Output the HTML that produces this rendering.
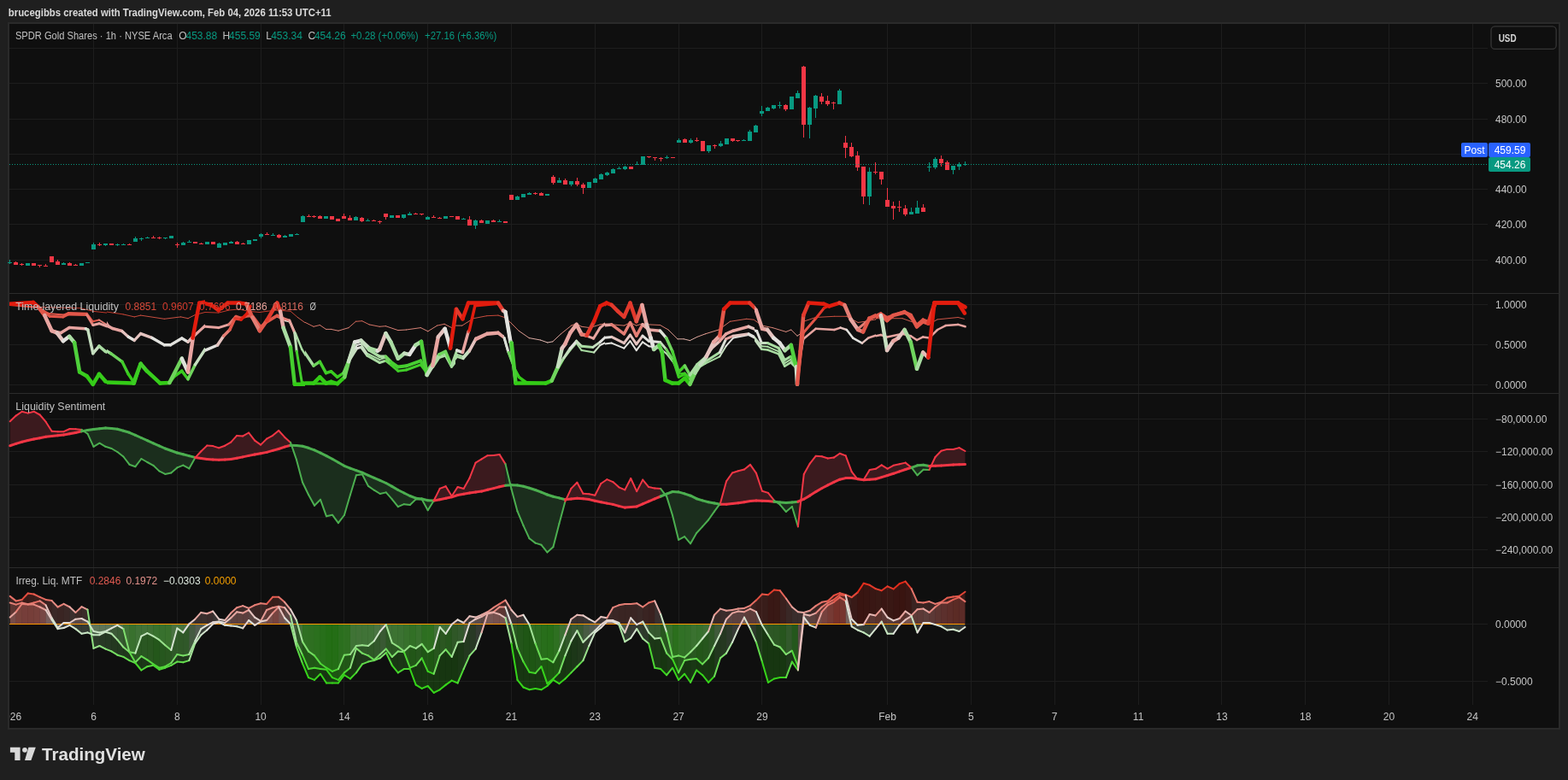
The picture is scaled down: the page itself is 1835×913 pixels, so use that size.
<!DOCTYPE html>
<html><head><meta charset="utf-8"><title>SPDR Gold Shares chart</title>
<style>html,body{margin:0;padding:0;background:#1f1f1f;width:1835px;height:913px;overflow:hidden}</style>
</head><body>
<svg width="1835" height="913" viewBox="0 0 1835 913" style="display:block">
<rect x="0" y="0" width="1835" height="913" fill="#1f1f1f"/>
<rect x="9" y="26" width="1817" height="828" fill="#2a2a2a"/>
<rect x="11" y="28" width="1813" height="824" fill="#0f0f0f"/>
<line x1="109.5" y1="28" x2="109.5" y2="825" stroke="#1d1d1d" stroke-width="1"/>
<line x1="207.5" y1="28" x2="207.5" y2="825" stroke="#1d1d1d" stroke-width="1"/>
<line x1="305.5" y1="28" x2="305.5" y2="825" stroke="#1d1d1d" stroke-width="1"/>
<line x1="402.5" y1="28" x2="402.5" y2="825" stroke="#1d1d1d" stroke-width="1"/>
<line x1="500.5" y1="28" x2="500.5" y2="825" stroke="#1d1d1d" stroke-width="1"/>
<line x1="598.5" y1="28" x2="598.5" y2="825" stroke="#1d1d1d" stroke-width="1"/>
<line x1="696.5" y1="28" x2="696.5" y2="825" stroke="#1d1d1d" stroke-width="1"/>
<line x1="794.5" y1="28" x2="794.5" y2="825" stroke="#1d1d1d" stroke-width="1"/>
<line x1="891.5" y1="28" x2="891.5" y2="825" stroke="#1d1d1d" stroke-width="1"/>
<line x1="1038.5" y1="28" x2="1038.5" y2="825" stroke="#1d1d1d" stroke-width="1"/>
<line x1="1136.5" y1="28" x2="1136.5" y2="825" stroke="#1d1d1d" stroke-width="1"/>
<line x1="1234.5" y1="28" x2="1234.5" y2="825" stroke="#1d1d1d" stroke-width="1"/>
<line x1="1332.5" y1="28" x2="1332.5" y2="825" stroke="#1d1d1d" stroke-width="1"/>
<line x1="1429.5" y1="28" x2="1429.5" y2="825" stroke="#1d1d1d" stroke-width="1"/>
<line x1="1527.5" y1="28" x2="1527.5" y2="825" stroke="#1d1d1d" stroke-width="1"/>
<line x1="1625.5" y1="28" x2="1625.5" y2="825" stroke="#1d1d1d" stroke-width="1"/>
<line x1="1723.5" y1="28" x2="1723.5" y2="825" stroke="#1d1d1d" stroke-width="1"/>
<line x1="11" y1="56.5" x2="1741" y2="56.5" stroke="#1d1d1d" stroke-width="1"/>
<line x1="11" y1="97.5" x2="1741" y2="97.5" stroke="#1d1d1d" stroke-width="1"/>
<line x1="11" y1="139.5" x2="1741" y2="139.5" stroke="#1d1d1d" stroke-width="1"/>
<line x1="11" y1="180.5" x2="1741" y2="180.5" stroke="#1d1d1d" stroke-width="1"/>
<line x1="11" y1="221.5" x2="1741" y2="221.5" stroke="#1d1d1d" stroke-width="1"/>
<line x1="11" y1="262.5" x2="1741" y2="262.5" stroke="#1d1d1d" stroke-width="1"/>
<line x1="11" y1="304.5" x2="1741" y2="304.5" stroke="#1d1d1d" stroke-width="1"/>
<line x1="11" y1="356.5" x2="1741" y2="356.5" stroke="#1d1d1d" stroke-width="1"/>
<line x1="11" y1="403.5" x2="1741" y2="403.5" stroke="#1d1d1d" stroke-width="1"/>
<line x1="11" y1="450.5" x2="1741" y2="450.5" stroke="#1d1d1d" stroke-width="1"/>
<line x1="11" y1="490.5" x2="1741" y2="490.5" stroke="#1d1d1d" stroke-width="1"/>
<line x1="11" y1="528.5" x2="1741" y2="528.5" stroke="#1d1d1d" stroke-width="1"/>
<line x1="11" y1="567.5" x2="1741" y2="567.5" stroke="#1d1d1d" stroke-width="1"/>
<line x1="11" y1="605.5" x2="1741" y2="605.5" stroke="#1d1d1d" stroke-width="1"/>
<line x1="11" y1="643.5" x2="1741" y2="643.5" stroke="#1d1d1d" stroke-width="1"/>
<line x1="11" y1="797.5" x2="1741" y2="797.5" stroke="#1d1d1d" stroke-width="1"/>
<line x1="11" y1="343.5" x2="1824" y2="343.5" stroke="#2b2b2b" stroke-width="1"/>
<line x1="11" y1="460.5" x2="1824" y2="460.5" stroke="#2b2b2b" stroke-width="1"/>
<line x1="11" y1="664.5" x2="1824" y2="664.5" stroke="#2b2b2b" stroke-width="1"/>
<g shape-rendering="crispEdges">
<rect x="11" y="304.0" width="1" height="5.0" fill="#089981"/>
<rect x="9" y="307.0" width="5" height="1.0" fill="#089981"/>
<rect x="18" y="306.0" width="1" height="4.0" fill="#f23645"/>
<rect x="16" y="307.0" width="5" height="3.0" fill="#f23645"/>
<rect x="25" y="308.0" width="1" height="3.0" fill="#f23645"/>
<rect x="23" y="309.0" width="5" height="1.0" fill="#f23645"/>
<rect x="32" y="308.0" width="1" height="3.0" fill="#089981"/>
<rect x="30" y="308.0" width="5" height="3.0" fill="#089981"/>
<rect x="39" y="308.0" width="1" height="3.0" fill="#f23645"/>
<rect x="37" y="308.0" width="5" height="3.0" fill="#f23645"/>
<rect x="46" y="310.0" width="1" height="3.0" fill="#f23645"/>
<rect x="44" y="310.0" width="5" height="1.0" fill="#f23645"/>
<rect x="53" y="309.0" width="1" height="3.0" fill="#f23645"/>
<rect x="51" y="311.0" width="5" height="1.0" fill="#f23645"/>
<rect x="60" y="300.0" width="1" height="7.0" fill="#f23645"/>
<rect x="58" y="300.0" width="5" height="7.0" fill="#f23645"/>
<rect x="67" y="304.0" width="1" height="6.0" fill="#f23645"/>
<rect x="65" y="306.0" width="5" height="4.0" fill="#f23645"/>
<rect x="74" y="307.0" width="1" height="3.0" fill="#089981"/>
<rect x="72" y="308.0" width="5" height="2.0" fill="#089981"/>
<rect x="81" y="307.0" width="1" height="4.0" fill="#f23645"/>
<rect x="79" y="308.0" width="5" height="3.0" fill="#f23645"/>
<rect x="88" y="309.0" width="1" height="2.0" fill="#f23645"/>
<rect x="86" y="310.0" width="5" height="1.0" fill="#f23645"/>
<rect x="95" y="308.0" width="1" height="3.0" fill="#089981"/>
<rect x="93" y="308.0" width="5" height="3.0" fill="#089981"/>
<rect x="102" y="307.0" width="1" height="1.0" fill="#089981"/>
<rect x="100" y="307.0" width="5" height="1.0" fill="#089981"/>
<rect x="109" y="284.0" width="1" height="8.0" fill="#089981"/>
<rect x="107" y="286.0" width="5" height="6.0" fill="#089981"/>
<rect x="116" y="284.0" width="1" height="4.0" fill="#f23645"/>
<rect x="114" y="285.5" width="5" height="1.0" fill="#f23645"/>
<rect x="123" y="284.5" width="1" height="3.5" fill="#089981"/>
<rect x="121" y="285.0" width="5" height="2.0" fill="#089981"/>
<rect x="130" y="285.0" width="1" height="2.0" fill="#f23645"/>
<rect x="128" y="285.0" width="5" height="2.0" fill="#f23645"/>
<rect x="137" y="284.5" width="1" height="3.5" fill="#089981"/>
<rect x="135" y="286.0" width="5" height="1.0" fill="#089981"/>
<rect x="144" y="285.0" width="1" height="2.0" fill="#089981"/>
<rect x="142" y="286.0" width="5" height="1.0" fill="#089981"/>
<rect x="151" y="285.0" width="1" height="2.0" fill="#f23645"/>
<rect x="149" y="286.0" width="5" height="1.0" fill="#f23645"/>
<rect x="158" y="277.0" width="1" height="6.0" fill="#089981"/>
<rect x="156" y="279.0" width="5" height="4.0" fill="#089981"/>
<rect x="165" y="278.0" width="1" height="4.0" fill="#089981"/>
<rect x="163" y="279.0" width="5" height="1.0" fill="#089981"/>
<rect x="172" y="277.0" width="1" height="2.0" fill="#089981"/>
<rect x="170" y="278.0" width="5" height="1.0" fill="#089981"/>
<rect x="179" y="276.0" width="1" height="3.0" fill="#f23645"/>
<rect x="177" y="277.5" width="5" height="1.5" fill="#f23645"/>
<rect x="186" y="277.0" width="1" height="3.0" fill="#f23645"/>
<rect x="184" y="278.0" width="5" height="1.0" fill="#f23645"/>
<rect x="193" y="278.3" width="1" height="1.4" fill="#089981"/>
<rect x="191" y="278.3" width="5" height="1.0" fill="#089981"/>
<rect x="200" y="276.1" width="1" height="2.9" fill="#089981"/>
<rect x="198" y="276.1" width="5" height="2.9" fill="#089981"/>
<rect x="207" y="284.1" width="1" height="5.4" fill="#f23645"/>
<rect x="205" y="285.6" width="5" height="1.0" fill="#f23645"/>
<rect x="214" y="283.0" width="1" height="3.9" fill="#089981"/>
<rect x="212" y="284.0" width="5" height="2.9" fill="#089981"/>
<rect x="221" y="281.2" width="1" height="2.8" fill="#089981"/>
<rect x="219" y="283.0" width="5" height="1.0" fill="#089981"/>
<rect x="228" y="283.2" width="1" height="1.7" fill="#f23645"/>
<rect x="226" y="283.2" width="5" height="1.7" fill="#f23645"/>
<rect x="235" y="284.1" width="1" height="2.0" fill="#f23645"/>
<rect x="233" y="284.6" width="5" height="1.0" fill="#f23645"/>
<rect x="242" y="283.2" width="1" height="2.7" fill="#089981"/>
<rect x="240" y="283.2" width="5" height="2.7" fill="#089981"/>
<rect x="249" y="283.2" width="1" height="2.7" fill="#f23645"/>
<rect x="247" y="283.2" width="5" height="2.7" fill="#f23645"/>
<rect x="256" y="284.1" width="1" height="5.9" fill="#089981"/>
<rect x="254" y="284.9" width="5" height="5.1" fill="#089981"/>
<rect x="263" y="284.1" width="1" height="2.8" fill="#089981"/>
<rect x="261" y="284.1" width="5" height="2.8" fill="#089981"/>
<rect x="270" y="282.0" width="1" height="2.9" fill="#089981"/>
<rect x="268" y="283.2" width="5" height="1.7" fill="#089981"/>
<rect x="277" y="282.0" width="1" height="3.9" fill="#f23645"/>
<rect x="275" y="283.2" width="5" height="2.7" fill="#f23645"/>
<rect x="284" y="284.0" width="1" height="2.0" fill="#f23645"/>
<rect x="282" y="285.0" width="5" height="1.0" fill="#f23645"/>
<rect x="291" y="281.2" width="1" height="4.7" fill="#089981"/>
<rect x="289" y="281.2" width="5" height="4.7" fill="#089981"/>
<rect x="298" y="280.0" width="1" height="2.0" fill="#089981"/>
<rect x="296" y="280.0" width="5" height="2.0" fill="#089981"/>
<rect x="305" y="272.9" width="1" height="5.8" fill="#089981"/>
<rect x="303" y="273.8" width="5" height="3.0" fill="#089981"/>
<rect x="312" y="271.9" width="1" height="2.9" fill="#f23645"/>
<rect x="310" y="273.8" width="5" height="1.0" fill="#f23645"/>
<rect x="319" y="272.9" width="1" height="2.9" fill="#089981"/>
<rect x="317" y="274.8" width="5" height="1.0" fill="#089981"/>
<rect x="326" y="273.8" width="1" height="5.2" fill="#f23645"/>
<rect x="324" y="275.1" width="5" height="3.0" fill="#f23645"/>
<rect x="333" y="274.8" width="1" height="3.0" fill="#089981"/>
<rect x="331" y="276.1" width="5" height="1.7" fill="#089981"/>
<rect x="340" y="274.1" width="1" height="2.7" fill="#089981"/>
<rect x="338" y="274.1" width="5" height="2.7" fill="#089981"/>
<rect x="347" y="272.9" width="1" height="1.9" fill="#089981"/>
<rect x="345" y="273.8" width="5" height="1.0" fill="#089981"/>
<rect x="354" y="251.9" width="1" height="8.1" fill="#089981"/>
<rect x="352" y="253.1" width="5" height="6.9" fill="#089981"/>
<rect x="361" y="250.7" width="1" height="3.1" fill="#f23645"/>
<rect x="359" y="252.9" width="5" height="1.0" fill="#f23645"/>
<rect x="367" y="252.2" width="1" height="2.9" fill="#f23645"/>
<rect x="365" y="252.9" width="5" height="1.0" fill="#f23645"/>
<rect x="374" y="252.2" width="1" height="3.6" fill="#f23645"/>
<rect x="372" y="253.1" width="5" height="2.7" fill="#f23645"/>
<rect x="381" y="253.1" width="1" height="2.7" fill="#089981"/>
<rect x="379" y="253.1" width="5" height="2.7" fill="#089981"/>
<rect x="388" y="253.1" width="1" height="4.0" fill="#f23645"/>
<rect x="386" y="253.1" width="5" height="4.0" fill="#f23645"/>
<rect x="395" y="256.1" width="1" height="2.9" fill="#f23645"/>
<rect x="393" y="256.1" width="5" height="2.9" fill="#f23645"/>
<rect x="402" y="249.9" width="1" height="5.9" fill="#f23645"/>
<rect x="400" y="253.1" width="5" height="2.7" fill="#f23645"/>
<rect x="409" y="251.9" width="1" height="6.2" fill="#f23645"/>
<rect x="407" y="255.1" width="5" height="3.0" fill="#f23645"/>
<rect x="416" y="253.1" width="1" height="5.0" fill="#089981"/>
<rect x="414" y="254.1" width="5" height="4.0" fill="#089981"/>
<rect x="423" y="253.8" width="1" height="6.5" fill="#f23645"/>
<rect x="421" y="254.6" width="5" height="4.4" fill="#f23645"/>
<rect x="430" y="256.1" width="1" height="2.6" fill="#089981"/>
<rect x="428" y="257.8" width="5" height="1.0" fill="#089981"/>
<rect x="437" y="257.1" width="1" height="1.6" fill="#f23645"/>
<rect x="435" y="257.8" width="5" height="1.0" fill="#f23645"/>
<rect x="444" y="258.1" width="1" height="3.9" fill="#f23645"/>
<rect x="442" y="259.0" width="5" height="1.0" fill="#f23645"/>
<rect x="451" y="249.9" width="1" height="7.2" fill="#f23645"/>
<rect x="449" y="249.9" width="5" height="3.9" fill="#f23645"/>
<rect x="458" y="252.2" width="1" height="2.6" fill="#089981"/>
<rect x="456" y="252.2" width="5" height="2.6" fill="#089981"/>
<rect x="465" y="252.2" width="1" height="2.6" fill="#f23645"/>
<rect x="463" y="252.2" width="5" height="2.6" fill="#f23645"/>
<rect x="472" y="251.2" width="1" height="4.9" fill="#089981"/>
<rect x="470" y="251.2" width="5" height="3.9" fill="#089981"/>
<rect x="479" y="248.0" width="1" height="3.9" fill="#089981"/>
<rect x="477" y="249.7" width="5" height="2.2" fill="#089981"/>
<rect x="486" y="249.0" width="1" height="1.9" fill="#f23645"/>
<rect x="484" y="249.9" width="5" height="1.0" fill="#f23645"/>
<rect x="493" y="249.9" width="1" height="2.3" fill="#f23645"/>
<rect x="491" y="249.9" width="5" height="1.0" fill="#f23645"/>
<rect x="500" y="253.1" width="1" height="4.0" fill="#089981"/>
<rect x="498" y="254.1" width="5" height="3.0" fill="#089981"/>
<rect x="507" y="252.2" width="1" height="2.6" fill="#f23645"/>
<rect x="505" y="253.8" width="5" height="1.0" fill="#f23645"/>
<rect x="514" y="254.1" width="1" height="1.7" fill="#f23645"/>
<rect x="512" y="255.1" width="5" height="1.0" fill="#f23645"/>
<rect x="521" y="253.1" width="1" height="2.7" fill="#089981"/>
<rect x="519" y="253.1" width="5" height="2.7" fill="#089981"/>
<rect x="528" y="253.0" width="1" height="1.0" fill="#f23645"/>
<rect x="526" y="253.0" width="5" height="1.0" fill="#f23645"/>
<rect x="535" y="253.0" width="1" height="3.9" fill="#f23645"/>
<rect x="533" y="253.0" width="5" height="3.9" fill="#f23645"/>
<rect x="542" y="254.9" width="1" height="2.0" fill="#089981"/>
<rect x="540" y="255.9" width="5" height="1.0" fill="#089981"/>
<rect x="549" y="253.0" width="1" height="11.0" fill="#f23645"/>
<rect x="547" y="257.1" width="5" height="6.9" fill="#f23645"/>
<rect x="556" y="256.9" width="1" height="11.0" fill="#089981"/>
<rect x="554" y="257.9" width="5" height="6.1" fill="#089981"/>
<rect x="563" y="256.9" width="1" height="4.1" fill="#f23645"/>
<rect x="561" y="258.1" width="5" height="2.9" fill="#f23645"/>
<rect x="570" y="258.1" width="1" height="3.9" fill="#089981"/>
<rect x="568" y="258.1" width="5" height="3.9" fill="#089981"/>
<rect x="577" y="256.9" width="1" height="3.1" fill="#f23645"/>
<rect x="575" y="258.1" width="5" height="1.9" fill="#f23645"/>
<rect x="584" y="256.9" width="1" height="3.1" fill="#089981"/>
<rect x="582" y="258.6" width="5" height="1.4" fill="#089981"/>
<rect x="591" y="258.9" width="1" height="2.1" fill="#f23645"/>
<rect x="589" y="258.9" width="5" height="2.1" fill="#f23645"/>
<rect x="598" y="228.0" width="1" height="6.1" fill="#f23645"/>
<rect x="596" y="228.0" width="5" height="6.1" fill="#f23645"/>
<rect x="605" y="229.0" width="1" height="5.1" fill="#089981"/>
<rect x="603" y="230.2" width="5" height="3.9" fill="#089981"/>
<rect x="612" y="227.0" width="1" height="3.9" fill="#089981"/>
<rect x="610" y="227.0" width="5" height="3.9" fill="#089981"/>
<rect x="619" y="225.0" width="1" height="3.0" fill="#089981"/>
<rect x="617" y="226.0" width="5" height="2.0" fill="#089981"/>
<rect x="626" y="225.0" width="1" height="3.0" fill="#f23645"/>
<rect x="624" y="226.0" width="5" height="1.0" fill="#f23645"/>
<rect x="633" y="225.0" width="1" height="3.9" fill="#f23645"/>
<rect x="631" y="226.0" width="5" height="2.9" fill="#f23645"/>
<rect x="640" y="227.0" width="1" height="1.9" fill="#089981"/>
<rect x="638" y="227.0" width="5" height="1.9" fill="#089981"/>
<rect x="647" y="204.9" width="1" height="11.0" fill="#f23645"/>
<rect x="645" y="206.9" width="5" height="6.8" fill="#f23645"/>
<rect x="654" y="208.0" width="1" height="5.9" fill="#089981"/>
<rect x="652" y="211.0" width="5" height="2.9" fill="#089981"/>
<rect x="661" y="209.0" width="1" height="6.9" fill="#f23645"/>
<rect x="659" y="211.0" width="5" height="4.9" fill="#f23645"/>
<rect x="668" y="212.0" width="1" height="5.9" fill="#089981"/>
<rect x="666" y="212.0" width="5" height="3.9" fill="#089981"/>
<rect x="675" y="208.0" width="1" height="9.9" fill="#f23645"/>
<rect x="673" y="212.0" width="5" height="3.9" fill="#f23645"/>
<rect x="682" y="214.2" width="1" height="12.8" fill="#f23645"/>
<rect x="680" y="216.2" width="5" height="3.6" fill="#f23645"/>
<rect x="689" y="213.2" width="1" height="6.6" fill="#089981"/>
<rect x="687" y="213.2" width="5" height="6.6" fill="#089981"/>
<rect x="696" y="208.3" width="1" height="5.9" fill="#089981"/>
<rect x="694" y="209.3" width="5" height="4.9" fill="#089981"/>
<rect x="703" y="202.9" width="1" height="6.8" fill="#089981"/>
<rect x="701" y="203.9" width="5" height="5.8" fill="#089981"/>
<rect x="710" y="200.9" width="1" height="4.9" fill="#089981"/>
<rect x="708" y="201.9" width="5" height="3.1" fill="#089981"/>
<rect x="717" y="197.0" width="1" height="5.9" fill="#089981"/>
<rect x="715" y="198.0" width="5" height="4.9" fill="#089981"/>
<rect x="724" y="195.0" width="1" height="3.0" fill="#089981"/>
<rect x="722" y="197.0" width="5" height="1.0" fill="#089981"/>
<rect x="731" y="194.0" width="1" height="5.0" fill="#089981"/>
<rect x="729" y="195.0" width="5" height="3.0" fill="#089981"/>
<rect x="738" y="195.2" width="1" height="2.8" fill="#f23645"/>
<rect x="736" y="195.2" width="5" height="2.8" fill="#f23645"/>
<rect x="745" y="189.1" width="1" height="3.8" fill="#089981"/>
<rect x="743" y="191.9" width="5" height="1.0" fill="#089981"/>
<rect x="752" y="183.1" width="1" height="9.8" fill="#089981"/>
<rect x="750" y="183.1" width="5" height="9.8" fill="#089981"/>
<rect x="759" y="183.1" width="1" height="1.9" fill="#f23645"/>
<rect x="757" y="183.1" width="5" height="1.0" fill="#f23645"/>
<rect x="766" y="183.5" width="1" height="4.5" fill="#f23645"/>
<rect x="764" y="184.3" width="5" height="1.0" fill="#f23645"/>
<rect x="773" y="184.3" width="1" height="4.7" fill="#f23645"/>
<rect x="771" y="184.8" width="5" height="1.0" fill="#f23645"/>
<rect x="780" y="182.1" width="1" height="3.9" fill="#089981"/>
<rect x="778" y="184.0" width="5" height="1.0" fill="#089981"/>
<rect x="787" y="184.0" width="1" height="1.0" fill="#f23645"/>
<rect x="785" y="184.0" width="5" height="1.0" fill="#f23645"/>
<rect x="794" y="161.9" width="1" height="4.9" fill="#089981"/>
<rect x="792" y="164.1" width="5" height="2.7" fill="#089981"/>
<rect x="801" y="162.0" width="1" height="4.8" fill="#f23645"/>
<rect x="799" y="163.1" width="5" height="3.7" fill="#f23645"/>
<rect x="808" y="162.2" width="1" height="5.6" fill="#089981"/>
<rect x="806" y="163.8" width="5" height="3.3" fill="#089981"/>
<rect x="815" y="160.9" width="1" height="4.9" fill="#f23645"/>
<rect x="813" y="163.8" width="5" height="1.0" fill="#f23645"/>
<rect x="822" y="165.1" width="1" height="11.8" fill="#f23645"/>
<rect x="820" y="165.1" width="5" height="11.8" fill="#f23645"/>
<rect x="829" y="170.0" width="1" height="8.8" fill="#089981"/>
<rect x="827" y="170.0" width="5" height="6.9" fill="#089981"/>
<rect x="836" y="168.5" width="1" height="5.4" fill="#f23645"/>
<rect x="834" y="170.0" width="5" height="1.0" fill="#f23645"/>
<rect x="843" y="165.1" width="1" height="6.9" fill="#089981"/>
<rect x="841" y="168.1" width="5" height="2.9" fill="#089981"/>
<rect x="850" y="161.9" width="1" height="6.8" fill="#089981"/>
<rect x="848" y="161.9" width="5" height="6.8" fill="#089981"/>
<rect x="857" y="162.2" width="1" height="3.6" fill="#f23645"/>
<rect x="855" y="162.2" width="5" height="2.9" fill="#f23645"/>
<rect x="863" y="164.1" width="1" height="1.9" fill="#f23645"/>
<rect x="861" y="164.1" width="5" height="1.1" fill="#f23645"/>
<rect x="870" y="163.0" width="1" height="1.9" fill="#089981"/>
<rect x="868" y="163.8" width="5" height="1.1" fill="#089981"/>
<rect x="877" y="151.9" width="1" height="13.0" fill="#089981"/>
<rect x="875" y="154.0" width="5" height="10.9" fill="#089981"/>
<rect x="884" y="146.0" width="1" height="9.1" fill="#089981"/>
<rect x="882" y="146.8" width="5" height="8.3" fill="#089981"/>
<rect x="891" y="123.8" width="1" height="12.3" fill="#089981"/>
<rect x="889" y="130.0" width="5" height="3.0" fill="#089981"/>
<rect x="898" y="125.0" width="1" height="4.8" fill="#089981"/>
<rect x="896" y="126.1" width="5" height="3.7" fill="#089981"/>
<rect x="905" y="123.1" width="1" height="4.7" fill="#089981"/>
<rect x="903" y="123.1" width="5" height="3.8" fill="#089981"/>
<rect x="912" y="119.2" width="1" height="7.7" fill="#089981"/>
<rect x="910" y="122.7" width="5" height="1.1" fill="#089981"/>
<rect x="919" y="122.0" width="1" height="8.0" fill="#f23645"/>
<rect x="917" y="123.1" width="5" height="5.0" fill="#f23645"/>
<rect x="926" y="113.1" width="1" height="15.0" fill="#089981"/>
<rect x="924" y="113.1" width="5" height="15.0" fill="#089981"/>
<rect x="933" y="105.9" width="1" height="9.0" fill="#089981"/>
<rect x="931" y="109.1" width="5" height="5.8" fill="#089981"/>
<rect x="940" y="77.1" width="1" height="84.0" fill="#f23645"/>
<rect x="938" y="77.8" width="5" height="68.1" fill="#f23645"/>
<rect x="947" y="125.0" width="1" height="37.0" fill="#089981"/>
<rect x="945" y="125.8" width="5" height="20.1" fill="#089981"/>
<rect x="954" y="111.0" width="1" height="26.9" fill="#089981"/>
<rect x="952" y="112.0" width="5" height="14.9" fill="#089981"/>
<rect x="961" y="109.1" width="1" height="12.9" fill="#f23645"/>
<rect x="959" y="113.1" width="5" height="5.8" fill="#f23645"/>
<rect x="968" y="112.0" width="1" height="12.1" fill="#f23645"/>
<rect x="966" y="118.1" width="5" height="3.9" fill="#f23645"/>
<rect x="975" y="119.2" width="1" height="8.9" fill="#f23645"/>
<rect x="973" y="119.7" width="5" height="1.1" fill="#f23645"/>
<rect x="982" y="103.9" width="1" height="18.1" fill="#089981"/>
<rect x="980" y="105.9" width="5" height="16.1" fill="#089981"/>
<rect x="989" y="158.8" width="1" height="26.2" fill="#f23645"/>
<rect x="987" y="166.9" width="5" height="6.0" fill="#f23645"/>
<rect x="996" y="167.1" width="1" height="16.8" fill="#f23645"/>
<rect x="994" y="172.0" width="5" height="11.2" fill="#f23645"/>
<rect x="1003" y="177.0" width="1" height="23.0" fill="#f23645"/>
<rect x="1001" y="181.9" width="5" height="14.0" fill="#f23645"/>
<rect x="1010" y="195.0" width="1" height="43.9" fill="#f23645"/>
<rect x="1008" y="195.0" width="5" height="34.9" fill="#f23645"/>
<rect x="1017" y="195.9" width="1" height="44.1" fill="#089981"/>
<rect x="1015" y="201.1" width="5" height="28.8" fill="#089981"/>
<rect x="1024" y="189.8" width="1" height="14.2" fill="#f23645"/>
<rect x="1022" y="201.1" width="5" height="1.1" fill="#f23645"/>
<rect x="1031" y="201.1" width="1" height="15.0" fill="#f23645"/>
<rect x="1029" y="201.1" width="5" height="8.7" fill="#f23645"/>
<rect x="1038" y="220.0" width="1" height="22.1" fill="#f23645"/>
<rect x="1036" y="233.9" width="5" height="8.2" fill="#f23645"/>
<rect x="1045" y="235.8" width="1" height="21.1" fill="#f23645"/>
<rect x="1043" y="241.0" width="5" height="2.8" fill="#f23645"/>
<rect x="1052" y="235.0" width="1" height="12.8" fill="#f23645"/>
<rect x="1050" y="241.5" width="5" height="1.3" fill="#f23645"/>
<rect x="1059" y="240.0" width="1" height="12.9" fill="#f23645"/>
<rect x="1057" y="244.1" width="5" height="7.0" fill="#f23645"/>
<rect x="1066" y="243.0" width="1" height="7.9" fill="#089981"/>
<rect x="1064" y="247.8" width="5" height="3.1" fill="#089981"/>
<rect x="1073" y="235.0" width="1" height="15.0" fill="#089981"/>
<rect x="1071" y="243.0" width="5" height="7.0" fill="#089981"/>
<rect x="1080" y="238.9" width="1" height="8.9" fill="#f23645"/>
<rect x="1078" y="243.0" width="5" height="4.8" fill="#f23645"/>
<rect x="1087" y="189.8" width="1" height="11.3" fill="#089981"/>
<rect x="1085" y="194.8" width="5" height="1.6" fill="#089981"/>
<rect x="1094" y="183.9" width="1" height="13.9" fill="#089981"/>
<rect x="1092" y="186.1" width="5" height="9.8" fill="#089981"/>
<rect x="1101" y="181.9" width="1" height="13.1" fill="#f23645"/>
<rect x="1099" y="186.1" width="5" height="4.8" fill="#f23645"/>
<rect x="1108" y="187.9" width="1" height="11.0" fill="#f23645"/>
<rect x="1106" y="189.8" width="5" height="9.1" fill="#f23645"/>
<rect x="1115" y="194.0" width="1" height="9.8" fill="#089981"/>
<rect x="1113" y="194.0" width="5" height="4.9" fill="#089981"/>
<rect x="1122" y="189.8" width="1" height="9.1" fill="#089981"/>
<rect x="1120" y="192.0" width="5" height="2.8" fill="#089981"/>
<rect x="1129" y="189.0" width="1" height="4.7" fill="#089981"/>
<rect x="1127" y="192.0" width="5" height="1.0" fill="#089981"/>
</g>
<line x1="11" y1="192.5" x2="1741" y2="192.5" stroke="#089981" stroke-width="1" stroke-dasharray="1 2"/>
<defs>
<clipPath id="c2_0"><rect x="10" y="344" width="115" height="116"/></clipPath>
<clipPath id="c2_1"><rect x="125" y="344" width="115" height="116"/></clipPath>
<clipPath id="c2_2"><rect x="240" y="344" width="117" height="116"/></clipPath>
<clipPath id="c2_3"><rect x="357" y="344" width="176" height="116"/></clipPath>
<clipPath id="c2_4"><rect x="533" y="344" width="175" height="116"/></clipPath>
<clipPath id="c2_5"><rect x="708" y="344" width="175" height="116"/></clipPath>
<clipPath id="c2_6"><rect x="883" y="344" width="142" height="116"/></clipPath>
<clipPath id="c2_7"><rect x="1025" y="344" width="110" height="116"/></clipPath>
<clipPath id="cp2"><rect x="11" y="344" width="1730" height="116"/></clipPath>
</defs>
<g clip-path="url(#cp2)" stroke-linecap="round" stroke-linejoin="round" fill="none">
<g clip-path="url(#c2_0)">
<line x1="10.0" y1="357.0" x2="46.1" y2="359.5" stroke="#c0392b" stroke-width="1"/>
<line x1="46.1" y1="359.5" x2="94.3" y2="360.7" stroke="#c0392b" stroke-width="1"/>
<line x1="94.3" y1="360.7" x2="108.8" y2="364.3" stroke="#c0392b" stroke-width="1"/>
<line x1="108.8" y1="364.3" x2="130.0" y2="366.7" stroke="#c0392b" stroke-width="1"/>
<line x1="10.0" y1="357.0" x2="46.1" y2="360.1" stroke="#e2392c" stroke-width="2"/>
<line x1="46.1" y1="360.1" x2="52.2" y2="364.3" stroke="#e2574a" stroke-width="2"/>
<line x1="52.2" y1="364.3" x2="58.2" y2="367.3" stroke="#e2574a" stroke-width="2"/>
<line x1="58.2" y1="367.3" x2="75.1" y2="368.5" stroke="#e2574a" stroke-width="2"/>
<line x1="75.1" y1="368.5" x2="79.9" y2="366.1" stroke="#e2574a" stroke-width="2"/>
<line x1="79.9" y1="366.1" x2="101.6" y2="366.7" stroke="#e2574a" stroke-width="2"/>
<line x1="101.6" y1="366.7" x2="108.8" y2="376.3" stroke="#e2574a" stroke-width="2"/>
<line x1="108.8" y1="376.3" x2="116.0" y2="374.5" stroke="#e2574a" stroke-width="2"/>
<line x1="116.0" y1="374.5" x2="124.5" y2="379.9" stroke="#e47e75" stroke-width="2"/>
<line x1="124.5" y1="379.9" x2="130.0" y2="382.3" stroke="#e7a4a0" stroke-width="2"/>
<line x1="10.0" y1="356.4" x2="38.9" y2="354.6" stroke="#e21c0e" stroke-width="3"/>
<line x1="38.9" y1="354.6" x2="46.1" y2="360.7" stroke="#e2392c" stroke-width="3"/>
<line x1="46.1" y1="360.7" x2="58.2" y2="370.3" stroke="#e2574a" stroke-width="3"/>
<line x1="58.2" y1="370.3" x2="73.9" y2="370.9" stroke="#e2574a" stroke-width="3"/>
<line x1="73.9" y1="370.9" x2="79.9" y2="367.9" stroke="#e2574a" stroke-width="3"/>
<line x1="79.9" y1="367.9" x2="101.6" y2="368.5" stroke="#e2574a" stroke-width="3"/>
<line x1="101.6" y1="368.5" x2="108.8" y2="380.5" stroke="#e47e75" stroke-width="3"/>
<line x1="108.8" y1="380.5" x2="116.0" y2="378.7" stroke="#e7a4a0" stroke-width="3"/>
<line x1="116.0" y1="378.7" x2="130.0" y2="383.6" stroke="#e7a4a0" stroke-width="3"/>
<line x1="10.0" y1="356.4" x2="38.9" y2="354.6" stroke="#e21c0e" stroke-width="3.5"/>
<line x1="38.9" y1="354.6" x2="44.9" y2="359.5" stroke="#e21c0e" stroke-width="3.5"/>
<line x1="44.9" y1="359.5" x2="52.2" y2="369.1" stroke="#e2574a" stroke-width="3.5"/>
<line x1="52.2" y1="369.1" x2="60.6" y2="387.2" stroke="#e7a4a0" stroke-width="3.5"/>
<line x1="60.6" y1="387.2" x2="71.4" y2="389.6" stroke="#e7a4a0" stroke-width="3.5"/>
<line x1="71.4" y1="389.6" x2="81.1" y2="383.6" stroke="#e7a4a0" stroke-width="3.5"/>
<line x1="81.1" y1="383.6" x2="100.4" y2="384.8" stroke="#e7a4a0" stroke-width="3.5"/>
<line x1="100.4" y1="384.8" x2="102.8" y2="386.0" stroke="#dce1d8" stroke-width="3.5"/>
<line x1="102.8" y1="386.0" x2="108.8" y2="413.7" stroke="#c6dfc0" stroke-width="3.5"/>
<line x1="108.8" y1="413.7" x2="116.0" y2="405.2" stroke="#c6dfc0" stroke-width="3.5"/>
<line x1="116.0" y1="405.2" x2="123.3" y2="411.3" stroke="#a9dca2" stroke-width="3.5"/>
<line x1="123.3" y1="411.3" x2="130.0" y2="414.9" stroke="#a9dca2" stroke-width="3.5"/>
<line x1="10.0" y1="355.8" x2="38.9" y2="354.0" stroke="#e21c0e" stroke-width="4.5"/>
<line x1="38.9" y1="354.0" x2="44.9" y2="359.5" stroke="#e21c0e" stroke-width="4.5"/>
<line x1="44.9" y1="359.5" x2="52.2" y2="369.1" stroke="#e2574a" stroke-width="4.5"/>
<line x1="52.2" y1="369.1" x2="60.6" y2="387.2" stroke="#e7a4a0" stroke-width="4.5"/>
<line x1="60.6" y1="387.2" x2="66.6" y2="389.6" stroke="#e7a4a0" stroke-width="4.5"/>
<line x1="66.6" y1="389.6" x2="73.9" y2="399.2" stroke="#e4c3bf" stroke-width="4.5"/>
<line x1="73.9" y1="399.2" x2="81.1" y2="393.8" stroke="#e2e2de" stroke-width="4.5"/>
<line x1="81.1" y1="393.8" x2="87.1" y2="401.0" stroke="#a9dca2" stroke-width="4.5"/>
<line x1="87.1" y1="401.0" x2="93.1" y2="435.4" stroke="#4fd03c" stroke-width="4.5"/>
<line x1="93.1" y1="435.4" x2="101.6" y2="440.2" stroke="#3bcd21" stroke-width="4.5"/>
<line x1="101.6" y1="440.2" x2="108.8" y2="449.8" stroke="#34cc17" stroke-width="4.5"/>
<line x1="108.8" y1="449.8" x2="116.0" y2="437.8" stroke="#35cc19" stroke-width="4.5"/>
<line x1="116.0" y1="437.8" x2="123.3" y2="446.2" stroke="#37cc1b" stroke-width="4.5"/>
<line x1="123.3" y1="446.2" x2="130.0" y2="448.6" stroke="#33cc16" stroke-width="4.5"/>
</g>
<g clip-path="url(#c2_1)">
<line x1="120.0" y1="364.3" x2="144.1" y2="367.9" stroke="#c13a2c" stroke-width="1"/>
<line x1="144.1" y1="367.9" x2="157.3" y2="370.9" stroke="#c54739" stroke-width="1"/>
<line x1="157.3" y1="370.9" x2="164.6" y2="369.1" stroke="#c64a3b" stroke-width="1"/>
<line x1="164.6" y1="369.1" x2="192.3" y2="373.3" stroke="#c84e40" stroke-width="1"/>
<line x1="192.3" y1="373.3" x2="211.6" y2="370.9" stroke="#c95243" stroke-width="1"/>
<line x1="211.6" y1="370.9" x2="220.0" y2="372.7" stroke="#c95142" stroke-width="1"/>
<line x1="220.0" y1="372.7" x2="228.4" y2="368.5" stroke="#c74c3e" stroke-width="1"/>
<line x1="228.4" y1="368.5" x2="240.0" y2="365.5" stroke="#c23e30" stroke-width="1"/>
<line x1="120.0" y1="375.7" x2="124.8" y2="377.5" stroke="#e7a4a0" stroke-width="2"/>
<line x1="124.8" y1="377.5" x2="127.2" y2="381.1" stroke="#e7a4a0" stroke-width="2"/>
<line x1="127.2" y1="381.1" x2="132.0" y2="383.8" stroke="#e7a4a0" stroke-width="2"/>
<line x1="132.0" y1="383.8" x2="142.9" y2="386.8" stroke="#e7a4a0" stroke-width="2"/>
<line x1="142.9" y1="386.8" x2="150.1" y2="393.4" stroke="#e4c3bf" stroke-width="2"/>
<line x1="150.1" y1="393.4" x2="157.3" y2="397.7" stroke="#e2e2de" stroke-width="2"/>
<line x1="157.3" y1="397.7" x2="164.6" y2="389.8" stroke="#e4c3bf" stroke-width="2"/>
<line x1="164.6" y1="389.8" x2="177.8" y2="394.6" stroke="#e4c3bf" stroke-width="2"/>
<line x1="177.8" y1="394.6" x2="192.3" y2="403.1" stroke="#e2e2de" stroke-width="2"/>
<line x1="192.3" y1="403.1" x2="199.5" y2="403.1" stroke="#e2e2de" stroke-width="2"/>
<line x1="199.5" y1="403.1" x2="212.8" y2="395.2" stroke="#e2e2de" stroke-width="2"/>
<line x1="212.8" y1="395.2" x2="220.0" y2="399.5" stroke="#e2e2de" stroke-width="2"/>
<line x1="220.0" y1="399.5" x2="226.0" y2="392.6" stroke="#e4c3bf" stroke-width="2"/>
<line x1="226.0" y1="392.6" x2="240.0" y2="382.3" stroke="#e7a4a0" stroke-width="2"/>
<line x1="120.0" y1="379.9" x2="127.2" y2="382.3" stroke="#e7a4a0" stroke-width="3"/>
<line x1="127.2" y1="382.3" x2="132.0" y2="384.8" stroke="#e7a4a0" stroke-width="3"/>
<line x1="132.0" y1="384.8" x2="142.9" y2="387.8" stroke="#e7a4a0" stroke-width="3"/>
<line x1="142.9" y1="387.8" x2="150.1" y2="394.4" stroke="#e4c3bf" stroke-width="3"/>
<line x1="150.1" y1="394.4" x2="157.3" y2="398.6" stroke="#e2e2de" stroke-width="3"/>
<line x1="157.3" y1="398.6" x2="164.6" y2="390.8" stroke="#e4c3bf" stroke-width="3"/>
<line x1="164.6" y1="390.8" x2="177.8" y2="395.6" stroke="#e4c3bf" stroke-width="3"/>
<line x1="177.8" y1="395.6" x2="192.3" y2="404.0" stroke="#e2e2de" stroke-width="3"/>
<line x1="192.3" y1="404.0" x2="199.5" y2="404.0" stroke="#e2e2de" stroke-width="3"/>
<line x1="199.5" y1="404.0" x2="212.8" y2="396.2" stroke="#e2e2de" stroke-width="3"/>
<line x1="212.8" y1="396.2" x2="220.0" y2="400.4" stroke="#e2e2de" stroke-width="3"/>
<line x1="220.0" y1="400.4" x2="224.8" y2="395.6" stroke="#e4c3bf" stroke-width="3"/>
<line x1="224.8" y1="395.6" x2="240.0" y2="381.1" stroke="#e7a4a0" stroke-width="3"/>
<line x1="120.0" y1="407.7" x2="129.6" y2="413.7" stroke="#a9dca2" stroke-width="3.5"/>
<line x1="129.6" y1="413.7" x2="142.9" y2="423.3" stroke="#6fd45d" stroke-width="3.5"/>
<line x1="142.9" y1="423.3" x2="150.1" y2="437.8" stroke="#42ce2b" stroke-width="3.5"/>
<line x1="150.1" y1="437.8" x2="157.3" y2="448.6" stroke="#35cc19" stroke-width="3.5"/>
<line x1="157.3" y1="448.6" x2="164.6" y2="425.7" stroke="#3bcd22" stroke-width="3.5"/>
<line x1="164.6" y1="425.7" x2="171.8" y2="434.2" stroke="#42ce2b" stroke-width="3.5"/>
<line x1="171.8" y1="434.2" x2="187.5" y2="448.6" stroke="#37cd1c" stroke-width="3.5"/>
<line x1="187.5" y1="448.6" x2="198.3" y2="448.0" stroke="#33cc16" stroke-width="3.5"/>
<line x1="198.3" y1="448.0" x2="204.3" y2="440.2" stroke="#35cc18" stroke-width="3.5"/>
<line x1="204.3" y1="440.2" x2="212.8" y2="434.2" stroke="#3bcd22" stroke-width="3.5"/>
<line x1="212.8" y1="434.2" x2="220.0" y2="443.8" stroke="#3acd1f" stroke-width="3.5"/>
<line x1="220.0" y1="443.8" x2="228.4" y2="426.9" stroke="#6fd45d" stroke-width="3.5"/>
<line x1="228.4" y1="426.9" x2="240.0" y2="408.9" stroke="#c6dfc0" stroke-width="3.5"/>
<line x1="120.0" y1="441.4" x2="123.6" y2="447.4" stroke="#34cc18" stroke-width="4.5"/>
<line x1="123.6" y1="447.4" x2="156.1" y2="448.6" stroke="#33cc16" stroke-width="4.5"/>
<line x1="156.1" y1="448.6" x2="164.6" y2="425.7" stroke="#3bcd22" stroke-width="4.5"/>
<line x1="164.6" y1="425.7" x2="171.8" y2="434.2" stroke="#42ce2b" stroke-width="4.5"/>
<line x1="171.8" y1="434.2" x2="187.5" y2="448.6" stroke="#37cd1c" stroke-width="4.5"/>
<line x1="187.5" y1="448.6" x2="198.3" y2="448.0" stroke="#33cc16" stroke-width="4.5"/>
<line x1="198.3" y1="448.0" x2="212.8" y2="419.7" stroke="#6fd45d" stroke-width="4.5"/>
<line x1="212.8" y1="419.7" x2="220.0" y2="435.4" stroke="#dce1d8" stroke-width="4.5"/>
<line x1="220.0" y1="435.4" x2="226.0" y2="394.4" stroke="#e7a4a0" stroke-width="4.5"/>
<line x1="225.5" y1="395.6" x2="233.3" y2="354.6" stroke="#e21c0e" stroke-width="4.5"/>
<line x1="233.3" y1="354.6" x2="240.0" y2="353.4" stroke="#e21c0e" stroke-width="4.5"/>
</g>
<g clip-path="url(#c2_2)">
<line x1="240.0" y1="365.5" x2="255.7" y2="366.1" stroke="#c0392b" stroke-width="1"/>
<line x1="255.7" y1="366.1" x2="267.7" y2="363.1" stroke="#c0392b" stroke-width="1"/>
<line x1="267.7" y1="363.1" x2="279.8" y2="361.9" stroke="#c0392b" stroke-width="1"/>
<line x1="279.8" y1="361.9" x2="290.6" y2="364.3" stroke="#c0392b" stroke-width="1"/>
<line x1="290.6" y1="364.3" x2="303.9" y2="365.5" stroke="#c0392b" stroke-width="1"/>
<line x1="303.9" y1="365.5" x2="312.3" y2="364.3" stroke="#c0392b" stroke-width="1"/>
<line x1="312.3" y1="364.3" x2="324.3" y2="363.1" stroke="#c0392b" stroke-width="1"/>
<line x1="324.3" y1="363.1" x2="340.0" y2="364.3" stroke="#c0392b" stroke-width="1"/>
<line x1="340.0" y1="364.3" x2="348.4" y2="371.5" stroke="#c34233" stroke-width="1"/>
<line x1="348.4" y1="371.5" x2="360.0" y2="379.9" stroke="#ce6051" stroke-width="1"/>
<line x1="312.3" y1="377.5" x2="324.3" y2="370.3" stroke="#e2574a" stroke-width="2.5"/>
<line x1="324.3" y1="370.3" x2="334.0" y2="375.1" stroke="#e47e75" stroke-width="2.5"/>
<line x1="334.0" y1="375.1" x2="338.8" y2="376.3" stroke="#dce1d8" stroke-width="2.5"/>
<line x1="338.8" y1="376.3" x2="346.0" y2="390.8" stroke="#a9dca2" stroke-width="2.5"/>
<line x1="346.0" y1="390.8" x2="353.3" y2="408.9" stroke="#a9dca2" stroke-width="2.5"/>
<line x1="353.3" y1="408.9" x2="360.0" y2="419.7" stroke="#a9dca2" stroke-width="2.5"/>
<line x1="240.0" y1="382.3" x2="255.7" y2="383.6" stroke="#e7a4a0" stroke-width="3"/>
<line x1="255.7" y1="383.6" x2="267.7" y2="379.9" stroke="#e7a4a0" stroke-width="3"/>
<line x1="267.7" y1="379.9" x2="276.1" y2="370.3" stroke="#e47e75" stroke-width="3"/>
<line x1="276.1" y1="370.3" x2="282.2" y2="372.1" stroke="#e2574a" stroke-width="3"/>
<line x1="282.2" y1="372.1" x2="290.6" y2="369.7" stroke="#e2574a" stroke-width="3"/>
<line x1="290.6" y1="369.7" x2="296.6" y2="370.9" stroke="#e2574a" stroke-width="3"/>
<line x1="296.6" y1="370.9" x2="305.1" y2="382.3" stroke="#e2574a" stroke-width="3"/>
<line x1="305.1" y1="382.3" x2="312.3" y2="376.3" stroke="#e2574a" stroke-width="3"/>
<line x1="312.3" y1="376.3" x2="324.3" y2="369.1" stroke="#e2574a" stroke-width="3"/>
<line x1="324.3" y1="369.1" x2="331.6" y2="372.7" stroke="#e2574a" stroke-width="3"/>
<line x1="331.6" y1="372.7" x2="338.8" y2="375.1" stroke="#e47e75" stroke-width="3"/>
<line x1="338.8" y1="375.1" x2="344.8" y2="389.6" stroke="#e7a4a0" stroke-width="3"/>
<line x1="344.8" y1="389.6" x2="347.2" y2="411.3" stroke="#c0deba" stroke-width="3"/>
<line x1="347.2" y1="411.3" x2="353.3" y2="447.4" stroke="#43ce2c" stroke-width="3"/>
<line x1="353.3" y1="447.4" x2="360.0" y2="448.6" stroke="#33cc16" stroke-width="3"/>
<line x1="240.0" y1="410.1" x2="254.5" y2="404.0" stroke="#e2e2de" stroke-width="3.5"/>
<line x1="254.5" y1="404.0" x2="261.7" y2="393.2" stroke="#e4c3bf" stroke-width="3.5"/>
<line x1="261.7" y1="393.2" x2="268.9" y2="386.0" stroke="#e47e75" stroke-width="3.5"/>
<line x1="268.9" y1="386.0" x2="274.9" y2="372.7" stroke="#e2574a" stroke-width="3.5"/>
<line x1="274.9" y1="372.7" x2="282.2" y2="373.9" stroke="#e2392c" stroke-width="3.5"/>
<line x1="282.2" y1="373.9" x2="289.4" y2="366.7" stroke="#e21c0e" stroke-width="3.5"/>
<line x1="289.4" y1="366.7" x2="293.0" y2="358.3" stroke="#e21c0e" stroke-width="3.5"/>
<line x1="240.0" y1="355.2" x2="247.2" y2="357.0" stroke="#e21c0e" stroke-width="4.5"/>
<line x1="247.2" y1="357.0" x2="255.7" y2="363.1" stroke="#e21c0e" stroke-width="4.5"/>
<line x1="255.7" y1="363.1" x2="266.5" y2="354.6" stroke="#e21c0e" stroke-width="4.5"/>
<line x1="266.5" y1="354.6" x2="279.8" y2="354.6" stroke="#e21c0e" stroke-width="4.5"/>
<line x1="279.8" y1="354.6" x2="288.2" y2="355.8" stroke="#e21c0e" stroke-width="4.5"/>
<line x1="288.2" y1="355.8" x2="295.4" y2="371.5" stroke="#e2574a" stroke-width="4.5"/>
<line x1="295.4" y1="371.5" x2="303.9" y2="387.2" stroke="#e47e75" stroke-width="4.5"/>
<line x1="303.9" y1="387.2" x2="312.3" y2="375.1" stroke="#e2574a" stroke-width="4.5"/>
<line x1="312.3" y1="375.1" x2="324.3" y2="354.6" stroke="#e2392c" stroke-width="4.5"/>
<line x1="324.3" y1="354.6" x2="328.0" y2="364.3" stroke="#e2392c" stroke-width="4.5"/>
<line x1="328.0" y1="364.3" x2="331.6" y2="383.6" stroke="#e6aca8" stroke-width="4.5"/>
<line x1="331.6" y1="383.6" x2="340.0" y2="406.4" stroke="#a9dca2" stroke-width="4.5"/>
<line x1="340.0" y1="406.4" x2="344.8" y2="449.8" stroke="#44ce2e" stroke-width="4.5"/>
<line x1="344.8" y1="449.8" x2="360.0" y2="449.8" stroke="#33cc16" stroke-width="4.5"/>
</g>
<g clip-path="url(#c2_3)">
<line x1="355.0" y1="376.3" x2="367.0" y2="382.3" stroke="#d26e5f" stroke-width="1"/>
<line x1="367.0" y1="382.3" x2="374.3" y2="380.5" stroke="#d47568" stroke-width="1"/>
<line x1="374.3" y1="380.5" x2="381.5" y2="385.4" stroke="#d57b6e" stroke-width="1"/>
<line x1="381.5" y1="385.4" x2="387.5" y2="385.4" stroke="#d78477" stroke-width="1"/>
<line x1="387.5" y1="385.4" x2="396.0" y2="387.2" stroke="#d7877b" stroke-width="1"/>
<line x1="396.0" y1="387.2" x2="408.0" y2="383.6" stroke="#d78477" stroke-width="1"/>
<line x1="408.0" y1="383.6" x2="416.4" y2="376.3" stroke="#d27062" stroke-width="1"/>
<line x1="416.4" y1="376.3" x2="423.7" y2="375.7" stroke="#cf6152" stroke-width="1"/>
<line x1="423.7" y1="375.7" x2="432.1" y2="379.9" stroke="#d16859" stroke-width="1"/>
<line x1="432.1" y1="379.9" x2="444.2" y2="382.3" stroke="#d37467" stroke-width="1"/>
<line x1="444.2" y1="382.3" x2="451.4" y2="381.7" stroke="#d4776a" stroke-width="1"/>
<line x1="451.4" y1="381.7" x2="465.8" y2="386.6" stroke="#d67f73" stroke-width="1"/>
<line x1="465.8" y1="386.6" x2="475.5" y2="386.0" stroke="#d7877b" stroke-width="1"/>
<line x1="475.5" y1="386.0" x2="492.3" y2="383.6" stroke="#d68175" stroke-width="1"/>
<line x1="492.3" y1="383.6" x2="500.8" y2="387.8" stroke="#d78579" stroke-width="1"/>
<line x1="500.8" y1="387.8" x2="511.6" y2="381.1" stroke="#d68074" stroke-width="1"/>
<line x1="511.6" y1="381.1" x2="520.1" y2="379.3" stroke="#d37163" stroke-width="1"/>
<line x1="520.1" y1="379.3" x2="528.5" y2="383.6" stroke="#d47568" stroke-width="1"/>
<line x1="528.5" y1="383.6" x2="535.0" y2="381.1" stroke="#d4796b" stroke-width="1"/>
<line x1="402.0" y1="436.6" x2="408.0" y2="422.1" stroke="#6fd45d" stroke-width="2"/>
<line x1="408.0" y1="422.1" x2="412.8" y2="412.5" stroke="#c6dfc0" stroke-width="2"/>
<line x1="412.8" y1="412.5" x2="417.7" y2="404.0" stroke="#e2e2de" stroke-width="2"/>
<line x1="417.7" y1="404.0" x2="422.5" y2="402.8" stroke="#e2e2de" stroke-width="2"/>
<line x1="422.5" y1="402.8" x2="429.7" y2="413.7" stroke="#c6dfc0" stroke-width="2"/>
<line x1="429.7" y1="413.7" x2="444.2" y2="420.9" stroke="#a9dca2" stroke-width="2"/>
<line x1="444.2" y1="420.9" x2="451.4" y2="418.5" stroke="#a9dca2" stroke-width="2"/>
<line x1="451.4" y1="418.5" x2="457.4" y2="424.5" stroke="#a9dca2" stroke-width="2"/>
<line x1="457.4" y1="424.5" x2="465.8" y2="430.5" stroke="#6fd45d" stroke-width="2"/>
<line x1="465.8" y1="430.5" x2="475.5" y2="429.3" stroke="#42ce2b" stroke-width="2"/>
<line x1="475.5" y1="429.3" x2="492.3" y2="423.3" stroke="#46ce30" stroke-width="2"/>
<line x1="492.3" y1="423.3" x2="499.6" y2="435.4" stroke="#43ce2c" stroke-width="2"/>
<line x1="499.6" y1="435.4" x2="506.8" y2="426.9" stroke="#6fd45d" stroke-width="2"/>
<line x1="506.8" y1="426.9" x2="514.0" y2="416.1" stroke="#a9dca2" stroke-width="2"/>
<line x1="514.0" y1="416.1" x2="521.3" y2="413.7" stroke="#a9dca2" stroke-width="2"/>
<line x1="521.3" y1="413.7" x2="528.5" y2="428.1" stroke="#a9dca2" stroke-width="2"/>
<line x1="528.5" y1="428.1" x2="535.0" y2="419.7" stroke="#a9dca2" stroke-width="2"/>
<line x1="355.0" y1="448.6" x2="394.8" y2="449.2" stroke="#33cc16" stroke-width="3"/>
<line x1="394.8" y1="449.2" x2="403.2" y2="441.4" stroke="#33cc17" stroke-width="3"/>
<line x1="403.2" y1="441.4" x2="408.0" y2="423.3" stroke="#6fd45d" stroke-width="3"/>
<line x1="408.0" y1="423.3" x2="417.7" y2="407.7" stroke="#c6dfc0" stroke-width="3"/>
<line x1="417.7" y1="407.7" x2="422.5" y2="406.4" stroke="#e2e2de" stroke-width="3"/>
<line x1="422.5" y1="406.4" x2="429.7" y2="416.1" stroke="#c6dfc0" stroke-width="3"/>
<line x1="429.7" y1="416.1" x2="444.2" y2="424.5" stroke="#a9dca2" stroke-width="3"/>
<line x1="444.2" y1="424.5" x2="451.4" y2="422.1" stroke="#a9dca2" stroke-width="3"/>
<line x1="451.4" y1="422.1" x2="457.4" y2="426.9" stroke="#6fd45d" stroke-width="3"/>
<line x1="457.4" y1="426.9" x2="465.8" y2="434.2" stroke="#42ce2b" stroke-width="3"/>
<line x1="465.8" y1="434.2" x2="475.5" y2="433.0" stroke="#3fce27" stroke-width="3"/>
<line x1="475.5" y1="433.0" x2="492.3" y2="426.9" stroke="#42ce2b" stroke-width="3"/>
<line x1="492.3" y1="426.9" x2="499.6" y2="436.6" stroke="#41ce29" stroke-width="3"/>
<line x1="499.6" y1="436.6" x2="506.8" y2="429.3" stroke="#6fd45d" stroke-width="3"/>
<line x1="506.8" y1="429.3" x2="514.0" y2="418.5" stroke="#a9dca2" stroke-width="3"/>
<line x1="514.0" y1="418.5" x2="521.3" y2="416.1" stroke="#a9dca2" stroke-width="3"/>
<line x1="521.3" y1="416.1" x2="528.5" y2="429.3" stroke="#a9dca2" stroke-width="3"/>
<line x1="528.5" y1="429.3" x2="535.0" y2="420.9" stroke="#a9dca2" stroke-width="3"/>
<line x1="355.0" y1="410.1" x2="367.0" y2="428.1" stroke="#a9dca2" stroke-width="3.5"/>
<line x1="367.0" y1="428.1" x2="374.3" y2="423.3" stroke="#6fd45d" stroke-width="3.5"/>
<line x1="374.3" y1="423.3" x2="381.5" y2="436.6" stroke="#42ce2b" stroke-width="3.5"/>
<line x1="381.5" y1="436.6" x2="387.5" y2="434.8" stroke="#3dcd24" stroke-width="3.5"/>
<line x1="387.5" y1="434.8" x2="394.8" y2="441.4" stroke="#3acd20" stroke-width="3.5"/>
<line x1="394.8" y1="441.4" x2="402.0" y2="436.6" stroke="#3acd1f" stroke-width="3.5"/>
<line x1="402.0" y1="436.6" x2="408.0" y2="422.1" stroke="#6fd45d" stroke-width="3.5"/>
<line x1="408.0" y1="422.1" x2="415.2" y2="401.6" stroke="#c6dfc0" stroke-width="3.5"/>
<line x1="415.2" y1="401.6" x2="422.5" y2="399.2" stroke="#c6dfc0" stroke-width="3.5"/>
<line x1="422.5" y1="399.2" x2="432.1" y2="410.1" stroke="#a9dca2" stroke-width="3.5"/>
<line x1="432.1" y1="410.1" x2="444.2" y2="417.3" stroke="#a9dca2" stroke-width="3.5"/>
<line x1="444.2" y1="417.3" x2="451.4" y2="417.3" stroke="#a9dca2" stroke-width="3.5"/>
<line x1="451.4" y1="417.3" x2="457.4" y2="423.3" stroke="#6fd45d" stroke-width="3.5"/>
<line x1="457.4" y1="423.3" x2="465.8" y2="429.3" stroke="#46ce30" stroke-width="3.5"/>
<line x1="465.8" y1="429.3" x2="475.5" y2="428.1" stroke="#44ce2d" stroke-width="3.5"/>
<line x1="475.5" y1="428.1" x2="492.3" y2="422.1" stroke="#47cf32" stroke-width="3.5"/>
<line x1="492.3" y1="422.1" x2="499.6" y2="434.2" stroke="#44ce2e" stroke-width="3.5"/>
<line x1="499.6" y1="434.2" x2="506.8" y2="424.5" stroke="#6fd45d" stroke-width="3.5"/>
<line x1="506.8" y1="424.5" x2="514.0" y2="414.9" stroke="#a9dca2" stroke-width="3.5"/>
<line x1="514.0" y1="414.9" x2="521.3" y2="411.3" stroke="#6fd45d" stroke-width="3.5"/>
<line x1="521.3" y1="411.3" x2="528.5" y2="428.1" stroke="#6fd45d" stroke-width="3.5"/>
<line x1="528.5" y1="428.1" x2="535.0" y2="410.1" stroke="#a9dca2" stroke-width="3.5"/>
<line x1="355.0" y1="448.6" x2="367.0" y2="448.6" stroke="#33cc16" stroke-width="4.5"/>
<line x1="367.0" y1="448.6" x2="374.3" y2="441.4" stroke="#34cc17" stroke-width="4.5"/>
<line x1="374.3" y1="441.4" x2="381.5" y2="448.6" stroke="#34cc17" stroke-width="4.5"/>
<line x1="381.5" y1="448.6" x2="387.5" y2="446.8" stroke="#33cc16" stroke-width="4.5"/>
<line x1="387.5" y1="446.8" x2="394.8" y2="449.2" stroke="#33cc16" stroke-width="4.5"/>
<line x1="394.8" y1="449.2" x2="403.2" y2="441.4" stroke="#33cc17" stroke-width="4.5"/>
<line x1="403.2" y1="441.4" x2="408.0" y2="423.3" stroke="#6fd45d" stroke-width="4.5"/>
<line x1="408.0" y1="423.3" x2="415.2" y2="400.4" stroke="#c6dfc0" stroke-width="4.5"/>
<line x1="415.2" y1="400.4" x2="422.5" y2="398.6" stroke="#e2e2de" stroke-width="4.5"/>
<line x1="422.5" y1="398.6" x2="432.1" y2="407.7" stroke="#c6dfc0" stroke-width="4.5"/>
<line x1="432.1" y1="407.7" x2="441.7" y2="410.7" stroke="#a9dca2" stroke-width="4.5"/>
<line x1="441.7" y1="410.7" x2="444.2" y2="408.9" stroke="#dce1d8" stroke-width="4.5"/>
<line x1="444.2" y1="408.9" x2="451.4" y2="390.2" stroke="#e4c3bf" stroke-width="4.5"/>
<line x1="451.4" y1="390.2" x2="457.4" y2="400.4" stroke="#c6dfc0" stroke-width="4.5"/>
<line x1="457.4" y1="400.4" x2="465.8" y2="419.7" stroke="#a9dca2" stroke-width="4.5"/>
<line x1="465.8" y1="419.7" x2="473.1" y2="413.7" stroke="#a9dca2" stroke-width="4.5"/>
<line x1="473.1" y1="413.7" x2="479.1" y2="414.9" stroke="#c6dfc0" stroke-width="4.5"/>
<line x1="479.1" y1="414.9" x2="486.3" y2="404.0" stroke="#e2e2de" stroke-width="4.5"/>
<line x1="486.3" y1="404.0" x2="493.0" y2="399.8" stroke="#a9dca2" stroke-width="4.5"/>
<line x1="493.0" y1="399.8" x2="499.6" y2="439.0" stroke="#4ecf3a" stroke-width="4.5"/>
<line x1="499.6" y1="439.0" x2="506.2" y2="428.1" stroke="#c0deba" stroke-width="4.5"/>
<line x1="506.2" y1="428.1" x2="512.8" y2="394.4" stroke="#e7a4a0" stroke-width="4.5"/>
<line x1="512.8" y1="394.4" x2="520.7" y2="384.8" stroke="#e4c3bf" stroke-width="4.5"/>
<line x1="520.7" y1="384.8" x2="527.0" y2="407.0" stroke="#e2e2de" stroke-width="4.5"/>
<line x1="527.0" y1="407.7" x2="533.9" y2="361.9" stroke="#e21c0e" stroke-width="4.5"/>
<line x1="533.9" y1="361.9" x2="535.0" y2="361.6" stroke="#e21c0e" stroke-width="4.5"/>
</g>
<g clip-path="url(#c2_4)">
<line x1="530.0" y1="381.1" x2="540.8" y2="381.1" stroke="#d37467" stroke-width="1"/>
<line x1="540.8" y1="381.1" x2="554.1" y2="372.7" stroke="#d06556" stroke-width="1"/>
<line x1="554.1" y1="372.7" x2="569.8" y2="369.7" stroke="#c84e40" stroke-width="1"/>
<line x1="569.8" y1="369.7" x2="583.0" y2="369.1" stroke="#c54739" stroke-width="1"/>
<line x1="583.0" y1="369.1" x2="590.2" y2="371.5" stroke="#c74b3c" stroke-width="1"/>
<line x1="590.2" y1="371.5" x2="597.5" y2="377.5" stroke="#cc5b4d" stroke-width="1"/>
<line x1="597.5" y1="377.5" x2="607.1" y2="387.2" stroke="#d4796b" stroke-width="1"/>
<line x1="607.1" y1="387.2" x2="619.2" y2="395.6" stroke="#db9a8f" stroke-width="1"/>
<line x1="619.2" y1="395.6" x2="632.4" y2="398.0" stroke="#ddada4" stroke-width="1"/>
<line x1="632.4" y1="398.0" x2="640.8" y2="401.0" stroke="#deb6af" stroke-width="1"/>
<line x1="640.8" y1="401.0" x2="646.9" y2="399.8" stroke="#deb9b2" stroke-width="1"/>
<line x1="646.9" y1="399.8" x2="656.5" y2="390.8" stroke="#dda79f" stroke-width="1"/>
<line x1="656.5" y1="390.8" x2="668.6" y2="381.1" stroke="#d7867a" stroke-width="1"/>
<line x1="668.6" y1="381.1" x2="674.6" y2="378.7" stroke="#d27062" stroke-width="1"/>
<line x1="674.6" y1="378.7" x2="680.6" y2="382.3" stroke="#d37264" stroke-width="1"/>
<line x1="680.6" y1="382.3" x2="690.2" y2="383.6" stroke="#d57b6e" stroke-width="1"/>
<line x1="690.2" y1="383.6" x2="702.3" y2="379.9" stroke="#d47669" stroke-width="1"/>
<line x1="702.3" y1="379.9" x2="710.0" y2="378.1" stroke="#d26c5e" stroke-width="1"/>
<line x1="530.0" y1="419.7" x2="534.8" y2="414.9" stroke="#a9dca2" stroke-width="2"/>
<line x1="534.8" y1="414.9" x2="542.0" y2="417.3" stroke="#a9dca2" stroke-width="2"/>
<line x1="542.0" y1="417.3" x2="549.3" y2="408.9" stroke="#c6dfc0" stroke-width="2"/>
<line x1="549.3" y1="408.9" x2="556.5" y2="395.6" stroke="#e4c3bf" stroke-width="2"/>
<line x1="556.5" y1="395.6" x2="569.8" y2="389.6" stroke="#e7a4a0" stroke-width="2"/>
<line x1="569.8" y1="389.6" x2="583.0" y2="388.4" stroke="#e7a4a0" stroke-width="2"/>
<line x1="583.0" y1="388.4" x2="589.0" y2="393.2" stroke="#e7a4a0" stroke-width="2"/>
<line x1="589.0" y1="393.2" x2="593.9" y2="410.1" stroke="#dce1d8" stroke-width="2"/>
<line x1="593.9" y1="410.1" x2="601.1" y2="429.3" stroke="#6fd45d" stroke-width="2"/>
<line x1="601.1" y1="429.3" x2="608.3" y2="441.4" stroke="#3dcd24" stroke-width="2"/>
<line x1="608.3" y1="441.4" x2="616.7" y2="447.4" stroke="#34cc18" stroke-width="2"/>
<line x1="616.7" y1="447.4" x2="638.4" y2="448.6" stroke="#33cc16" stroke-width="2"/>
<line x1="638.4" y1="448.6" x2="645.7" y2="445.6" stroke="#33cc16" stroke-width="2"/>
<line x1="645.7" y1="445.6" x2="660.1" y2="419.7" stroke="#6fd45d" stroke-width="2"/>
<line x1="660.1" y1="419.7" x2="667.3" y2="410.1" stroke="#a9dca2" stroke-width="2"/>
<line x1="667.3" y1="410.1" x2="674.6" y2="401.6" stroke="#a9dca2" stroke-width="2"/>
<line x1="674.6" y1="401.6" x2="680.6" y2="410.1" stroke="#a9dca2" stroke-width="2"/>
<line x1="680.6" y1="410.1" x2="695.1" y2="412.5" stroke="#a9dca2" stroke-width="2"/>
<line x1="695.1" y1="412.5" x2="702.3" y2="404.0" stroke="#c6dfc0" stroke-width="2"/>
<line x1="702.3" y1="404.0" x2="710.0" y2="400.4" stroke="#e2e2de" stroke-width="2"/>
<line x1="530.0" y1="423.3" x2="534.8" y2="417.3" stroke="#a9dca2" stroke-width="3"/>
<line x1="534.8" y1="417.3" x2="542.0" y2="419.7" stroke="#a9dca2" stroke-width="3"/>
<line x1="542.0" y1="419.7" x2="549.3" y2="411.3" stroke="#c6dfc0" stroke-width="3"/>
<line x1="549.3" y1="411.3" x2="556.5" y2="398.0" stroke="#e4c3bf" stroke-width="3"/>
<line x1="556.5" y1="398.0" x2="569.8" y2="391.4" stroke="#e7a4a0" stroke-width="3"/>
<line x1="569.8" y1="391.4" x2="583.0" y2="390.2" stroke="#e7a4a0" stroke-width="3"/>
<line x1="583.0" y1="390.2" x2="590.2" y2="395.6" stroke="#e7a4a0" stroke-width="3"/>
<line x1="590.2" y1="395.6" x2="595.1" y2="412.5" stroke="#dce1d8" stroke-width="3"/>
<line x1="595.1" y1="412.5" x2="602.3" y2="431.7" stroke="#6fd45d" stroke-width="3"/>
<line x1="602.3" y1="431.7" x2="607.1" y2="441.4" stroke="#3ccd22" stroke-width="3"/>
<line x1="607.1" y1="441.4" x2="614.3" y2="447.4" stroke="#34cc18" stroke-width="3"/>
<line x1="614.3" y1="447.4" x2="638.4" y2="448.6" stroke="#33cc16" stroke-width="3"/>
<line x1="638.4" y1="448.6" x2="645.7" y2="445.0" stroke="#33cc16" stroke-width="3"/>
<line x1="645.7" y1="445.0" x2="652.9" y2="429.3" stroke="#6fd45d" stroke-width="3"/>
<line x1="652.9" y1="429.3" x2="660.1" y2="418.5" stroke="#a9dca2" stroke-width="3"/>
<line x1="660.1" y1="418.5" x2="667.3" y2="407.7" stroke="#c6dfc0" stroke-width="3"/>
<line x1="667.3" y1="407.7" x2="674.6" y2="399.2" stroke="#e2e2de" stroke-width="3"/>
<line x1="674.6" y1="399.2" x2="680.6" y2="405.2" stroke="#c6dfc0" stroke-width="3"/>
<line x1="680.6" y1="405.2" x2="693.9" y2="406.4" stroke="#a9dca2" stroke-width="3"/>
<line x1="693.9" y1="406.4" x2="702.3" y2="400.4" stroke="#c6dfc0" stroke-width="3"/>
<line x1="702.3" y1="400.4" x2="710.0" y2="393.2" stroke="#e2e2de" stroke-width="3"/>
<line x1="680.6" y1="391.4" x2="686.6" y2="393.2" stroke="#e7a4a0" stroke-width="3"/>
<line x1="686.6" y1="393.2" x2="694.5" y2="396.2" stroke="#e7a4a0" stroke-width="3"/>
<line x1="694.5" y1="396.2" x2="702.3" y2="383.6" stroke="#e7a4a0" stroke-width="3"/>
<line x1="702.3" y1="383.6" x2="710.0" y2="377.5" stroke="#e7a4a0" stroke-width="3"/>
<line x1="530.0" y1="419.7" x2="534.8" y2="410.1" stroke="#a9dca2" stroke-width="3.5"/>
<line x1="534.8" y1="410.1" x2="541.4" y2="412.5" stroke="#dce1d8" stroke-width="3.5"/>
<line x1="541.4" y1="412.5" x2="548.1" y2="388.4" stroke="#e7a4a0" stroke-width="3.5"/>
<line x1="548.1" y1="388.4" x2="549.3" y2="386.6" stroke="#e2574a" stroke-width="3.5"/>
<line x1="549.3" y1="386.6" x2="555.9" y2="357.7" stroke="#e21c0e" stroke-width="3.5"/>
<line x1="555.9" y1="357.7" x2="583.0" y2="355.2" stroke="#e21c0e" stroke-width="3.5"/>
<line x1="583.0" y1="355.2" x2="589.0" y2="363.1" stroke="#e2392c" stroke-width="3.5"/>
<line x1="589.0" y1="363.1" x2="591.4" y2="364.9" stroke="#e6aca8" stroke-width="3.5"/>
<line x1="591.4" y1="364.9" x2="597.5" y2="400.4" stroke="#e2e2de" stroke-width="3.5"/>
<line x1="597.5" y1="400.4" x2="603.5" y2="448.6" stroke="#a9dca2" stroke-width="3.5"/>
<line x1="530.0" y1="387.0" x2="534.0" y2="361.9" stroke="#e2392c" stroke-width="4.5"/>
<line x1="534.0" y1="361.9" x2="541.4" y2="373.3" stroke="#e2392c" stroke-width="4.5"/>
<line x1="541.4" y1="373.3" x2="548.1" y2="354.6" stroke="#e21c0e" stroke-width="4.5"/>
<line x1="548.1" y1="354.6" x2="583.0" y2="354.6" stroke="#e21c0e" stroke-width="4.5"/>
<line x1="583.0" y1="354.6" x2="589.0" y2="363.7" stroke="#e2392c" stroke-width="4.5"/>
<line x1="589.0" y1="363.7" x2="591.4" y2="364.9" stroke="#e6aca8" stroke-width="4.5"/>
<line x1="591.4" y1="364.9" x2="597.5" y2="400.4" stroke="#e2e2de" stroke-width="4.5"/>
<line x1="597.5" y1="400.4" x2="598.7" y2="401.6" stroke="#a9dca2" stroke-width="4.5"/>
<line x1="598.7" y1="401.6" x2="603.5" y2="448.6" stroke="#47cf32" stroke-width="4.5"/>
<line x1="603.5" y1="448.6" x2="638.4" y2="448.6" stroke="#33cc16" stroke-width="4.5"/>
<line x1="638.4" y1="448.6" x2="645.7" y2="445.6" stroke="#33cc16" stroke-width="4.5"/>
<line x1="645.7" y1="445.6" x2="652.9" y2="429.3" stroke="#6fd45d" stroke-width="4.5"/>
<line x1="652.9" y1="429.3" x2="657.7" y2="407.7" stroke="#c6dfc0" stroke-width="4.5"/>
<line x1="657.7" y1="407.7" x2="661.3" y2="402.8" stroke="#e4c3bf" stroke-width="4.5"/>
<line x1="661.3" y1="402.8" x2="667.3" y2="389.6" stroke="#e7a4a0" stroke-width="4.5"/>
<line x1="667.3" y1="389.6" x2="674.6" y2="379.9" stroke="#e7a4a0" stroke-width="4.5"/>
<line x1="674.6" y1="379.9" x2="680.6" y2="391.4" stroke="#e7a4a0" stroke-width="4.5"/>
<line x1="680.6" y1="391.4" x2="686.6" y2="392.6" stroke="#e47e75" stroke-width="4.5"/>
<line x1="686.6" y1="392.6" x2="695.1" y2="376.3" stroke="#e2392c" stroke-width="4.5"/>
<line x1="695.1" y1="376.3" x2="702.3" y2="358.3" stroke="#e21c0e" stroke-width="4.5"/>
<line x1="702.3" y1="358.3" x2="710.0" y2="354.6" stroke="#e21c0e" stroke-width="4.5"/>
</g>
<g clip-path="url(#c2_5)">
<line x1="705.0" y1="378.7" x2="717.0" y2="379.9" stroke="#d26e5f" stroke-width="1"/>
<line x1="717.0" y1="379.9" x2="730.3" y2="381.1" stroke="#d37264" stroke-width="1"/>
<line x1="730.3" y1="381.1" x2="737.5" y2="377.5" stroke="#d26e5f" stroke-width="1"/>
<line x1="737.5" y1="377.5" x2="744.8" y2="381.1" stroke="#d26e5f" stroke-width="1"/>
<line x1="744.8" y1="381.1" x2="752.0" y2="378.7" stroke="#d27062" stroke-width="1"/>
<line x1="752.0" y1="378.7" x2="759.2" y2="379.9" stroke="#d26e5f" stroke-width="1"/>
<line x1="759.2" y1="379.9" x2="772.5" y2="380.5" stroke="#d37163" stroke-width="1"/>
<line x1="772.5" y1="380.5" x2="782.1" y2="386.0" stroke="#d57c6f" stroke-width="1"/>
<line x1="782.1" y1="386.0" x2="793.0" y2="396.8" stroke="#db9a8f" stroke-width="1"/>
<line x1="793.0" y1="396.8" x2="800.2" y2="396.8" stroke="#ddada4" stroke-width="1"/>
<line x1="800.2" y1="396.8" x2="807.4" y2="398.6" stroke="#ddb0a8" stroke-width="1"/>
<line x1="807.4" y1="398.6" x2="815.8" y2="394.4" stroke="#ddaca3" stroke-width="1"/>
<line x1="815.8" y1="394.4" x2="825.5" y2="390.8" stroke="#dc9e94" stroke-width="1"/>
<line x1="825.5" y1="390.8" x2="841.1" y2="386.0" stroke="#d98f83" stroke-width="1"/>
<line x1="841.1" y1="386.0" x2="854.4" y2="376.3" stroke="#d37467" stroke-width="1"/>
<line x1="854.4" y1="376.3" x2="873.7" y2="373.3" stroke="#cd5c4e" stroke-width="1"/>
<line x1="873.7" y1="373.3" x2="885.0" y2="374.5" stroke="#cc594a" stroke-width="1"/>
<line x1="705.0" y1="402.8" x2="715.8" y2="401.6" stroke="#e2e2de" stroke-width="2"/>
<line x1="715.8" y1="401.6" x2="730.3" y2="407.7" stroke="#e2e2de" stroke-width="2"/>
<line x1="730.3" y1="407.7" x2="737.5" y2="399.2" stroke="#e2e2de" stroke-width="2"/>
<line x1="737.5" y1="399.2" x2="744.8" y2="410.1" stroke="#e2e2de" stroke-width="2"/>
<line x1="744.8" y1="410.1" x2="752.0" y2="400.4" stroke="#e2e2de" stroke-width="2"/>
<line x1="752.0" y1="400.4" x2="759.2" y2="405.2" stroke="#e2e2de" stroke-width="2"/>
<line x1="759.2" y1="405.2" x2="772.5" y2="407.7" stroke="#e2e2de" stroke-width="2"/>
<line x1="772.5" y1="407.7" x2="779.7" y2="413.7" stroke="#c6dfc0" stroke-width="2"/>
<line x1="779.7" y1="413.7" x2="788.1" y2="424.5" stroke="#a9dca2" stroke-width="2"/>
<line x1="788.1" y1="424.5" x2="794.2" y2="437.8" stroke="#6fd45d" stroke-width="2"/>
<line x1="794.2" y1="437.8" x2="801.4" y2="436.6" stroke="#3bcd22" stroke-width="2"/>
<line x1="801.4" y1="436.6" x2="807.4" y2="442.6" stroke="#6fd45d" stroke-width="2"/>
<line x1="807.4" y1="442.6" x2="815.8" y2="431.7" stroke="#a9dca2" stroke-width="2"/>
<line x1="815.8" y1="431.7" x2="825.5" y2="425.7" stroke="#a9dca2" stroke-width="2"/>
<line x1="825.5" y1="425.7" x2="842.3" y2="417.3" stroke="#a9dca2" stroke-width="2"/>
<line x1="842.3" y1="417.3" x2="849.6" y2="405.2" stroke="#c6dfc0" stroke-width="2"/>
<line x1="849.6" y1="405.2" x2="858.0" y2="395.6" stroke="#e2e2de" stroke-width="2"/>
<line x1="858.0" y1="395.6" x2="876.1" y2="392.0" stroke="#e2e2de" stroke-width="2"/>
<line x1="876.1" y1="392.0" x2="885.0" y2="396.8" stroke="#e2e2de" stroke-width="2"/>
<line x1="705.0" y1="395.6" x2="715.8" y2="394.4" stroke="#e2e2de" stroke-width="3"/>
<line x1="715.8" y1="394.4" x2="730.3" y2="401.6" stroke="#e4c3bf" stroke-width="3"/>
<line x1="730.3" y1="401.6" x2="737.5" y2="392.0" stroke="#e4c3bf" stroke-width="3"/>
<line x1="737.5" y1="392.0" x2="744.8" y2="402.8" stroke="#e4c3bf" stroke-width="3"/>
<line x1="744.8" y1="402.8" x2="752.0" y2="393.2" stroke="#e4c3bf" stroke-width="3"/>
<line x1="752.0" y1="393.2" x2="759.2" y2="399.2" stroke="#e2e2de" stroke-width="3"/>
<line x1="759.2" y1="399.2" x2="772.5" y2="400.4" stroke="#e2e2de" stroke-width="3"/>
<line x1="772.5" y1="400.4" x2="779.7" y2="408.9" stroke="#c6dfc0" stroke-width="3"/>
<line x1="779.7" y1="408.9" x2="788.1" y2="422.1" stroke="#6fd45d" stroke-width="3"/>
<line x1="788.1" y1="422.1" x2="794.2" y2="441.4" stroke="#41ce29" stroke-width="3"/>
<line x1="794.2" y1="441.4" x2="801.4" y2="437.8" stroke="#39cd1e" stroke-width="3"/>
<line x1="801.4" y1="437.8" x2="807.4" y2="443.8" stroke="#38cd1d" stroke-width="3"/>
<line x1="807.4" y1="443.8" x2="815.8" y2="429.3" stroke="#6fd45d" stroke-width="3"/>
<line x1="815.8" y1="429.3" x2="825.5" y2="423.3" stroke="#a9dca2" stroke-width="3"/>
<line x1="825.5" y1="423.3" x2="842.3" y2="412.5" stroke="#a9dca2" stroke-width="3"/>
<line x1="842.3" y1="412.5" x2="849.6" y2="396.8" stroke="#dce1d8" stroke-width="3"/>
<line x1="849.6" y1="396.8" x2="858.0" y2="393.2" stroke="#e7a4a0" stroke-width="3"/>
<line x1="858.0" y1="393.2" x2="876.1" y2="390.8" stroke="#e4c3bf" stroke-width="3"/>
<line x1="876.1" y1="390.8" x2="885.0" y2="395.6" stroke="#e2e2de" stroke-width="3"/>
<line x1="705.0" y1="381.1" x2="715.8" y2="379.9" stroke="#e7a4a0" stroke-width="3.5"/>
<line x1="715.8" y1="379.9" x2="730.3" y2="390.8" stroke="#e47e75" stroke-width="3.5"/>
<line x1="730.3" y1="390.8" x2="737.5" y2="377.5" stroke="#e47e75" stroke-width="3.5"/>
<line x1="737.5" y1="377.5" x2="744.8" y2="393.2" stroke="#e47e75" stroke-width="3.5"/>
<line x1="744.8" y1="393.2" x2="752.0" y2="379.9" stroke="#e47e75" stroke-width="3.5"/>
<line x1="752.0" y1="379.9" x2="759.2" y2="386.0" stroke="#e7a4a0" stroke-width="3.5"/>
<line x1="759.2" y1="386.0" x2="772.5" y2="387.2" stroke="#e7a4a0" stroke-width="3.5"/>
<line x1="772.5" y1="387.2" x2="779.7" y2="395.6" stroke="#dce1d8" stroke-width="3.5"/>
<line x1="779.7" y1="395.6" x2="786.9" y2="411.3" stroke="#6fd45d" stroke-width="3.5"/>
<line x1="786.9" y1="411.3" x2="794.2" y2="435.4" stroke="#49cf34" stroke-width="3.5"/>
<line x1="794.2" y1="435.4" x2="801.4" y2="428.1" stroke="#41ce29" stroke-width="3.5"/>
<line x1="801.4" y1="428.1" x2="807.4" y2="439.0" stroke="#6fd45d" stroke-width="3.5"/>
<line x1="807.4" y1="439.0" x2="815.8" y2="426.9" stroke="#a9dca2" stroke-width="3.5"/>
<line x1="815.8" y1="426.9" x2="825.5" y2="418.5" stroke="#a9dca2" stroke-width="3.5"/>
<line x1="825.5" y1="418.5" x2="832.7" y2="407.7" stroke="#c6dfc0" stroke-width="3.5"/>
<line x1="832.7" y1="407.7" x2="842.3" y2="399.2" stroke="#e4c3bf" stroke-width="3.5"/>
<line x1="842.3" y1="399.2" x2="849.6" y2="390.8" stroke="#e7a4a0" stroke-width="3.5"/>
<line x1="849.6" y1="390.8" x2="858.0" y2="387.2" stroke="#e7a4a0" stroke-width="3.5"/>
<line x1="858.0" y1="387.2" x2="876.1" y2="382.3" stroke="#e7a4a0" stroke-width="3.5"/>
<line x1="876.1" y1="382.3" x2="885.0" y2="386.0" stroke="#e4c3bf" stroke-width="3.5"/>
<line x1="705.0" y1="358.3" x2="709.8" y2="354.6" stroke="#e21c0e" stroke-width="4.5"/>
<line x1="709.8" y1="354.6" x2="715.8" y2="357.0" stroke="#e21c0e" stroke-width="4.5"/>
<line x1="715.8" y1="357.0" x2="723.1" y2="364.3" stroke="#e2392c" stroke-width="4.5"/>
<line x1="723.1" y1="364.3" x2="730.3" y2="370.9" stroke="#e2392c" stroke-width="4.5"/>
<line x1="730.3" y1="370.9" x2="737.5" y2="354.6" stroke="#e2392c" stroke-width="4.5"/>
<line x1="737.5" y1="354.6" x2="744.8" y2="376.3" stroke="#e2392c" stroke-width="4.5"/>
<line x1="744.8" y1="376.3" x2="751.4" y2="357.0" stroke="#e2574a" stroke-width="4.5"/>
<line x1="751.4" y1="357.0" x2="756.8" y2="379.9" stroke="#e7a4a0" stroke-width="4.5"/>
<line x1="756.8" y1="379.9" x2="761.6" y2="395.6" stroke="#e4c3bf" stroke-width="4.5"/>
<line x1="761.6" y1="395.6" x2="765.2" y2="408.9" stroke="#e2e2de" stroke-width="4.5"/>
<line x1="765.2" y1="408.9" x2="771.3" y2="404.0" stroke="#a9dca2" stroke-width="4.5"/>
<line x1="771.3" y1="404.0" x2="774.9" y2="412.5" stroke="#5cd14b" stroke-width="4.5"/>
<line x1="774.9" y1="412.5" x2="778.5" y2="445.0" stroke="#44ce2d" stroke-width="4.5"/>
<line x1="778.5" y1="445.0" x2="786.9" y2="448.6" stroke="#33cc16" stroke-width="4.5"/>
<line x1="786.9" y1="448.6" x2="794.2" y2="448.6" stroke="#33cc16" stroke-width="4.5"/>
<line x1="794.2" y1="448.6" x2="801.4" y2="442.6" stroke="#33cc16" stroke-width="4.5"/>
<line x1="801.4" y1="442.6" x2="807.4" y2="449.8" stroke="#33cc16" stroke-width="4.5"/>
<line x1="807.4" y1="449.8" x2="813.4" y2="436.6" stroke="#6fd45d" stroke-width="4.5"/>
<line x1="813.4" y1="436.6" x2="819.5" y2="426.9" stroke="#a9dca2" stroke-width="4.5"/>
<line x1="819.5" y1="426.9" x2="826.7" y2="417.3" stroke="#c6dfc0" stroke-width="4.5"/>
<line x1="826.7" y1="417.3" x2="835.1" y2="400.4" stroke="#e4c3bf" stroke-width="4.5"/>
<line x1="835.1" y1="400.4" x2="842.3" y2="393.2" stroke="#e7a4a0" stroke-width="4.5"/>
<line x1="842.3" y1="393.2" x2="847.2" y2="361.9" stroke="#e2574a" stroke-width="4.5"/>
<line x1="847.2" y1="361.9" x2="854.4" y2="354.6" stroke="#e21c0e" stroke-width="4.5"/>
<line x1="854.4" y1="354.6" x2="877.3" y2="354.6" stroke="#e21c0e" stroke-width="4.5"/>
<line x1="877.3" y1="354.6" x2="885.0" y2="361.9" stroke="#e2392c" stroke-width="4.5"/>
</g>
<g clip-path="url(#c2_6)">
<line x1="880.0" y1="372.7" x2="892.0" y2="381.1" stroke="#d06556" stroke-width="1"/>
<line x1="892.0" y1="381.1" x2="904.1" y2="383.6" stroke="#d4796b" stroke-width="1"/>
<line x1="904.1" y1="383.6" x2="919.8" y2="388.4" stroke="#d7867a" stroke-width="1"/>
<line x1="919.8" y1="388.4" x2="925.8" y2="386.0" stroke="#d88a7f" stroke-width="1"/>
<line x1="925.8" y1="386.0" x2="933.0" y2="393.2" stroke="#da9388" stroke-width="1"/>
<line x1="933.0" y1="393.2" x2="936.6" y2="390.8" stroke="#dc9c92" stroke-width="1"/>
<line x1="936.6" y1="390.8" x2="940.2" y2="376.3" stroke="#d57d70" stroke-width="1"/>
<line x1="940.2" y1="376.3" x2="954.7" y2="371.5" stroke="#cc594a" stroke-width="1"/>
<line x1="954.7" y1="371.5" x2="976.4" y2="370.3" stroke="#c74d3f" stroke-width="1"/>
<line x1="976.4" y1="370.3" x2="990.8" y2="370.3" stroke="#c74b3c" stroke-width="1"/>
<line x1="990.8" y1="370.3" x2="1004.1" y2="377.5" stroke="#cc594a" stroke-width="1"/>
<line x1="1004.1" y1="377.5" x2="1012.5" y2="376.3" stroke="#d06556" stroke-width="1"/>
<line x1="1012.5" y1="376.3" x2="1024.6" y2="373.9" stroke="#cd5e4f" stroke-width="1"/>
<line x1="1024.6" y1="373.9" x2="1036.6" y2="375.1" stroke="#cc5b4d" stroke-width="1"/>
<line x1="1036.6" y1="375.1" x2="1060.0" y2="372.1" stroke="#cb5849" stroke-width="1"/>
<line x1="880.0" y1="390.8" x2="891.3" y2="405.2" stroke="#c6dfc0" stroke-width="2"/>
<line x1="891.3" y1="405.2" x2="898.4" y2="405.8" stroke="#a9dca2" stroke-width="2"/>
<line x1="898.4" y1="405.8" x2="911.2" y2="411.3" stroke="#a9dca2" stroke-width="2"/>
<line x1="911.2" y1="411.3" x2="918.3" y2="425.1" stroke="#a9dca2" stroke-width="2"/>
<line x1="918.3" y1="425.1" x2="925.3" y2="420.9" stroke="#a9dca2" stroke-width="2"/>
<line x1="925.3" y1="420.9" x2="932.4" y2="430.8" stroke="#a9dca2" stroke-width="2"/>
<line x1="880.0" y1="393.2" x2="891.3" y2="408.7" stroke="#c6dfc0" stroke-width="2.5"/>
<line x1="891.3" y1="408.7" x2="898.4" y2="409.5" stroke="#a9dca2" stroke-width="2.5"/>
<line x1="898.4" y1="409.5" x2="911.2" y2="414.4" stroke="#a9dca2" stroke-width="2.5"/>
<line x1="911.2" y1="414.4" x2="918.3" y2="428.6" stroke="#a9dca2" stroke-width="2.5"/>
<line x1="918.3" y1="428.6" x2="925.3" y2="424.4" stroke="#a9dca2" stroke-width="2.5"/>
<line x1="925.3" y1="424.4" x2="932.4" y2="431.4" stroke="#a9dca2" stroke-width="2.5"/>
<line x1="933.0" y1="449.8" x2="936.6" y2="417.3" stroke="#e6aca8" stroke-width="2.5"/>
<line x1="936.6" y1="417.3" x2="940.2" y2="396.8" stroke="#e4c3bf" stroke-width="2.5"/>
<line x1="940.2" y1="396.8" x2="954.7" y2="384.8" stroke="#e7a4a0" stroke-width="2.5"/>
<line x1="954.7" y1="384.8" x2="976.4" y2="386.0" stroke="#e7a4a0" stroke-width="2.5"/>
<line x1="976.4" y1="386.0" x2="983.6" y2="383.6" stroke="#e7a4a0" stroke-width="2.5"/>
<line x1="983.6" y1="383.6" x2="990.8" y2="386.0" stroke="#e4c3bf" stroke-width="2.5"/>
<line x1="990.8" y1="386.0" x2="998.1" y2="395.6" stroke="#e2e2de" stroke-width="2.5"/>
<line x1="998.1" y1="395.6" x2="1008.9" y2="401.6" stroke="#e2e2de" stroke-width="2.5"/>
<line x1="1008.9" y1="401.6" x2="1016.1" y2="395.6" stroke="#e4c3bf" stroke-width="2.5"/>
<line x1="1016.1" y1="395.6" x2="1030.6" y2="390.8" stroke="#e7a4a0" stroke-width="2.5"/>
<line x1="1030.6" y1="390.8" x2="1048.7" y2="389.6" stroke="#e7a4a0" stroke-width="2.5"/>
<line x1="1048.7" y1="389.6" x2="1060.0" y2="386.0" stroke="#e4c3bf" stroke-width="2.5"/>
<line x1="933.0" y1="449.8" x2="940.2" y2="389.6" stroke="#e2574a" stroke-width="3"/>
<line x1="940.2" y1="389.6" x2="954.7" y2="372.7" stroke="#e2574a" stroke-width="3"/>
<line x1="954.7" y1="372.7" x2="964.3" y2="360.7" stroke="#e2392c" stroke-width="3"/>
<line x1="964.3" y1="360.7" x2="969.2" y2="358.3" stroke="#e21c0e" stroke-width="3"/>
<line x1="880.0" y1="386.1" x2="885.7" y2="387.5" stroke="#e2e2de" stroke-width="3"/>
<line x1="885.7" y1="387.5" x2="891.3" y2="401.6" stroke="#e2e2de" stroke-width="3"/>
<line x1="891.3" y1="401.6" x2="898.4" y2="401.6" stroke="#c6dfc0" stroke-width="3"/>
<line x1="898.4" y1="401.6" x2="911.2" y2="407.3" stroke="#a9dca2" stroke-width="3"/>
<line x1="911.2" y1="407.3" x2="918.3" y2="421.5" stroke="#a9dca2" stroke-width="3"/>
<line x1="918.3" y1="421.5" x2="925.3" y2="417.3" stroke="#a9dca2" stroke-width="3"/>
<line x1="925.3" y1="417.3" x2="932.4" y2="430.1" stroke="#6fd45d" stroke-width="3"/>
<line x1="932.4" y1="430.1" x2="933.0" y2="449.8" stroke="#d1e0cc" stroke-width="3"/>
<line x1="995.7" y1="375.1" x2="1004.1" y2="384.8" stroke="#e7a4a0" stroke-width="3"/>
<line x1="1004.1" y1="384.8" x2="1017.3" y2="373.9" stroke="#e47e75" stroke-width="3"/>
<line x1="1017.3" y1="373.9" x2="1030.6" y2="367.9" stroke="#e2574a" stroke-width="3"/>
<line x1="1030.6" y1="367.9" x2="1037.8" y2="373.9" stroke="#e2574a" stroke-width="3"/>
<line x1="1037.8" y1="373.9" x2="1048.7" y2="367.9" stroke="#e2574a" stroke-width="3"/>
<line x1="1048.7" y1="367.9" x2="1060.0" y2="365.5" stroke="#e2574a" stroke-width="3"/>
<line x1="1030.6" y1="373.9" x2="1037.8" y2="410.1" stroke="#c6dfc0" stroke-width="3"/>
<line x1="1037.8" y1="410.1" x2="1043.9" y2="401.6" stroke="#e4c3bf" stroke-width="3"/>
<line x1="1043.9" y1="401.6" x2="1052.3" y2="395.6" stroke="#e7a4a0" stroke-width="3"/>
<line x1="1052.3" y1="395.6" x2="1060.0" y2="387.2" stroke="#e4c3bf" stroke-width="3"/>
<line x1="880.0" y1="357.0" x2="884.8" y2="363.1" stroke="#e47e75" stroke-width="4.5"/>
<line x1="884.8" y1="363.1" x2="892.0" y2="384.8" stroke="#e7a4a0" stroke-width="4.5"/>
<line x1="892.0" y1="384.8" x2="898.1" y2="386.0" stroke="#e7a4a0" stroke-width="4.5"/>
<line x1="898.1" y1="386.0" x2="905.3" y2="395.6" stroke="#e4c3bf" stroke-width="4.5"/>
<line x1="905.3" y1="395.6" x2="912.5" y2="401.6" stroke="#e2e2de" stroke-width="4.5"/>
<line x1="912.5" y1="401.6" x2="918.6" y2="410.1" stroke="#e2e2de" stroke-width="4.5"/>
<line x1="918.6" y1="410.1" x2="925.8" y2="404.0" stroke="#a9dca2" stroke-width="4.5"/>
<line x1="925.8" y1="404.0" x2="931.8" y2="429.3" stroke="#51d03e" stroke-width="4.5"/>
<line x1="931.8" y1="429.3" x2="933.0" y2="449.8" stroke="#d1e0cc" stroke-width="4.5"/>
<line x1="933.0" y1="449.8" x2="936.6" y2="411.3" stroke="#e2574a" stroke-width="4.5"/>
<line x1="936.6" y1="411.3" x2="940.2" y2="369.1" stroke="#e2574a" stroke-width="4.5"/>
<line x1="940.2" y1="369.1" x2="946.3" y2="354.6" stroke="#e2392c" stroke-width="4.5"/>
<line x1="946.3" y1="354.6" x2="964.3" y2="355.8" stroke="#e21c0e" stroke-width="4.5"/>
<line x1="964.3" y1="355.8" x2="970.4" y2="358.3" stroke="#e21c0e" stroke-width="4.5"/>
<line x1="970.4" y1="358.3" x2="982.4" y2="354.6" stroke="#e21c0e" stroke-width="4.5"/>
<line x1="982.4" y1="354.6" x2="988.4" y2="357.0" stroke="#e2392c" stroke-width="4.5"/>
<line x1="988.4" y1="357.0" x2="995.7" y2="373.9" stroke="#e47e75" stroke-width="4.5"/>
<line x1="995.7" y1="373.9" x2="1004.1" y2="386.0" stroke="#e7a4a0" stroke-width="4.5"/>
<line x1="1004.1" y1="386.0" x2="1010.1" y2="388.4" stroke="#e47e75" stroke-width="4.5"/>
<line x1="1010.1" y1="388.4" x2="1017.3" y2="372.7" stroke="#e2574a" stroke-width="4.5"/>
<line x1="1017.3" y1="372.7" x2="1030.6" y2="366.7" stroke="#e2574a" stroke-width="4.5"/>
<line x1="1030.6" y1="366.7" x2="1037.8" y2="375.1" stroke="#e2574a" stroke-width="4.5"/>
<line x1="1037.8" y1="375.1" x2="1048.7" y2="366.7" stroke="#e2574a" stroke-width="4.5"/>
<line x1="1048.7" y1="366.7" x2="1060.0" y2="364.3" stroke="#e2574a" stroke-width="4.5"/>
</g>
<g clip-path="url(#c2_7)">
<line x1="1020.0" y1="372.7" x2="1038.1" y2="372.7" stroke="#ca5446" stroke-width="1"/>
<line x1="1038.1" y1="372.7" x2="1056.1" y2="372.7" stroke="#ca5446" stroke-width="1"/>
<line x1="1056.1" y1="372.7" x2="1073.0" y2="378.7" stroke="#ce6051" stroke-width="1"/>
<line x1="1073.0" y1="378.7" x2="1080.2" y2="375.1" stroke="#d06556" stroke-width="1"/>
<line x1="1080.2" y1="375.1" x2="1086.3" y2="379.9" stroke="#d06758" stroke-width="1"/>
<line x1="1086.3" y1="379.9" x2="1097.1" y2="373.9" stroke="#d06556" stroke-width="1"/>
<line x1="1097.1" y1="373.9" x2="1121.2" y2="371.5" stroke="#ca5446" stroke-width="1"/>
<line x1="1121.2" y1="371.5" x2="1128.4" y2="373.3" stroke="#c95345" stroke-width="1"/>
<line x1="1020.0" y1="394.4" x2="1030.8" y2="392.0" stroke="#e7a4a0" stroke-width="2.5"/>
<line x1="1030.8" y1="392.0" x2="1038.1" y2="394.4" stroke="#e7a4a0" stroke-width="2.5"/>
<line x1="1038.1" y1="394.4" x2="1056.1" y2="390.8" stroke="#e7a4a0" stroke-width="2.5"/>
<line x1="1056.1" y1="390.8" x2="1065.8" y2="393.2" stroke="#e7a4a0" stroke-width="2.5"/>
<line x1="1065.8" y1="393.2" x2="1073.0" y2="398.0" stroke="#e7a4a0" stroke-width="2.5"/>
<line x1="1073.0" y1="398.0" x2="1080.2" y2="394.4" stroke="#e7a4a0" stroke-width="2.5"/>
<line x1="1080.2" y1="394.4" x2="1087.5" y2="395.6" stroke="#e7a4a0" stroke-width="2.5"/>
<line x1="1087.5" y1="395.6" x2="1097.1" y2="386.0" stroke="#e7a4a0" stroke-width="2.5"/>
<line x1="1097.1" y1="386.0" x2="1106.7" y2="381.1" stroke="#e7a4a0" stroke-width="2.5"/>
<line x1="1106.7" y1="381.1" x2="1121.2" y2="379.9" stroke="#e7a4a0" stroke-width="2.5"/>
<line x1="1121.2" y1="379.9" x2="1129.6" y2="382.3" stroke="#e7a4a0" stroke-width="2.5"/>
<line x1="1020.0" y1="371.5" x2="1030.8" y2="366.7" stroke="#e2574a" stroke-width="3"/>
<line x1="1030.8" y1="366.7" x2="1038.1" y2="371.5" stroke="#e2574a" stroke-width="3"/>
<line x1="1038.1" y1="371.5" x2="1058.6" y2="364.3" stroke="#e2574a" stroke-width="3"/>
<line x1="1058.6" y1="364.3" x2="1073.0" y2="379.9" stroke="#e2574a" stroke-width="3"/>
<line x1="1073.0" y1="379.9" x2="1080.2" y2="373.9" stroke="#e2574a" stroke-width="3"/>
<line x1="1080.2" y1="373.9" x2="1086.3" y2="376.3" stroke="#e2574a" stroke-width="3"/>
<line x1="1086.3" y1="376.3" x2="1094.7" y2="357.0" stroke="#e2392c" stroke-width="3"/>
<line x1="1020.0" y1="373.9" x2="1030.8" y2="367.9" stroke="#e2574a" stroke-width="4.5"/>
<line x1="1030.8" y1="367.9" x2="1038.1" y2="375.1" stroke="#e2574a" stroke-width="4.5"/>
<line x1="1038.1" y1="375.1" x2="1045.3" y2="369.1" stroke="#e2574a" stroke-width="4.5"/>
<line x1="1045.3" y1="369.1" x2="1058.6" y2="365.5" stroke="#e2574a" stroke-width="4.5"/>
<line x1="1058.6" y1="365.5" x2="1065.8" y2="369.1" stroke="#e2574a" stroke-width="4.5"/>
<line x1="1065.8" y1="369.1" x2="1073.0" y2="382.3" stroke="#e2574a" stroke-width="4.5"/>
<line x1="1073.0" y1="382.3" x2="1080.2" y2="376.3" stroke="#e2574a" stroke-width="4.5"/>
<line x1="1080.2" y1="376.3" x2="1086.3" y2="378.7" stroke="#e2574a" stroke-width="4.5"/>
<line x1="1086.3" y1="378.7" x2="1092.3" y2="359.5" stroke="#e2392c" stroke-width="4.5"/>
<line x1="1092.3" y1="359.5" x2="1093.5" y2="354.6" stroke="#e21c0e" stroke-width="4.5"/>
<line x1="1093.5" y1="354.6" x2="1121.2" y2="354.6" stroke="#e21c0e" stroke-width="4.5"/>
<line x1="1121.2" y1="354.6" x2="1129.6" y2="359.5" stroke="#e21c0e" stroke-width="4.5"/>
<line x1="1030.8" y1="369.1" x2="1032.0" y2="373.9" stroke="#e3d2ce" stroke-width="4.5"/>
<line x1="1032.0" y1="373.9" x2="1038.1" y2="410.1" stroke="#c6dfc0" stroke-width="4.5"/>
<line x1="1038.1" y1="410.1" x2="1045.3" y2="399.2" stroke="#e4c3bf" stroke-width="4.5"/>
<line x1="1045.3" y1="399.2" x2="1051.3" y2="395.6" stroke="#e7a4a0" stroke-width="4.5"/>
<line x1="1051.3" y1="395.6" x2="1058.6" y2="386.0" stroke="#e4c3bf" stroke-width="4.5"/>
<line x1="1058.6" y1="386.0" x2="1065.8" y2="400.4" stroke="#a9dca2" stroke-width="4.5"/>
<line x1="1065.8" y1="400.4" x2="1073.0" y2="431.7" stroke="#6fd45d" stroke-width="4.5"/>
<line x1="1073.0" y1="431.7" x2="1080.2" y2="412.5" stroke="#a9dca2" stroke-width="4.5"/>
<line x1="1080.2" y1="412.5" x2="1086.3" y2="418.5" stroke="#e5bbb7" stroke-width="4.5"/>
<line x1="1086.3" y1="418.5" x2="1093.5" y2="354.6" stroke="#e21c0e" stroke-width="4.5"/>
<line x1="1093.5" y1="354.6" x2="1121.2" y2="354.6" stroke="#e21c0e" stroke-width="4.5"/>
<line x1="1121.2" y1="354.6" x2="1129.0" y2="366.7" stroke="#e21c0e" stroke-width="4.5"/>
</g>
</g>
<g stroke-linecap="round" stroke-linejoin="round">
<polygon points="11.7,493.2 18.7,486.6 25.7,481.8 32.7,483.6 39.6,481.7 46.6,485.5 53.6,493.7 60.6,504.7 67.6,505.3 74.6,505.2 81.6,502.0 88.5,502.3 95.5,502.9 95.5,504.9 88.5,506.5 81.6,507.8 74.6,508.9 67.6,509.8 60.6,510.6 53.6,511.3 46.6,512.7 39.6,514.0 32.7,515.5 25.7,517.2 18.7,519.4 11.7,521.7" fill="#3b1a1e"/>
<polygon points="95.5,502.9 102.5,507.7 109.5,522.8 116.5,518.7 123.5,522.8 130.5,525.0 137.4,529.0 144.4,534.5 151.4,543.7 158.4,546.2 165.4,537.0 172.4,541.0 179.4,544.8 186.3,551.4 193.3,554.9 200.3,553.4 207.3,547.4 214.3,544.6 221.3,548.4 228.3,535.9 228.3,535.4 221.3,533.6 214.3,531.8 207.3,530.0 200.3,527.5 193.3,525.0 186.3,521.9 179.4,518.8 172.4,515.6 165.4,512.5 158.4,509.4 151.4,506.3 144.4,504.2 137.4,502.2 130.5,501.5 123.5,501.1 116.5,501.7 109.5,502.4 102.5,503.4 95.5,504.9" fill="#1b2e1d"/>
<polygon points="228.3,535.9 235.3,528.3 242.2,521.6 249.2,522.1 256.2,524.3 263.2,521.7 270.2,517.6 277.2,509.9 284.2,510.4 291.1,506.5 298.1,515.6 305.1,520.6 312.1,513.6 319.1,509.8 326.1,504.0 333.1,511.7 340.0,517.9 340.0,521.2 333.1,523.1 326.1,525.5 319.1,527.4 312.1,529.4 305.1,530.7 298.1,532.0 291.1,533.4 284.2,534.9 277.2,536.3 270.2,537.4 263.2,537.9 256.2,538.2 249.2,538.0 242.2,537.6 235.3,536.6 228.3,535.4" fill="#3b1a1e"/>
<polygon points="340.0,517.9 347.0,538.2 354.0,564.5 361.0,579.0 368.0,591.8 375.0,584.8 382.0,604.3 388.9,602.7 395.9,612.2 402.9,603.0 409.9,579.3 416.9,556.2 423.9,555.3 430.9,568.9 437.8,573.7 444.8,578.0 451.8,576.4 458.8,584.3 465.8,593.2 472.8,590.2 479.8,591.0 486.7,584.4 493.7,584.4 500.7,597.2 507.7,586.0 507.7,586.1 500.7,585.8 493.7,583.9 486.7,583.2 479.8,580.5 472.8,577.0 465.8,573.5 458.8,569.4 451.8,565.5 444.8,562.4 437.8,559.3 430.9,556.3 423.9,553.2 416.9,550.7 409.9,548.2 402.9,545.3 395.9,541.3 388.9,537.3 382.0,533.6 375.0,530.1 368.0,526.8 361.0,524.3 354.0,522.2 347.0,521.4 340.0,521.2" fill="#1b2e1d"/>
<polygon points="507.7,586.0 514.7,571.9 521.7,569.2 528.7,580.8 535.6,570.0 542.6,572.0 549.6,559.4 556.6,541.7 563.6,537.4 570.6,533.2 577.6,533.1 584.6,532.1 591.5,543.1 591.5,568.2 584.6,569.8 577.6,571.6 570.6,573.3 563.6,575.1 556.6,576.1 549.6,577.0 542.6,578.2 535.6,579.5 528.7,581.8 521.7,583.3 514.7,584.7 507.7,586.1" fill="#3b1a1e"/>
<polygon points="591.5,543.1 598.5,572.4 605.5,598.4 612.5,615.1 619.5,630.3 626.5,635.6 633.5,637.8 640.4,646.4 647.4,640.3 654.4,612.9 661.4,586.9 661.4,584.7 654.4,582.9 647.4,581.2 640.4,579.0 633.5,576.2 626.5,573.5 619.5,571.2 612.5,569.2 605.5,568.0 598.5,567.7 591.5,568.2" fill="#1b2e1d"/>
<polygon points="661.4,586.9 668.4,571.9 675.4,564.7 682.4,577.8 689.3,578.3 696.3,579.8 703.3,566.0 710.3,561.2 717.3,564.1 724.3,570.3 731.3,573.4 738.2,560.0 745.2,575.1 752.2,561.6 759.2,570.1 766.2,571.5 773.2,572.1 773.2,581.0 766.2,583.9 759.2,586.8 752.2,589.8 745.2,592.9 738.2,593.5 731.3,594.1 724.3,592.4 717.3,590.4 710.3,589.1 703.3,587.7 696.3,586.3 689.3,584.6 682.4,583.7 675.4,583.3 668.4,584.0 661.4,584.7" fill="#3b1a1e"/>
<polygon points="773.2,572.1 780.2,581.1 787.1,603.4 794.1,631.8 801.1,628.1 808.1,636.3 815.1,624.0 822.1,616.4 829.1,608.5 836.0,598.6 843.0,589.1 843.0,590.2 836.0,589.0 829.1,587.7 822.1,585.9 815.1,583.7 808.1,580.2 801.1,577.9 794.1,575.9 787.1,575.5 780.2,578.1 773.2,581.0" fill="#1b2e1d"/>
<polygon points="843.0,589.1 850.0,563.4 857.0,553.5 864.0,551.2 871.0,549.5 878.0,543.9 885.0,553.9 891.9,574.8 898.9,576.9 905.9,585.7 905.9,587.2 898.9,586.6 891.9,586.3 885.0,585.9 878.0,586.6 871.0,587.8 864.0,588.8 857.0,589.6 850.0,590.2 843.0,590.2" fill="#3b1a1e"/>
<polygon points="905.9,585.7 912.9,590.8 919.9,599.0 926.9,593.0 933.9,616.4 933.9,587.2 926.9,588.0 919.9,588.6 912.9,588.1 905.9,587.2" fill="#1b2e1d"/>
<polygon points="933.9,616.4 940.8,554.9 947.8,542.6 954.8,533.7 961.8,534.3 968.8,536.5 975.8,535.6 982.8,530.7 989.7,533.4 996.7,552.1 1003.7,561.2 1010.7,561.5 1017.7,550.0 1024.7,548.8 1031.7,544.4 1038.6,548.7 1045.6,544.8 1052.6,543.3 1059.6,541.6 1066.6,547.2 1066.6,547.3 1059.6,549.5 1052.6,551.9 1045.6,554.3 1038.6,556.5 1031.7,558.6 1024.7,560.7 1017.7,561.3 1010.7,561.7 1003.7,560.6 996.7,559.6 989.7,559.6 982.8,561.2 975.8,564.4 968.8,567.8 961.8,571.5 954.8,575.6 947.8,580.1 940.8,584.2 933.9,587.2" fill="#3b1a1e"/>
<polygon points="1066.6,547.2 1073.6,556.3 1080.6,549.8 1087.5,549.9 1087.5,545.4 1080.6,544.3 1073.6,544.8 1066.6,547.3" fill="#1b2e1d"/>
<polygon points="1087.5,549.9 1094.5,535.0 1101.5,527.7 1108.5,525.9 1115.5,526.0 1122.5,524.1 1129.5,528.0 1129.5,543.6 1122.5,543.8 1115.5,544.1 1108.5,544.5 1101.5,544.9 1094.5,545.2 1087.5,545.4" fill="#3b1a1e"/>
<line x1="11.7" y1="521.7" x2="18.7" y2="519.4" stroke="#f23645" stroke-width="3"/>
<line x1="18.7" y1="519.4" x2="25.7" y2="517.2" stroke="#f23645" stroke-width="3"/>
<line x1="25.7" y1="517.2" x2="32.7" y2="515.5" stroke="#f23645" stroke-width="3"/>
<line x1="32.7" y1="515.5" x2="39.6" y2="514.0" stroke="#f23645" stroke-width="3"/>
<line x1="39.6" y1="514.0" x2="46.6" y2="512.7" stroke="#f23645" stroke-width="3"/>
<line x1="46.6" y1="512.7" x2="53.6" y2="511.3" stroke="#f23645" stroke-width="3"/>
<line x1="53.6" y1="511.3" x2="60.6" y2="510.6" stroke="#f23645" stroke-width="3"/>
<line x1="60.6" y1="510.6" x2="67.6" y2="509.8" stroke="#f23645" stroke-width="3"/>
<line x1="67.6" y1="509.8" x2="74.6" y2="508.9" stroke="#f23645" stroke-width="3"/>
<line x1="74.6" y1="508.9" x2="81.6" y2="507.8" stroke="#f23645" stroke-width="3"/>
<line x1="81.6" y1="507.8" x2="88.5" y2="506.5" stroke="#f23645" stroke-width="3"/>
<line x1="88.5" y1="506.5" x2="95.5" y2="504.9" stroke="#f23645" stroke-width="3"/>
<line x1="95.5" y1="504.9" x2="102.5" y2="503.4" stroke="#4caf50" stroke-width="3"/>
<line x1="102.5" y1="503.4" x2="109.5" y2="502.4" stroke="#4caf50" stroke-width="3"/>
<line x1="109.5" y1="502.4" x2="116.5" y2="501.7" stroke="#4caf50" stroke-width="3"/>
<line x1="116.5" y1="501.7" x2="123.5" y2="501.1" stroke="#4caf50" stroke-width="3"/>
<line x1="123.5" y1="501.1" x2="130.5" y2="501.5" stroke="#4caf50" stroke-width="3"/>
<line x1="130.5" y1="501.5" x2="137.4" y2="502.2" stroke="#4caf50" stroke-width="3"/>
<line x1="137.4" y1="502.2" x2="144.4" y2="504.2" stroke="#4caf50" stroke-width="3"/>
<line x1="144.4" y1="504.2" x2="151.4" y2="506.3" stroke="#4caf50" stroke-width="3"/>
<line x1="151.4" y1="506.3" x2="158.4" y2="509.4" stroke="#4caf50" stroke-width="3"/>
<line x1="158.4" y1="509.4" x2="165.4" y2="512.5" stroke="#4caf50" stroke-width="3"/>
<line x1="165.4" y1="512.5" x2="172.4" y2="515.6" stroke="#4caf50" stroke-width="3"/>
<line x1="172.4" y1="515.6" x2="179.4" y2="518.8" stroke="#4caf50" stroke-width="3"/>
<line x1="179.4" y1="518.8" x2="186.3" y2="521.9" stroke="#4caf50" stroke-width="3"/>
<line x1="186.3" y1="521.9" x2="193.3" y2="525.0" stroke="#4caf50" stroke-width="3"/>
<line x1="193.3" y1="525.0" x2="200.3" y2="527.5" stroke="#4caf50" stroke-width="3"/>
<line x1="200.3" y1="527.5" x2="207.3" y2="530.0" stroke="#4caf50" stroke-width="3"/>
<line x1="207.3" y1="530.0" x2="214.3" y2="531.8" stroke="#4caf50" stroke-width="3"/>
<line x1="214.3" y1="531.8" x2="221.3" y2="533.6" stroke="#4caf50" stroke-width="3"/>
<line x1="221.3" y1="533.6" x2="228.3" y2="535.4" stroke="#4caf50" stroke-width="3"/>
<line x1="228.3" y1="535.4" x2="235.3" y2="536.6" stroke="#f23645" stroke-width="3"/>
<line x1="235.3" y1="536.6" x2="242.2" y2="537.6" stroke="#f23645" stroke-width="3"/>
<line x1="242.2" y1="537.6" x2="249.2" y2="538.0" stroke="#f23645" stroke-width="3"/>
<line x1="249.2" y1="538.0" x2="256.2" y2="538.2" stroke="#f23645" stroke-width="3"/>
<line x1="256.2" y1="538.2" x2="263.2" y2="537.9" stroke="#f23645" stroke-width="3"/>
<line x1="263.2" y1="537.9" x2="270.2" y2="537.4" stroke="#f23645" stroke-width="3"/>
<line x1="270.2" y1="537.4" x2="277.2" y2="536.3" stroke="#f23645" stroke-width="3"/>
<line x1="277.2" y1="536.3" x2="284.2" y2="534.9" stroke="#f23645" stroke-width="3"/>
<line x1="284.2" y1="534.9" x2="291.1" y2="533.4" stroke="#f23645" stroke-width="3"/>
<line x1="291.1" y1="533.4" x2="298.1" y2="532.0" stroke="#f23645" stroke-width="3"/>
<line x1="298.1" y1="532.0" x2="305.1" y2="530.7" stroke="#f23645" stroke-width="3"/>
<line x1="305.1" y1="530.7" x2="312.1" y2="529.4" stroke="#f23645" stroke-width="3"/>
<line x1="312.1" y1="529.4" x2="319.1" y2="527.4" stroke="#f23645" stroke-width="3"/>
<line x1="319.1" y1="527.4" x2="326.1" y2="525.5" stroke="#f23645" stroke-width="3"/>
<line x1="326.1" y1="525.5" x2="333.1" y2="523.1" stroke="#f23645" stroke-width="3"/>
<line x1="333.1" y1="523.1" x2="340.0" y2="521.2" stroke="#f23645" stroke-width="3"/>
<line x1="340.0" y1="521.2" x2="347.0" y2="521.4" stroke="#4caf50" stroke-width="3"/>
<line x1="347.0" y1="521.4" x2="354.0" y2="522.2" stroke="#4caf50" stroke-width="3"/>
<line x1="354.0" y1="522.2" x2="361.0" y2="524.3" stroke="#4caf50" stroke-width="3"/>
<line x1="361.0" y1="524.3" x2="368.0" y2="526.8" stroke="#4caf50" stroke-width="3"/>
<line x1="368.0" y1="526.8" x2="375.0" y2="530.1" stroke="#4caf50" stroke-width="3"/>
<line x1="375.0" y1="530.1" x2="382.0" y2="533.6" stroke="#4caf50" stroke-width="3"/>
<line x1="382.0" y1="533.6" x2="388.9" y2="537.3" stroke="#4caf50" stroke-width="3"/>
<line x1="388.9" y1="537.3" x2="395.9" y2="541.3" stroke="#4caf50" stroke-width="3"/>
<line x1="395.9" y1="541.3" x2="402.9" y2="545.3" stroke="#4caf50" stroke-width="3"/>
<line x1="402.9" y1="545.3" x2="409.9" y2="548.2" stroke="#4caf50" stroke-width="3"/>
<line x1="409.9" y1="548.2" x2="416.9" y2="550.7" stroke="#4caf50" stroke-width="3"/>
<line x1="416.9" y1="550.7" x2="423.9" y2="553.2" stroke="#4caf50" stroke-width="3"/>
<line x1="423.9" y1="553.2" x2="430.9" y2="556.3" stroke="#4caf50" stroke-width="3"/>
<line x1="430.9" y1="556.3" x2="437.8" y2="559.3" stroke="#4caf50" stroke-width="3"/>
<line x1="437.8" y1="559.3" x2="444.8" y2="562.4" stroke="#4caf50" stroke-width="3"/>
<line x1="444.8" y1="562.4" x2="451.8" y2="565.5" stroke="#4caf50" stroke-width="3"/>
<line x1="451.8" y1="565.5" x2="458.8" y2="569.4" stroke="#4caf50" stroke-width="3"/>
<line x1="458.8" y1="569.4" x2="465.8" y2="573.5" stroke="#4caf50" stroke-width="3"/>
<line x1="465.8" y1="573.5" x2="472.8" y2="577.0" stroke="#4caf50" stroke-width="3"/>
<line x1="472.8" y1="577.0" x2="479.8" y2="580.5" stroke="#4caf50" stroke-width="3"/>
<line x1="479.8" y1="580.5" x2="486.7" y2="583.2" stroke="#4caf50" stroke-width="3"/>
<line x1="486.7" y1="583.2" x2="493.7" y2="583.9" stroke="#4caf50" stroke-width="3"/>
<line x1="493.7" y1="583.9" x2="500.7" y2="585.8" stroke="#4caf50" stroke-width="3"/>
<line x1="500.7" y1="585.8" x2="507.7" y2="586.1" stroke="#4caf50" stroke-width="3"/>
<line x1="507.7" y1="586.1" x2="514.7" y2="584.7" stroke="#f23645" stroke-width="3"/>
<line x1="514.7" y1="584.7" x2="521.7" y2="583.3" stroke="#f23645" stroke-width="3"/>
<line x1="521.7" y1="583.3" x2="528.7" y2="581.8" stroke="#f23645" stroke-width="3"/>
<line x1="528.7" y1="581.8" x2="535.6" y2="579.5" stroke="#f23645" stroke-width="3"/>
<line x1="535.6" y1="579.5" x2="542.6" y2="578.2" stroke="#f23645" stroke-width="3"/>
<line x1="542.6" y1="578.2" x2="549.6" y2="577.0" stroke="#f23645" stroke-width="3"/>
<line x1="549.6" y1="577.0" x2="556.6" y2="576.1" stroke="#f23645" stroke-width="3"/>
<line x1="556.6" y1="576.1" x2="563.6" y2="575.1" stroke="#f23645" stroke-width="3"/>
<line x1="563.6" y1="575.1" x2="570.6" y2="573.3" stroke="#f23645" stroke-width="3"/>
<line x1="570.6" y1="573.3" x2="577.6" y2="571.6" stroke="#f23645" stroke-width="3"/>
<line x1="577.6" y1="571.6" x2="584.6" y2="569.8" stroke="#f23645" stroke-width="3"/>
<line x1="584.6" y1="569.8" x2="591.5" y2="568.2" stroke="#f23645" stroke-width="3"/>
<line x1="591.5" y1="568.2" x2="598.5" y2="567.7" stroke="#4caf50" stroke-width="3"/>
<line x1="598.5" y1="567.7" x2="605.5" y2="568.0" stroke="#4caf50" stroke-width="3"/>
<line x1="605.5" y1="568.0" x2="612.5" y2="569.2" stroke="#4caf50" stroke-width="3"/>
<line x1="612.5" y1="569.2" x2="619.5" y2="571.2" stroke="#4caf50" stroke-width="3"/>
<line x1="619.5" y1="571.2" x2="626.5" y2="573.5" stroke="#4caf50" stroke-width="3"/>
<line x1="626.5" y1="573.5" x2="633.5" y2="576.2" stroke="#4caf50" stroke-width="3"/>
<line x1="633.5" y1="576.2" x2="640.4" y2="579.0" stroke="#4caf50" stroke-width="3"/>
<line x1="640.4" y1="579.0" x2="647.4" y2="581.2" stroke="#4caf50" stroke-width="3"/>
<line x1="647.4" y1="581.2" x2="654.4" y2="582.9" stroke="#4caf50" stroke-width="3"/>
<line x1="654.4" y1="582.9" x2="661.4" y2="584.7" stroke="#4caf50" stroke-width="3"/>
<line x1="661.4" y1="584.7" x2="668.4" y2="584.0" stroke="#f23645" stroke-width="3"/>
<line x1="668.4" y1="584.0" x2="675.4" y2="583.3" stroke="#f23645" stroke-width="3"/>
<line x1="675.4" y1="583.3" x2="682.4" y2="583.7" stroke="#f23645" stroke-width="3"/>
<line x1="682.4" y1="583.7" x2="689.3" y2="584.6" stroke="#f23645" stroke-width="3"/>
<line x1="689.3" y1="584.6" x2="696.3" y2="586.3" stroke="#f23645" stroke-width="3"/>
<line x1="696.3" y1="586.3" x2="703.3" y2="587.7" stroke="#f23645" stroke-width="3"/>
<line x1="703.3" y1="587.7" x2="710.3" y2="589.1" stroke="#f23645" stroke-width="3"/>
<line x1="710.3" y1="589.1" x2="717.3" y2="590.4" stroke="#f23645" stroke-width="3"/>
<line x1="717.3" y1="590.4" x2="724.3" y2="592.4" stroke="#f23645" stroke-width="3"/>
<line x1="724.3" y1="592.4" x2="731.3" y2="594.1" stroke="#f23645" stroke-width="3"/>
<line x1="731.3" y1="594.1" x2="738.2" y2="593.5" stroke="#f23645" stroke-width="3"/>
<line x1="738.2" y1="593.5" x2="745.2" y2="592.9" stroke="#f23645" stroke-width="3"/>
<line x1="745.2" y1="592.9" x2="752.2" y2="589.8" stroke="#f23645" stroke-width="3"/>
<line x1="752.2" y1="589.8" x2="759.2" y2="586.8" stroke="#f23645" stroke-width="3"/>
<line x1="759.2" y1="586.8" x2="766.2" y2="583.9" stroke="#f23645" stroke-width="3"/>
<line x1="766.2" y1="583.9" x2="773.2" y2="581.0" stroke="#f23645" stroke-width="3"/>
<line x1="773.2" y1="581.0" x2="780.2" y2="578.1" stroke="#4caf50" stroke-width="3"/>
<line x1="780.2" y1="578.1" x2="787.1" y2="575.5" stroke="#4caf50" stroke-width="3"/>
<line x1="787.1" y1="575.5" x2="794.1" y2="575.9" stroke="#4caf50" stroke-width="3"/>
<line x1="794.1" y1="575.9" x2="801.1" y2="577.9" stroke="#4caf50" stroke-width="3"/>
<line x1="801.1" y1="577.9" x2="808.1" y2="580.2" stroke="#4caf50" stroke-width="3"/>
<line x1="808.1" y1="580.2" x2="815.1" y2="583.7" stroke="#4caf50" stroke-width="3"/>
<line x1="815.1" y1="583.7" x2="822.1" y2="585.9" stroke="#4caf50" stroke-width="3"/>
<line x1="822.1" y1="585.9" x2="829.1" y2="587.7" stroke="#4caf50" stroke-width="3"/>
<line x1="829.1" y1="587.7" x2="836.0" y2="589.0" stroke="#4caf50" stroke-width="3"/>
<line x1="836.0" y1="589.0" x2="843.0" y2="590.2" stroke="#4caf50" stroke-width="3"/>
<line x1="843.0" y1="590.2" x2="850.0" y2="590.2" stroke="#f23645" stroke-width="3"/>
<line x1="850.0" y1="590.2" x2="857.0" y2="589.6" stroke="#f23645" stroke-width="3"/>
<line x1="857.0" y1="589.6" x2="864.0" y2="588.8" stroke="#f23645" stroke-width="3"/>
<line x1="864.0" y1="588.8" x2="871.0" y2="587.8" stroke="#f23645" stroke-width="3"/>
<line x1="871.0" y1="587.8" x2="878.0" y2="586.6" stroke="#f23645" stroke-width="3"/>
<line x1="878.0" y1="586.6" x2="885.0" y2="585.9" stroke="#f23645" stroke-width="3"/>
<line x1="885.0" y1="585.9" x2="891.9" y2="586.3" stroke="#f23645" stroke-width="3"/>
<line x1="891.9" y1="586.3" x2="898.9" y2="586.6" stroke="#f23645" stroke-width="3"/>
<line x1="898.9" y1="586.6" x2="905.9" y2="587.2" stroke="#f23645" stroke-width="3"/>
<line x1="905.9" y1="587.2" x2="912.9" y2="588.1" stroke="#4caf50" stroke-width="3"/>
<line x1="912.9" y1="588.1" x2="919.9" y2="588.6" stroke="#4caf50" stroke-width="3"/>
<line x1="919.9" y1="588.6" x2="926.9" y2="588.0" stroke="#4caf50" stroke-width="3"/>
<line x1="926.9" y1="588.0" x2="933.9" y2="587.2" stroke="#4caf50" stroke-width="3"/>
<line x1="933.9" y1="587.2" x2="940.8" y2="584.2" stroke="#f23645" stroke-width="3"/>
<line x1="940.8" y1="584.2" x2="947.8" y2="580.1" stroke="#f23645" stroke-width="3"/>
<line x1="947.8" y1="580.1" x2="954.8" y2="575.6" stroke="#f23645" stroke-width="3"/>
<line x1="954.8" y1="575.6" x2="961.8" y2="571.5" stroke="#f23645" stroke-width="3"/>
<line x1="961.8" y1="571.5" x2="968.8" y2="567.8" stroke="#f23645" stroke-width="3"/>
<line x1="968.8" y1="567.8" x2="975.8" y2="564.4" stroke="#f23645" stroke-width="3"/>
<line x1="975.8" y1="564.4" x2="982.8" y2="561.2" stroke="#f23645" stroke-width="3"/>
<line x1="982.8" y1="561.2" x2="989.7" y2="559.6" stroke="#f23645" stroke-width="3"/>
<line x1="989.7" y1="559.6" x2="996.7" y2="559.6" stroke="#f23645" stroke-width="3"/>
<line x1="996.7" y1="559.6" x2="1003.7" y2="560.6" stroke="#f23645" stroke-width="3"/>
<line x1="1003.7" y1="560.6" x2="1010.7" y2="561.7" stroke="#f23645" stroke-width="3"/>
<line x1="1010.7" y1="561.7" x2="1017.7" y2="561.3" stroke="#f23645" stroke-width="3"/>
<line x1="1017.7" y1="561.3" x2="1024.7" y2="560.7" stroke="#f23645" stroke-width="3"/>
<line x1="1024.7" y1="560.7" x2="1031.7" y2="558.6" stroke="#f23645" stroke-width="3"/>
<line x1="1031.7" y1="558.6" x2="1038.6" y2="556.5" stroke="#f23645" stroke-width="3"/>
<line x1="1038.6" y1="556.5" x2="1045.6" y2="554.3" stroke="#f23645" stroke-width="3"/>
<line x1="1045.6" y1="554.3" x2="1052.6" y2="551.9" stroke="#f23645" stroke-width="3"/>
<line x1="1052.6" y1="551.9" x2="1059.6" y2="549.5" stroke="#f23645" stroke-width="3"/>
<line x1="1059.6" y1="549.5" x2="1066.6" y2="547.3" stroke="#f23645" stroke-width="3"/>
<line x1="1066.6" y1="547.3" x2="1073.6" y2="544.8" stroke="#4caf50" stroke-width="3"/>
<line x1="1073.6" y1="544.8" x2="1080.6" y2="544.3" stroke="#4caf50" stroke-width="3"/>
<line x1="1080.6" y1="544.3" x2="1087.5" y2="545.4" stroke="#4caf50" stroke-width="3"/>
<line x1="1087.5" y1="545.4" x2="1094.5" y2="545.2" stroke="#f23645" stroke-width="3"/>
<line x1="1094.5" y1="545.2" x2="1101.5" y2="544.9" stroke="#f23645" stroke-width="3"/>
<line x1="1101.5" y1="544.9" x2="1108.5" y2="544.5" stroke="#f23645" stroke-width="3"/>
<line x1="1108.5" y1="544.5" x2="1115.5" y2="544.1" stroke="#f23645" stroke-width="3"/>
<line x1="1115.5" y1="544.1" x2="1122.5" y2="543.8" stroke="#f23645" stroke-width="3"/>
<line x1="1122.5" y1="543.8" x2="1129.5" y2="543.6" stroke="#f23645" stroke-width="3"/>
<line x1="11.7" y1="493.2" x2="18.7" y2="486.6" stroke="#f23645" stroke-width="2"/>
<line x1="18.7" y1="486.6" x2="25.7" y2="481.8" stroke="#f23645" stroke-width="2"/>
<line x1="25.7" y1="481.8" x2="32.7" y2="483.6" stroke="#f23645" stroke-width="2"/>
<line x1="32.7" y1="483.6" x2="39.6" y2="481.7" stroke="#f23645" stroke-width="2"/>
<line x1="39.6" y1="481.7" x2="46.6" y2="485.5" stroke="#f23645" stroke-width="2"/>
<line x1="46.6" y1="485.5" x2="53.6" y2="493.7" stroke="#f23645" stroke-width="2"/>
<line x1="53.6" y1="493.7" x2="60.6" y2="504.7" stroke="#f23645" stroke-width="2"/>
<line x1="60.6" y1="504.7" x2="67.6" y2="505.3" stroke="#f23645" stroke-width="2"/>
<line x1="67.6" y1="505.3" x2="74.6" y2="505.2" stroke="#f23645" stroke-width="2"/>
<line x1="74.6" y1="505.2" x2="81.6" y2="502.0" stroke="#f23645" stroke-width="2"/>
<line x1="81.6" y1="502.0" x2="88.5" y2="502.3" stroke="#f23645" stroke-width="2"/>
<line x1="88.5" y1="502.3" x2="95.5" y2="502.9" stroke="#f23645" stroke-width="2"/>
<line x1="95.5" y1="502.9" x2="102.5" y2="507.7" stroke="#4caf50" stroke-width="2"/>
<line x1="102.5" y1="507.7" x2="109.5" y2="522.8" stroke="#4caf50" stroke-width="2"/>
<line x1="109.5" y1="522.8" x2="116.5" y2="518.7" stroke="#4caf50" stroke-width="2"/>
<line x1="116.5" y1="518.7" x2="123.5" y2="522.8" stroke="#4caf50" stroke-width="2"/>
<line x1="123.5" y1="522.8" x2="130.5" y2="525.0" stroke="#4caf50" stroke-width="2"/>
<line x1="130.5" y1="525.0" x2="137.4" y2="529.0" stroke="#4caf50" stroke-width="2"/>
<line x1="137.4" y1="529.0" x2="144.4" y2="534.5" stroke="#4caf50" stroke-width="2"/>
<line x1="144.4" y1="534.5" x2="151.4" y2="543.7" stroke="#4caf50" stroke-width="2"/>
<line x1="151.4" y1="543.7" x2="158.4" y2="546.2" stroke="#4caf50" stroke-width="2"/>
<line x1="158.4" y1="546.2" x2="165.4" y2="537.0" stroke="#4caf50" stroke-width="2"/>
<line x1="165.4" y1="537.0" x2="172.4" y2="541.0" stroke="#4caf50" stroke-width="2"/>
<line x1="172.4" y1="541.0" x2="179.4" y2="544.8" stroke="#4caf50" stroke-width="2"/>
<line x1="179.4" y1="544.8" x2="186.3" y2="551.4" stroke="#4caf50" stroke-width="2"/>
<line x1="186.3" y1="551.4" x2="193.3" y2="554.9" stroke="#4caf50" stroke-width="2"/>
<line x1="193.3" y1="554.9" x2="200.3" y2="553.4" stroke="#4caf50" stroke-width="2"/>
<line x1="200.3" y1="553.4" x2="207.3" y2="547.4" stroke="#4caf50" stroke-width="2"/>
<line x1="207.3" y1="547.4" x2="214.3" y2="544.6" stroke="#4caf50" stroke-width="2"/>
<line x1="214.3" y1="544.6" x2="221.3" y2="548.4" stroke="#4caf50" stroke-width="2"/>
<line x1="221.3" y1="548.4" x2="228.3" y2="535.9" stroke="#4caf50" stroke-width="2"/>
<line x1="228.3" y1="535.9" x2="235.3" y2="528.3" stroke="#f23645" stroke-width="2"/>
<line x1="235.3" y1="528.3" x2="242.2" y2="521.6" stroke="#f23645" stroke-width="2"/>
<line x1="242.2" y1="521.6" x2="249.2" y2="522.1" stroke="#f23645" stroke-width="2"/>
<line x1="249.2" y1="522.1" x2="256.2" y2="524.3" stroke="#f23645" stroke-width="2"/>
<line x1="256.2" y1="524.3" x2="263.2" y2="521.7" stroke="#f23645" stroke-width="2"/>
<line x1="263.2" y1="521.7" x2="270.2" y2="517.6" stroke="#f23645" stroke-width="2"/>
<line x1="270.2" y1="517.6" x2="277.2" y2="509.9" stroke="#f23645" stroke-width="2"/>
<line x1="277.2" y1="509.9" x2="284.2" y2="510.4" stroke="#f23645" stroke-width="2"/>
<line x1="284.2" y1="510.4" x2="291.1" y2="506.5" stroke="#f23645" stroke-width="2"/>
<line x1="291.1" y1="506.5" x2="298.1" y2="515.6" stroke="#f23645" stroke-width="2"/>
<line x1="298.1" y1="515.6" x2="305.1" y2="520.6" stroke="#f23645" stroke-width="2"/>
<line x1="305.1" y1="520.6" x2="312.1" y2="513.6" stroke="#f23645" stroke-width="2"/>
<line x1="312.1" y1="513.6" x2="319.1" y2="509.8" stroke="#f23645" stroke-width="2"/>
<line x1="319.1" y1="509.8" x2="326.1" y2="504.0" stroke="#f23645" stroke-width="2"/>
<line x1="326.1" y1="504.0" x2="333.1" y2="511.7" stroke="#f23645" stroke-width="2"/>
<line x1="333.1" y1="511.7" x2="340.0" y2="517.9" stroke="#f23645" stroke-width="2"/>
<line x1="340.0" y1="517.9" x2="347.0" y2="538.2" stroke="#4caf50" stroke-width="2"/>
<line x1="347.0" y1="538.2" x2="354.0" y2="564.5" stroke="#4caf50" stroke-width="2"/>
<line x1="354.0" y1="564.5" x2="361.0" y2="579.0" stroke="#4caf50" stroke-width="2"/>
<line x1="361.0" y1="579.0" x2="368.0" y2="591.8" stroke="#4caf50" stroke-width="2"/>
<line x1="368.0" y1="591.8" x2="375.0" y2="584.8" stroke="#4caf50" stroke-width="2"/>
<line x1="375.0" y1="584.8" x2="382.0" y2="604.3" stroke="#4caf50" stroke-width="2"/>
<line x1="382.0" y1="604.3" x2="388.9" y2="602.7" stroke="#4caf50" stroke-width="2"/>
<line x1="388.9" y1="602.7" x2="395.9" y2="612.2" stroke="#4caf50" stroke-width="2"/>
<line x1="395.9" y1="612.2" x2="402.9" y2="603.0" stroke="#4caf50" stroke-width="2"/>
<line x1="402.9" y1="603.0" x2="409.9" y2="579.3" stroke="#4caf50" stroke-width="2"/>
<line x1="409.9" y1="579.3" x2="416.9" y2="556.2" stroke="#4caf50" stroke-width="2"/>
<line x1="416.9" y1="556.2" x2="423.9" y2="555.3" stroke="#4caf50" stroke-width="2"/>
<line x1="423.9" y1="555.3" x2="430.9" y2="568.9" stroke="#4caf50" stroke-width="2"/>
<line x1="430.9" y1="568.9" x2="437.8" y2="573.7" stroke="#4caf50" stroke-width="2"/>
<line x1="437.8" y1="573.7" x2="444.8" y2="578.0" stroke="#4caf50" stroke-width="2"/>
<line x1="444.8" y1="578.0" x2="451.8" y2="576.4" stroke="#4caf50" stroke-width="2"/>
<line x1="451.8" y1="576.4" x2="458.8" y2="584.3" stroke="#4caf50" stroke-width="2"/>
<line x1="458.8" y1="584.3" x2="465.8" y2="593.2" stroke="#4caf50" stroke-width="2"/>
<line x1="465.8" y1="593.2" x2="472.8" y2="590.2" stroke="#4caf50" stroke-width="2"/>
<line x1="472.8" y1="590.2" x2="479.8" y2="591.0" stroke="#4caf50" stroke-width="2"/>
<line x1="479.8" y1="591.0" x2="486.7" y2="584.4" stroke="#4caf50" stroke-width="2"/>
<line x1="486.7" y1="584.4" x2="493.7" y2="584.4" stroke="#4caf50" stroke-width="2"/>
<line x1="493.7" y1="584.4" x2="500.7" y2="597.2" stroke="#4caf50" stroke-width="2"/>
<line x1="500.7" y1="597.2" x2="507.7" y2="586.0" stroke="#4caf50" stroke-width="2"/>
<line x1="507.7" y1="586.0" x2="514.7" y2="571.9" stroke="#f23645" stroke-width="2"/>
<line x1="514.7" y1="571.9" x2="521.7" y2="569.2" stroke="#f23645" stroke-width="2"/>
<line x1="521.7" y1="569.2" x2="528.7" y2="580.8" stroke="#f23645" stroke-width="2"/>
<line x1="528.7" y1="580.8" x2="535.6" y2="570.0" stroke="#f23645" stroke-width="2"/>
<line x1="535.6" y1="570.0" x2="542.6" y2="572.0" stroke="#f23645" stroke-width="2"/>
<line x1="542.6" y1="572.0" x2="549.6" y2="559.4" stroke="#f23645" stroke-width="2"/>
<line x1="549.6" y1="559.4" x2="556.6" y2="541.7" stroke="#f23645" stroke-width="2"/>
<line x1="556.6" y1="541.7" x2="563.6" y2="537.4" stroke="#f23645" stroke-width="2"/>
<line x1="563.6" y1="537.4" x2="570.6" y2="533.2" stroke="#f23645" stroke-width="2"/>
<line x1="570.6" y1="533.2" x2="577.6" y2="533.1" stroke="#f23645" stroke-width="2"/>
<line x1="577.6" y1="533.1" x2="584.6" y2="532.1" stroke="#f23645" stroke-width="2"/>
<line x1="584.6" y1="532.1" x2="591.5" y2="543.1" stroke="#f23645" stroke-width="2"/>
<line x1="591.5" y1="543.1" x2="598.5" y2="572.4" stroke="#4caf50" stroke-width="2"/>
<line x1="598.5" y1="572.4" x2="605.5" y2="598.4" stroke="#4caf50" stroke-width="2"/>
<line x1="605.5" y1="598.4" x2="612.5" y2="615.1" stroke="#4caf50" stroke-width="2"/>
<line x1="612.5" y1="615.1" x2="619.5" y2="630.3" stroke="#4caf50" stroke-width="2"/>
<line x1="619.5" y1="630.3" x2="626.5" y2="635.6" stroke="#4caf50" stroke-width="2"/>
<line x1="626.5" y1="635.6" x2="633.5" y2="637.8" stroke="#4caf50" stroke-width="2"/>
<line x1="633.5" y1="637.8" x2="640.4" y2="646.4" stroke="#4caf50" stroke-width="2"/>
<line x1="640.4" y1="646.4" x2="647.4" y2="640.3" stroke="#4caf50" stroke-width="2"/>
<line x1="647.4" y1="640.3" x2="654.4" y2="612.9" stroke="#4caf50" stroke-width="2"/>
<line x1="654.4" y1="612.9" x2="661.4" y2="586.9" stroke="#4caf50" stroke-width="2"/>
<line x1="661.4" y1="586.9" x2="668.4" y2="571.9" stroke="#f23645" stroke-width="2"/>
<line x1="668.4" y1="571.9" x2="675.4" y2="564.7" stroke="#f23645" stroke-width="2"/>
<line x1="675.4" y1="564.7" x2="682.4" y2="577.8" stroke="#f23645" stroke-width="2"/>
<line x1="682.4" y1="577.8" x2="689.3" y2="578.3" stroke="#f23645" stroke-width="2"/>
<line x1="689.3" y1="578.3" x2="696.3" y2="579.8" stroke="#f23645" stroke-width="2"/>
<line x1="696.3" y1="579.8" x2="703.3" y2="566.0" stroke="#f23645" stroke-width="2"/>
<line x1="703.3" y1="566.0" x2="710.3" y2="561.2" stroke="#f23645" stroke-width="2"/>
<line x1="710.3" y1="561.2" x2="717.3" y2="564.1" stroke="#f23645" stroke-width="2"/>
<line x1="717.3" y1="564.1" x2="724.3" y2="570.3" stroke="#f23645" stroke-width="2"/>
<line x1="724.3" y1="570.3" x2="731.3" y2="573.4" stroke="#f23645" stroke-width="2"/>
<line x1="731.3" y1="573.4" x2="738.2" y2="560.0" stroke="#f23645" stroke-width="2"/>
<line x1="738.2" y1="560.0" x2="745.2" y2="575.1" stroke="#f23645" stroke-width="2"/>
<line x1="745.2" y1="575.1" x2="752.2" y2="561.6" stroke="#f23645" stroke-width="2"/>
<line x1="752.2" y1="561.6" x2="759.2" y2="570.1" stroke="#f23645" stroke-width="2"/>
<line x1="759.2" y1="570.1" x2="766.2" y2="571.5" stroke="#f23645" stroke-width="2"/>
<line x1="766.2" y1="571.5" x2="773.2" y2="572.1" stroke="#f23645" stroke-width="2"/>
<line x1="773.2" y1="572.1" x2="780.2" y2="581.1" stroke="#4caf50" stroke-width="2"/>
<line x1="780.2" y1="581.1" x2="787.1" y2="603.4" stroke="#4caf50" stroke-width="2"/>
<line x1="787.1" y1="603.4" x2="794.1" y2="631.8" stroke="#4caf50" stroke-width="2"/>
<line x1="794.1" y1="631.8" x2="801.1" y2="628.1" stroke="#4caf50" stroke-width="2"/>
<line x1="801.1" y1="628.1" x2="808.1" y2="636.3" stroke="#4caf50" stroke-width="2"/>
<line x1="808.1" y1="636.3" x2="815.1" y2="624.0" stroke="#4caf50" stroke-width="2"/>
<line x1="815.1" y1="624.0" x2="822.1" y2="616.4" stroke="#4caf50" stroke-width="2"/>
<line x1="822.1" y1="616.4" x2="829.1" y2="608.5" stroke="#4caf50" stroke-width="2"/>
<line x1="829.1" y1="608.5" x2="836.0" y2="598.6" stroke="#4caf50" stroke-width="2"/>
<line x1="836.0" y1="598.6" x2="843.0" y2="589.1" stroke="#4caf50" stroke-width="2"/>
<line x1="843.0" y1="589.1" x2="850.0" y2="563.4" stroke="#f23645" stroke-width="2"/>
<line x1="850.0" y1="563.4" x2="857.0" y2="553.5" stroke="#f23645" stroke-width="2"/>
<line x1="857.0" y1="553.5" x2="864.0" y2="551.2" stroke="#f23645" stroke-width="2"/>
<line x1="864.0" y1="551.2" x2="871.0" y2="549.5" stroke="#f23645" stroke-width="2"/>
<line x1="871.0" y1="549.5" x2="878.0" y2="543.9" stroke="#f23645" stroke-width="2"/>
<line x1="878.0" y1="543.9" x2="885.0" y2="553.9" stroke="#f23645" stroke-width="2"/>
<line x1="885.0" y1="553.9" x2="891.9" y2="574.8" stroke="#f23645" stroke-width="2"/>
<line x1="891.9" y1="574.8" x2="898.9" y2="576.9" stroke="#f23645" stroke-width="2"/>
<line x1="898.9" y1="576.9" x2="905.9" y2="585.7" stroke="#f23645" stroke-width="2"/>
<line x1="905.9" y1="585.7" x2="912.9" y2="590.8" stroke="#4caf50" stroke-width="2"/>
<line x1="912.9" y1="590.8" x2="919.9" y2="599.0" stroke="#4caf50" stroke-width="2"/>
<line x1="919.9" y1="599.0" x2="926.9" y2="593.0" stroke="#4caf50" stroke-width="2"/>
<line x1="926.9" y1="593.0" x2="933.9" y2="616.4" stroke="#4caf50" stroke-width="2"/>
<line x1="933.9" y1="616.4" x2="940.8" y2="554.9" stroke="#f23645" stroke-width="2"/>
<line x1="940.8" y1="554.9" x2="947.8" y2="542.6" stroke="#f23645" stroke-width="2"/>
<line x1="947.8" y1="542.6" x2="954.8" y2="533.7" stroke="#f23645" stroke-width="2"/>
<line x1="954.8" y1="533.7" x2="961.8" y2="534.3" stroke="#f23645" stroke-width="2"/>
<line x1="961.8" y1="534.3" x2="968.8" y2="536.5" stroke="#f23645" stroke-width="2"/>
<line x1="968.8" y1="536.5" x2="975.8" y2="535.6" stroke="#f23645" stroke-width="2"/>
<line x1="975.8" y1="535.6" x2="982.8" y2="530.7" stroke="#f23645" stroke-width="2"/>
<line x1="982.8" y1="530.7" x2="989.7" y2="533.4" stroke="#f23645" stroke-width="2"/>
<line x1="989.7" y1="533.4" x2="996.7" y2="552.1" stroke="#f23645" stroke-width="2"/>
<line x1="996.7" y1="552.1" x2="1003.7" y2="561.2" stroke="#f23645" stroke-width="2"/>
<line x1="1003.7" y1="561.2" x2="1010.7" y2="561.5" stroke="#f23645" stroke-width="2"/>
<line x1="1010.7" y1="561.5" x2="1017.7" y2="550.0" stroke="#f23645" stroke-width="2"/>
<line x1="1017.7" y1="550.0" x2="1024.7" y2="548.8" stroke="#f23645" stroke-width="2"/>
<line x1="1024.7" y1="548.8" x2="1031.7" y2="544.4" stroke="#f23645" stroke-width="2"/>
<line x1="1031.7" y1="544.4" x2="1038.6" y2="548.7" stroke="#f23645" stroke-width="2"/>
<line x1="1038.6" y1="548.7" x2="1045.6" y2="544.8" stroke="#f23645" stroke-width="2"/>
<line x1="1045.6" y1="544.8" x2="1052.6" y2="543.3" stroke="#f23645" stroke-width="2"/>
<line x1="1052.6" y1="543.3" x2="1059.6" y2="541.6" stroke="#f23645" stroke-width="2"/>
<line x1="1059.6" y1="541.6" x2="1066.6" y2="547.2" stroke="#f23645" stroke-width="2"/>
<line x1="1066.6" y1="547.2" x2="1073.6" y2="556.3" stroke="#4caf50" stroke-width="2"/>
<line x1="1073.6" y1="556.3" x2="1080.6" y2="549.8" stroke="#4caf50" stroke-width="2"/>
<line x1="1080.6" y1="549.8" x2="1087.5" y2="549.9" stroke="#4caf50" stroke-width="2"/>
<line x1="1087.5" y1="549.9" x2="1094.5" y2="535.0" stroke="#f23645" stroke-width="2"/>
<line x1="1094.5" y1="535.0" x2="1101.5" y2="527.7" stroke="#f23645" stroke-width="2"/>
<line x1="1101.5" y1="527.7" x2="1108.5" y2="525.9" stroke="#f23645" stroke-width="2"/>
<line x1="1108.5" y1="525.9" x2="1115.5" y2="526.0" stroke="#f23645" stroke-width="2"/>
<line x1="1115.5" y1="526.0" x2="1122.5" y2="524.1" stroke="#f23645" stroke-width="2"/>
<line x1="1122.5" y1="524.1" x2="1129.5" y2="528.0" stroke="#f23645" stroke-width="2"/>
</g>
<g>
<polygon points="11.70,730.5 11.70,697.9 18.69,703.4 18.69,730.5" fill="#e56f65" fill-opacity="0.2"/>
<polygon points="18.69,730.5 18.69,703.4 25.67,701.9 25.67,730.5" fill="#e46a5e" fill-opacity="0.2"/>
<polygon points="25.67,730.5 25.67,701.9 32.66,694.5 32.66,730.5" fill="#e34c3e" fill-opacity="0.2"/>
<polygon points="32.66,730.5 32.66,694.5 39.64,695.5 39.64,730.5" fill="#e35042" fill-opacity="0.2"/>
<polygon points="39.64,730.5 39.64,695.5 46.63,698.8 46.63,730.5" fill="#e45d51" fill-opacity="0.2"/>
<polygon points="46.63,730.5 46.63,698.8 53.62,701.9 53.62,730.5" fill="#e46a5e" fill-opacity="0.2"/>
<polygon points="53.62,730.5 53.62,701.9 60.60,703.1 60.60,730.5" fill="#e56e63" fill-opacity="0.2"/>
<polygon points="60.60,730.5 60.60,703.1 67.59,710.5 67.59,730.5" fill="#e68c84" fill-opacity="0.2"/>
<polygon points="67.59,730.5 67.59,710.5 74.57,706.9 74.57,730.5" fill="#e57e74" fill-opacity="0.2"/>
<polygon points="74.57,730.5 74.57,706.9 81.56,710.5 81.56,730.5" fill="#e68c84" fill-opacity="0.2"/>
<polygon points="81.56,730.5 81.56,710.5 88.55,716.9 88.55,730.5" fill="#e6a9a3" fill-opacity="0.2"/>
<polygon points="88.55,730.5 88.55,716.9 95.53,710.2 95.53,730.5" fill="#e68b83" fill-opacity="0.2"/>
<polygon points="95.53,730.5 95.53,710.2 102.52,713.6 102.52,730.5" fill="#e69a93" fill-opacity="0.2"/>
<polygon points="102.52,730.5 102.52,713.6 109.50,758.9 109.50,730.5" fill="#8fe080" fill-opacity="0.2"/>
<polygon points="109.50,730.5 109.50,739.0 116.49,740.4 116.49,730.5" fill="#cae5c5" fill-opacity="0.2"/>
<polygon points="116.49,730.5 116.49,740.4 123.48,739.0 123.48,730.5" fill="#cee5c8" fill-opacity="0.2"/>
<polygon points="123.48,730.5 123.48,739.0 130.46,735.4 130.46,730.5" fill="#d6e3d2" fill-opacity="0.2"/>
<polygon points="130.46,730.5 130.46,735.4 137.45,731.8 137.45,730.5" fill="#dfe2db" fill-opacity="0.2"/>
<polygon points="137.45,730.5 137.45,731.8 144.43,736.1 144.43,730.5" fill="#d5e4d0" fill-opacity="0.2"/>
<polygon points="144.43,730.5 144.43,736.1 151.42,763.2 151.42,730.5" fill="#80de6f" fill-opacity="0.2"/>
<polygon points="151.42,730.5 151.42,763.2 158.41,764.6 158.41,730.5" fill="#7cde6a" fill-opacity="0.2"/>
<polygon points="158.41,730.5 158.41,764.6 165.39,744.7 165.39,730.5" fill="#bfe6b9" fill-opacity="0.2"/>
<polygon points="165.39,730.5 165.39,744.7 172.38,741.1 172.38,730.5" fill="#c9e5c3" fill-opacity="0.2"/>
<polygon points="172.38,730.5 172.38,741.1 179.36,744.7 179.36,730.5" fill="#bfe6b9" fill-opacity="0.2"/>
<polygon points="179.36,730.5 179.36,744.7 186.35,748.9 186.35,730.5" fill="#b1e4a8" fill-opacity="0.2"/>
<polygon points="186.35,730.5 186.35,748.9 193.34,755.3 193.34,730.5" fill="#9be18e" fill-opacity="0.2"/>
<polygon points="193.34,730.5 193.34,755.3 200.32,761.0 200.32,730.5" fill="#88df77" fill-opacity="0.2"/>
<polygon points="200.32,730.5 200.32,761.0 207.31,735.4 207.31,730.5" fill="#d6e3d2" fill-opacity="0.2"/>
<polygon points="207.31,730.5 207.31,735.4 214.29,740.4 214.29,730.5" fill="#cae5c5" fill-opacity="0.2"/>
<polygon points="214.29,730.5 214.29,740.4 221.28,730.4 221.28,730.5" fill="#e2e2de" fill-opacity="0.2"/>
<polygon points="221.28,730.5 221.28,730.4 228.27,724.7 228.27,730.5" fill="#e5cbc7" fill-opacity="0.2"/>
<polygon points="228.27,730.5 228.27,724.7 235.25,716.9 235.25,730.5" fill="#e6a9a3" fill-opacity="0.2"/>
<polygon points="235.25,730.5 235.25,716.9 242.24,718.3 242.24,730.5" fill="#e6afaa" fill-opacity="0.2"/>
<polygon points="242.24,730.5 242.24,718.3 249.22,715.5 249.22,730.5" fill="#e6a29c" fill-opacity="0.2"/>
<polygon points="249.22,730.5 249.22,715.5 256.21,724.7 256.21,730.5" fill="#e5cbc7" fill-opacity="0.2"/>
<polygon points="256.21,730.5 256.21,724.7 263.20,726.1 263.20,730.5" fill="#e4d1cd" fill-opacity="0.2"/>
<polygon points="263.20,730.5 263.20,726.1 270.18,717.6 270.18,730.5" fill="#e6aca6" fill-opacity="0.2"/>
<polygon points="270.18,730.5 270.18,717.6 277.17,711.2 277.17,730.5" fill="#e68f87" fill-opacity="0.2"/>
<polygon points="277.17,730.5 277.17,711.2 284.15,709.1 284.15,730.5" fill="#e6867e" fill-opacity="0.2"/>
<polygon points="284.15,730.5 284.15,709.1 291.14,711.9 291.14,730.5" fill="#e6928b" fill-opacity="0.2"/>
<polygon points="291.14,730.5 291.14,711.9 298.13,708.3 298.13,730.5" fill="#e6837b" fill-opacity="0.2"/>
<polygon points="298.13,730.5 298.13,708.3 305.11,706.2 305.11,730.5" fill="#e57b71" fill-opacity="0.2"/>
<polygon points="305.11,730.5 305.11,706.2 312.10,706.9 312.10,730.5" fill="#e57e74" fill-opacity="0.2"/>
<polygon points="312.10,730.5 312.10,706.9 319.08,698.8 319.08,730.5" fill="#e45d51" fill-opacity="0.2"/>
<polygon points="319.08,730.5 319.08,698.8 326.07,698.8 326.07,730.5" fill="#e45d51" fill-opacity="0.2"/>
<polygon points="326.07,730.5 326.07,698.8 333.06,704.8 333.06,730.5" fill="#e5756b" fill-opacity="0.2"/>
<polygon points="333.06,730.5 333.06,704.8 340.04,713.3 340.04,730.5" fill="#e69992" fill-opacity="0.2"/>
<polygon points="340.04,730.5 340.04,713.3 347.03,726.1 347.03,730.5" fill="#e4d1cd" fill-opacity="0.2"/>
<polygon points="347.03,730.5 347.03,726.1 354.01,751.1 354.01,730.5" fill="#a9e39f" fill-opacity="0.2"/>
<polygon points="354.01,730.5 354.01,751.1 361.00,762.4 361.00,730.5" fill="#83df72" fill-opacity="0.2"/>
<polygon points="361.00,730.5 361.00,762.4 367.99,767.4 367.99,730.5" fill="#74dd61" fill-opacity="0.2"/>
<polygon points="367.99,730.5 367.99,767.4 374.97,776.7 374.97,730.5" fill="#5bd945" fill-opacity="0.2"/>
<polygon points="374.97,730.5 374.97,776.7 381.96,781.7 381.96,730.5" fill="#4ed735" fill-opacity="0.2"/>
<polygon points="381.96,730.5 381.96,781.7 388.94,785.9 388.94,730.5" fill="#42d628" fill-opacity="0.2"/>
<polygon points="388.94,730.5 388.94,785.9 395.93,783.1 395.93,730.5" fill="#4ad731" fill-opacity="0.2"/>
<polygon points="395.93,730.5 395.93,783.1 402.92,766.7 402.92,730.5" fill="#76dd63" fill-opacity="0.2"/>
<polygon points="402.92,730.5 402.92,766.7 409.90,766.0 409.90,730.5" fill="#78dd65" fill-opacity="0.2"/>
<polygon points="409.90,730.5 409.90,766.0 416.89,756.0 416.89,730.5" fill="#99e18b" fill-opacity="0.2"/>
<polygon points="416.89,730.5 416.89,756.0 423.87,755.3 423.87,730.5" fill="#9be18e" fill-opacity="0.2"/>
<polygon points="423.87,730.5 423.87,755.3 430.86,756.0 430.86,730.5" fill="#99e18b" fill-opacity="0.2"/>
<polygon points="430.86,730.5 430.86,756.0 437.85,750.3 437.85,730.5" fill="#ace3a2" fill-opacity="0.2"/>
<polygon points="437.85,730.5 437.85,750.3 444.83,739.0 444.83,730.5" fill="#cee5c8" fill-opacity="0.2"/>
<polygon points="444.83,730.5 444.83,739.0 451.82,731.1 451.82,730.5" fill="#e1e2dc" fill-opacity="0.2"/>
<polygon points="451.82,730.5 451.82,731.1 458.80,752.5 458.80,730.5" fill="#a5e399" fill-opacity="0.2"/>
<polygon points="458.80,730.5 458.80,752.5 465.79,756.8 465.79,730.5" fill="#96e188" fill-opacity="0.2"/>
<polygon points="465.79,730.5 465.79,756.8 472.78,762.4 472.78,730.5" fill="#83df72" fill-opacity="0.2"/>
<polygon points="472.78,730.5 472.78,762.4 479.76,756.0 479.76,730.5" fill="#99e18b" fill-opacity="0.2"/>
<polygon points="479.76,730.5 479.76,756.0 486.75,758.9 486.75,730.5" fill="#8fe080" fill-opacity="0.2"/>
<polygon points="486.75,730.5 486.75,758.9 493.73,753.9 493.73,730.5" fill="#a0e294" fill-opacity="0.2"/>
<polygon points="493.73,730.5 493.73,753.9 500.72,763.2 500.72,730.5" fill="#80de6f" fill-opacity="0.2"/>
<polygon points="500.72,730.5 500.72,763.2 507.71,758.9 507.71,730.5" fill="#8fe080" fill-opacity="0.2"/>
<polygon points="507.71,730.5 507.71,758.9 514.69,734.0 514.69,730.5" fill="#dae3d5" fill-opacity="0.2"/>
<polygon points="514.69,730.5 514.69,734.0 521.68,741.8 521.68,730.5" fill="#c7e5c1" fill-opacity="0.2"/>
<polygon points="521.68,730.5 521.68,741.8 528.66,730.7 528.66,730.5" fill="#e2e2dd" fill-opacity="0.2"/>
<polygon points="528.66,730.5 528.66,730.7 535.65,725.4 535.65,730.5" fill="#e5ceca" fill-opacity="0.2"/>
<polygon points="535.65,730.5 535.65,725.4 542.64,729.0 542.64,730.5" fill="#e3dcd8" fill-opacity="0.2"/>
<polygon points="542.64,730.5 542.64,729.0 549.62,721.2 549.62,730.5" fill="#e6bcb8" fill-opacity="0.2"/>
<polygon points="549.62,730.5 549.62,721.2 556.61,722.6 556.61,730.5" fill="#e6c2be" fill-opacity="0.2"/>
<polygon points="556.61,730.5 556.61,722.6 563.59,719.7 563.59,730.5" fill="#e6b6b1" fill-opacity="0.2"/>
<polygon points="563.59,730.5 563.59,719.7 570.58,716.2 570.58,730.5" fill="#e6a69f" fill-opacity="0.2"/>
<polygon points="570.58,730.5 570.58,716.2 577.57,711.2 577.57,730.5" fill="#e68f87" fill-opacity="0.2"/>
<polygon points="577.57,730.5 577.57,711.2 584.55,706.9 584.55,730.5" fill="#e57e74" fill-opacity="0.2"/>
<polygon points="584.55,730.5 584.55,706.9 591.54,702.6 591.54,730.5" fill="#e46d62" fill-opacity="0.2"/>
<polygon points="591.54,730.5 591.54,702.6 598.52,714.0 598.52,730.5" fill="#e69c95" fill-opacity="0.2"/>
<polygon points="598.52,730.5 598.52,714.0 605.51,721.9 605.51,730.5" fill="#e6bfbb" fill-opacity="0.2"/>
<polygon points="605.51,730.5 605.51,721.9 612.50,719.7 612.50,730.5" fill="#e6b6b1" fill-opacity="0.2"/>
<polygon points="612.50,730.5 612.50,719.7 619.48,731.1 619.48,730.5" fill="#e1e2dc" fill-opacity="0.2"/>
<polygon points="619.48,730.5 619.48,731.1 626.47,753.2 626.47,730.5" fill="#a2e297" fill-opacity="0.2"/>
<polygon points="626.47,730.5 626.47,753.2 633.45,771.7 633.45,730.5" fill="#69db54" fill-opacity="0.2"/>
<polygon points="633.45,730.5 633.45,771.7 640.44,771.0 640.44,730.5" fill="#6bdb56" fill-opacity="0.2"/>
<polygon points="640.44,730.5 640.44,771.0 647.43,775.3 647.43,730.5" fill="#5fda49" fill-opacity="0.2"/>
<polygon points="647.43,730.5 647.43,775.3 654.41,761.7 654.41,730.5" fill="#85df74" fill-opacity="0.2"/>
<polygon points="654.41,730.5 654.41,761.7 661.40,743.2 661.40,730.5" fill="#c3e6be" fill-opacity="0.2"/>
<polygon points="661.40,730.5 661.40,743.2 668.38,724.7 668.38,730.5" fill="#e5cbc7" fill-opacity="0.2"/>
<polygon points="668.38,730.5 668.38,724.7 675.37,719.7 675.37,730.5" fill="#e6b6b1" fill-opacity="0.2"/>
<polygon points="675.37,730.5 675.37,719.7 682.36,720.4 682.36,730.5" fill="#e6b9b4" fill-opacity="0.2"/>
<polygon points="682.36,730.5 682.36,720.4 689.34,724.7 689.34,730.5" fill="#e5cbc7" fill-opacity="0.2"/>
<polygon points="689.34,730.5 689.34,724.7 696.33,728.3 696.33,730.5" fill="#e3d9d5" fill-opacity="0.2"/>
<polygon points="696.33,730.5 696.33,728.3 703.31,721.9 703.31,730.5" fill="#e6bfbb" fill-opacity="0.2"/>
<polygon points="703.31,730.5 703.31,721.9 710.30,723.3 710.30,730.5" fill="#e6c5c1" fill-opacity="0.2"/>
<polygon points="710.30,730.5 710.30,723.3 717.29,711.2 717.29,730.5" fill="#e68f87" fill-opacity="0.2"/>
<polygon points="717.29,730.5 717.29,711.2 724.27,708.3 724.27,730.5" fill="#e6837b" fill-opacity="0.2"/>
<polygon points="724.27,730.5 724.27,708.3 731.26,706.9 731.26,730.5" fill="#e57e74" fill-opacity="0.2"/>
<polygon points="731.26,730.5 731.26,706.9 738.24,706.9 738.24,730.5" fill="#e57e74" fill-opacity="0.2"/>
<polygon points="738.24,730.5 738.24,706.9 745.23,706.2 745.23,730.5" fill="#e57b71" fill-opacity="0.2"/>
<polygon points="745.23,730.5 745.23,706.2 752.22,710.5 752.22,730.5" fill="#e68c84" fill-opacity="0.2"/>
<polygon points="752.22,730.5 752.22,710.5 759.20,705.5 759.20,730.5" fill="#e5786e" fill-opacity="0.2"/>
<polygon points="759.20,730.5 759.20,705.5 766.19,703.4 766.19,730.5" fill="#e56f65" fill-opacity="0.2"/>
<polygon points="766.19,730.5 766.19,703.4 773.17,719.0 773.17,730.5" fill="#e6b2ad" fill-opacity="0.2"/>
<polygon points="773.17,730.5 773.17,719.0 780.16,740.4 780.16,730.5" fill="#cae5c5" fill-opacity="0.2"/>
<polygon points="780.16,730.5 780.16,740.4 787.15,768.9 787.15,730.5" fill="#70dc5d" fill-opacity="0.2"/>
<polygon points="787.15,730.5 787.15,768.9 794.13,767.4 794.13,730.5" fill="#74dd61" fill-opacity="0.2"/>
<polygon points="794.13,730.5 794.13,767.4 801.12,769.6 801.12,730.5" fill="#6fdc5a" fill-opacity="0.2"/>
<polygon points="801.12,730.5 801.12,769.6 808.10,763.2 808.10,730.5" fill="#80de6f" fill-opacity="0.2"/>
<polygon points="808.10,730.5 808.10,763.2 815.09,756.0 815.09,730.5" fill="#99e18b" fill-opacity="0.2"/>
<polygon points="815.09,730.5 815.09,756.0 822.08,747.5 822.08,730.5" fill="#b6e5ad" fill-opacity="0.2"/>
<polygon points="822.08,730.5 822.08,747.5 829.06,739.0 829.06,730.5" fill="#cee5c8" fill-opacity="0.2"/>
<polygon points="829.06,730.5 829.06,739.0 836.05,719.7 836.05,730.5" fill="#e6b6b1" fill-opacity="0.2"/>
<polygon points="836.05,730.5 836.05,719.7 843.03,712.6 843.03,730.5" fill="#e6968e" fill-opacity="0.2"/>
<polygon points="843.03,730.5 843.03,712.6 850.02,714.7 850.02,730.5" fill="#e69f99" fill-opacity="0.2"/>
<polygon points="850.02,730.5 850.02,714.7 857.01,714.0 857.01,730.5" fill="#e69c95" fill-opacity="0.2"/>
<polygon points="857.01,730.5 857.01,714.0 863.99,712.6 863.99,730.5" fill="#e6968e" fill-opacity="0.2"/>
<polygon points="863.99,730.5 863.99,712.6 870.98,711.9 870.98,730.5" fill="#e6928b" fill-opacity="0.2"/>
<polygon points="870.98,730.5 870.98,711.9 877.96,708.8 877.96,730.5" fill="#e6857c" fill-opacity="0.2"/>
<polygon points="877.96,730.5 877.96,708.8 884.95,702.6 884.95,730.5" fill="#e46d62" fill-opacity="0.2"/>
<polygon points="884.95,730.5 884.95,702.6 891.94,695.5 891.94,730.5" fill="#e35042" fill-opacity="0.2"/>
<polygon points="891.94,730.5 891.94,695.5 898.92,696.2 898.92,730.5" fill="#e35345" fill-opacity="0.2"/>
<polygon points="898.92,730.5 898.92,696.2 905.91,690.5 905.91,730.5" fill="#e23c2c" fill-opacity="0.2"/>
<polygon points="905.91,730.5 905.91,690.5 912.89,691.3 912.89,730.5" fill="#e23f2f" fill-opacity="0.2"/>
<polygon points="912.89,730.5 912.89,691.3 919.88,700.5 919.88,730.5" fill="#e46458" fill-opacity="0.2"/>
<polygon points="919.88,730.5 919.88,700.5 926.87,710.5 926.87,730.5" fill="#e68c84" fill-opacity="0.2"/>
<polygon points="926.87,730.5 926.87,710.5 933.85,716.2 933.85,730.5" fill="#e6a69f" fill-opacity="0.2"/>
<polygon points="933.85,730.5 933.85,716.2 940.84,716.9 940.84,730.5" fill="#e6a9a3" fill-opacity="0.2"/>
<polygon points="940.84,730.5 940.84,716.9 947.82,714.7 947.82,730.5" fill="#e69f99" fill-opacity="0.2"/>
<polygon points="947.82,730.5 947.82,714.7 954.81,709.1 954.81,730.5" fill="#e6867e" fill-opacity="0.2"/>
<polygon points="954.81,730.5 954.81,709.1 961.80,704.8 961.80,730.5" fill="#e5756b" fill-opacity="0.2"/>
<polygon points="961.80,730.5 961.80,704.8 968.78,703.4 968.78,730.5" fill="#e56f65" fill-opacity="0.2"/>
<polygon points="968.78,730.5 968.78,703.4 975.77,697.0 975.77,730.5" fill="#e35648" fill-opacity="0.2"/>
<polygon points="975.77,730.5 975.77,697.0 982.75,694.1 982.75,730.5" fill="#e34a3c" fill-opacity="0.2"/>
<polygon points="982.75,730.5 982.75,694.1 989.74,696.2 989.74,730.5" fill="#e35345" fill-opacity="0.2"/>
<polygon points="989.74,730.5 989.74,696.2 996.73,699.1 996.73,730.5" fill="#e45e52" fill-opacity="0.2"/>
<polygon points="996.73,730.5 996.73,699.1 1003.71,693.4 1003.71,730.5" fill="#e34839" fill-opacity="0.2"/>
<polygon points="1003.71,730.5 1003.71,693.4 1010.70,682.7 1010.70,730.5" fill="#e22c1b" fill-opacity="0.2"/>
<polygon points="1010.70,730.5 1010.70,682.7 1017.68,684.8 1017.68,730.5" fill="#e2301f" fill-opacity="0.2"/>
<polygon points="1017.68,730.5 1017.68,684.8 1024.67,689.1 1024.67,730.5" fill="#e23929" fill-opacity="0.2"/>
<polygon points="1024.67,730.5 1024.67,689.1 1031.66,691.3 1031.66,730.5" fill="#e23f2f" fill-opacity="0.2"/>
<polygon points="1031.66,730.5 1031.66,691.3 1038.64,686.3 1038.64,730.5" fill="#e23323" fill-opacity="0.2"/>
<polygon points="1038.64,730.5 1038.64,686.3 1045.63,689.4 1045.63,730.5" fill="#e23a2a" fill-opacity="0.2"/>
<polygon points="1045.63,730.5 1045.63,689.4 1052.61,683.3 1052.61,730.5" fill="#e22d1c" fill-opacity="0.2"/>
<polygon points="1052.61,730.5 1052.61,683.3 1059.60,680.6 1059.60,730.5" fill="#e22716" fill-opacity="0.2"/>
<polygon points="1059.60,730.5 1059.60,680.6 1066.59,689.1 1066.59,730.5" fill="#e23929" fill-opacity="0.2"/>
<polygon points="1066.59,730.5 1066.59,689.1 1073.57,704.8 1073.57,730.5" fill="#e5756b" fill-opacity="0.2"/>
<polygon points="1073.57,730.5 1073.57,704.8 1080.56,705.5 1080.56,730.5" fill="#e5786e" fill-opacity="0.2"/>
<polygon points="1080.56,730.5 1080.56,705.5 1087.54,704.1 1087.54,730.5" fill="#e57268" fill-opacity="0.2"/>
<polygon points="1087.54,730.5 1087.54,704.1 1094.53,706.9 1094.53,730.5" fill="#e57e74" fill-opacity="0.2"/>
<polygon points="1094.53,730.5 1094.53,706.9 1101.52,704.8 1101.52,730.5" fill="#e5756b" fill-opacity="0.2"/>
<polygon points="1101.52,730.5 1101.52,704.8 1108.50,699.8 1108.50,730.5" fill="#e46155" fill-opacity="0.2"/>
<polygon points="1108.50,730.5 1108.50,699.8 1115.49,698.4 1115.49,730.5" fill="#e45c4f" fill-opacity="0.2"/>
<polygon points="1115.49,730.5 1115.49,698.4 1122.47,697.7 1122.47,730.5" fill="#e3594c" fill-opacity="0.2"/>
<polygon points="1122.47,730.5 1122.47,697.7 1129.46,692.7 1129.46,730.5" fill="#e24536" fill-opacity="0.2"/>
<polygon points="11.70,730.5 11.70,705.5 18.69,707.6 18.69,730.5" fill="#e58177" fill-opacity="0.2"/>
<polygon points="18.69,730.5 18.69,707.6 25.67,705.5 25.67,730.5" fill="#e5786e" fill-opacity="0.2"/>
<polygon points="25.67,730.5 25.67,705.5 32.66,707.3 32.66,730.5" fill="#e57f76" fill-opacity="0.2"/>
<polygon points="32.66,730.5 32.66,707.3 39.64,705.5 39.64,730.5" fill="#e5786e" fill-opacity="0.2"/>
<polygon points="39.64,730.5 39.64,705.5 46.63,703.4 46.63,730.5" fill="#e56f65" fill-opacity="0.2"/>
<polygon points="46.63,730.5 46.63,703.4 53.62,708.3 53.62,730.5" fill="#e6837b" fill-opacity="0.2"/>
<polygon points="53.62,730.5 53.62,708.3 60.60,723.3 60.60,730.5" fill="#e6c5c1" fill-opacity="0.2"/>
<polygon points="60.60,730.5 60.60,723.3 67.59,734.7 67.59,730.5" fill="#d8e3d3" fill-opacity="0.2"/>
<polygon points="67.59,730.5 67.59,734.7 74.57,729.0 74.57,730.5" fill="#e3dcd8" fill-opacity="0.2"/>
<polygon points="74.57,730.5 74.57,729.0 81.56,729.0 81.56,730.5" fill="#e3dcd8" fill-opacity="0.2"/>
<polygon points="81.56,730.5 81.56,729.0 88.55,724.7 88.55,730.5" fill="#e5cbc7" fill-opacity="0.2"/>
<polygon points="88.55,730.5 88.55,724.7 95.53,724.0 95.53,730.5" fill="#e5c8c4" fill-opacity="0.2"/>
<polygon points="95.53,730.5 95.53,724.0 102.52,727.6 102.52,730.5" fill="#e3d6d2" fill-opacity="0.2"/>
<polygon points="102.52,730.5 102.52,727.6 109.50,739.0 109.50,730.5" fill="#cee5c8" fill-opacity="0.2"/>
<polygon points="109.50,730.5 109.50,743.2 116.49,743.2 116.49,730.5" fill="#c3e6be" fill-opacity="0.2"/>
<polygon points="116.49,730.5 116.49,743.2 123.48,739.7 123.48,730.5" fill="#cce5c7" fill-opacity="0.2"/>
<polygon points="123.48,730.5 123.48,739.7 130.46,741.8 130.46,730.5" fill="#c7e5c1" fill-opacity="0.2"/>
<polygon points="130.46,730.5 130.46,741.8 137.45,748.9 137.45,730.5" fill="#b1e4a8" fill-opacity="0.2"/>
<polygon points="137.45,730.5 137.45,748.9 144.43,757.5 144.43,730.5" fill="#94e186" fill-opacity="0.2"/>
<polygon points="144.43,730.5 144.43,757.5 151.42,763.2 151.42,730.5" fill="#80de6f" fill-opacity="0.2"/>
<polygon points="151.42,730.5 151.42,763.2 158.41,775.3 158.41,730.5" fill="#5fda49" fill-opacity="0.2"/>
<polygon points="158.41,730.5 158.41,775.3 165.39,768.1 165.39,730.5" fill="#72dc5f" fill-opacity="0.2"/>
<polygon points="165.39,730.5 165.39,768.1 172.38,772.4 172.38,730.5" fill="#67db52" fill-opacity="0.2"/>
<polygon points="172.38,730.5 172.38,772.4 179.36,777.4 179.36,730.5" fill="#59d942" fill-opacity="0.2"/>
<polygon points="179.36,730.5 179.36,777.4 186.35,781.7 186.35,730.5" fill="#4ed735" fill-opacity="0.2"/>
<polygon points="186.35,730.5 186.35,781.7 193.34,780.2 193.34,730.5" fill="#52d83a" fill-opacity="0.2"/>
<polygon points="193.34,730.5 193.34,780.2 200.32,776.0 200.32,730.5" fill="#5dd947" fill-opacity="0.2"/>
<polygon points="200.32,730.5 200.32,776.0 207.31,766.0 207.31,730.5" fill="#78dd65" fill-opacity="0.2"/>
<polygon points="207.31,730.5 207.31,766.0 214.29,767.4 214.29,730.5" fill="#74dd61" fill-opacity="0.2"/>
<polygon points="214.29,730.5 214.29,767.4 221.28,766.0 221.28,730.5" fill="#78dd65" fill-opacity="0.2"/>
<polygon points="221.28,730.5 221.28,766.0 228.27,750.3 228.27,730.5" fill="#ace3a2" fill-opacity="0.2"/>
<polygon points="228.27,730.5 228.27,750.3 235.25,736.1 235.25,730.5" fill="#d5e4d0" fill-opacity="0.2"/>
<polygon points="235.25,730.5 235.25,736.1 242.24,731.8 242.24,730.5" fill="#dfe2db" fill-opacity="0.2"/>
<polygon points="242.24,730.5 242.24,731.8 249.22,728.3 249.22,730.5" fill="#e3d9d5" fill-opacity="0.2"/>
<polygon points="249.22,730.5 249.22,728.3 256.21,727.6 256.21,730.5" fill="#e3d6d2" fill-opacity="0.2"/>
<polygon points="256.21,730.5 256.21,727.6 263.20,729.0 263.20,730.5" fill="#e3dcd8" fill-opacity="0.2"/>
<polygon points="263.20,730.5 263.20,729.0 270.18,723.3 270.18,730.5" fill="#e6c5c1" fill-opacity="0.2"/>
<polygon points="270.18,730.5 270.18,723.3 277.17,716.2 277.17,730.5" fill="#e6a69f" fill-opacity="0.2"/>
<polygon points="277.17,730.5 277.17,716.2 284.15,717.6 284.15,730.5" fill="#e6aca6" fill-opacity="0.2"/>
<polygon points="284.15,730.5 284.15,717.6 291.14,714.0 291.14,730.5" fill="#e69c95" fill-opacity="0.2"/>
<polygon points="291.14,730.5 291.14,714.0 298.13,722.6 298.13,730.5" fill="#e6c2be" fill-opacity="0.2"/>
<polygon points="298.13,730.5 298.13,722.6 305.11,726.9 305.11,730.5" fill="#e4d3cf" fill-opacity="0.2"/>
<polygon points="305.11,730.5 305.11,726.9 312.10,714.0 312.10,730.5" fill="#e69c95" fill-opacity="0.2"/>
<polygon points="312.10,730.5 312.10,714.0 319.08,711.2 319.08,730.5" fill="#e68f87" fill-opacity="0.2"/>
<polygon points="319.08,730.5 319.08,711.2 326.07,709.8 326.07,730.5" fill="#e68981" fill-opacity="0.2"/>
<polygon points="326.07,730.5 326.07,709.8 333.06,711.2 333.06,730.5" fill="#e68f87" fill-opacity="0.2"/>
<polygon points="333.06,730.5 333.06,711.2 340.04,720.4 340.04,730.5" fill="#e6b9b4" fill-opacity="0.2"/>
<polygon points="340.04,730.5 340.04,720.4 347.03,751.8 347.03,730.5" fill="#a7e39c" fill-opacity="0.2"/>
<polygon points="347.03,730.5 347.03,751.8 354.01,766.7 354.01,730.5" fill="#76dd63" fill-opacity="0.2"/>
<polygon points="354.01,730.5 354.01,766.7 361.00,783.1 361.00,730.5" fill="#4ad731" fill-opacity="0.2"/>
<polygon points="361.00,730.5 361.00,783.1 367.99,781.7 367.99,730.5" fill="#4ed735" fill-opacity="0.2"/>
<polygon points="367.99,730.5 367.99,781.7 374.97,783.1 374.97,730.5" fill="#4ad731" fill-opacity="0.2"/>
<polygon points="374.97,730.5 374.97,783.1 381.96,783.8 381.96,730.5" fill="#48d72f" fill-opacity="0.2"/>
<polygon points="381.96,730.5 381.96,783.8 388.94,793.1 388.94,730.5" fill="#36d41a" fill-opacity="0.2"/>
<polygon points="388.94,730.5 388.94,793.1 395.93,795.9 395.93,730.5" fill="#36d41a" fill-opacity="0.2"/>
<polygon points="395.93,730.5 395.93,795.9 402.92,787.4 402.92,730.5" fill="#3fd524" fill-opacity="0.2"/>
<polygon points="402.92,730.5 402.92,787.4 409.90,781.7 409.90,730.5" fill="#4ed735" fill-opacity="0.2"/>
<polygon points="409.90,730.5 409.90,781.7 416.89,758.9 416.89,730.5" fill="#8fe080" fill-opacity="0.2"/>
<polygon points="416.89,730.5 416.89,758.9 423.87,764.6 423.87,730.5" fill="#7cde6a" fill-opacity="0.2"/>
<polygon points="423.87,730.5 423.87,764.6 430.86,767.4 430.86,730.5" fill="#74dd61" fill-opacity="0.2"/>
<polygon points="430.86,730.5 430.86,767.4 437.85,772.4 437.85,730.5" fill="#67db52" fill-opacity="0.2"/>
<polygon points="437.85,730.5 437.85,772.4 444.83,766.0 444.83,730.5" fill="#78dd65" fill-opacity="0.2"/>
<polygon points="444.83,730.5 444.83,766.0 451.82,759.6 451.82,730.5" fill="#8ce07d" fill-opacity="0.2"/>
<polygon points="451.82,730.5 451.82,759.6 458.80,768.9 458.80,730.5" fill="#70dc5d" fill-opacity="0.2"/>
<polygon points="458.80,730.5 458.80,768.9 465.79,762.4 465.79,730.5" fill="#83df72" fill-opacity="0.2"/>
<polygon points="465.79,730.5 465.79,762.4 472.78,763.2 472.78,730.5" fill="#80de6f" fill-opacity="0.2"/>
<polygon points="472.78,730.5 472.78,763.2 479.76,781.7 479.76,730.5" fill="#4ed735" fill-opacity="0.2"/>
<polygon points="479.76,730.5 479.76,781.7 486.75,778.8 486.75,730.5" fill="#56d83e" fill-opacity="0.2"/>
<polygon points="486.75,730.5 486.75,778.8 493.73,770.3 493.73,730.5" fill="#6ddc58" fill-opacity="0.2"/>
<polygon points="493.73,730.5 493.73,770.3 500.72,785.9 500.72,730.5" fill="#42d628" fill-opacity="0.2"/>
<polygon points="500.72,730.5 500.72,785.9 507.71,788.8 507.71,730.5" fill="#3bd51f" fill-opacity="0.2"/>
<polygon points="507.71,730.5 507.71,788.8 514.69,767.4 514.69,730.5" fill="#74dd61" fill-opacity="0.2"/>
<polygon points="514.69,730.5 514.69,767.4 521.68,760.3 521.68,730.5" fill="#8adf7a" fill-opacity="0.2"/>
<polygon points="521.68,730.5 521.68,760.3 528.66,768.9 528.66,730.5" fill="#70dc5d" fill-opacity="0.2"/>
<polygon points="528.66,730.5 528.66,768.9 535.65,751.8 535.65,730.5" fill="#a7e39c" fill-opacity="0.2"/>
<polygon points="535.65,730.5 535.65,751.8 542.64,751.1 542.64,730.5" fill="#a9e39f" fill-opacity="0.2"/>
<polygon points="542.64,730.5 542.64,751.1 549.62,729.0 549.62,730.5" fill="#e3dcd8" fill-opacity="0.2"/>
<polygon points="549.62,730.5 549.62,729.0 556.61,724.7 556.61,730.5" fill="#e5cbc7" fill-opacity="0.2"/>
<polygon points="556.61,730.5 556.61,724.7 563.59,721.9 563.59,730.5" fill="#e6bfbb" fill-opacity="0.2"/>
<polygon points="563.59,730.5 563.59,721.9 570.58,717.6 570.58,730.5" fill="#e6aca6" fill-opacity="0.2"/>
<polygon points="570.58,730.5 570.58,717.6 577.57,716.2 577.57,730.5" fill="#e6a69f" fill-opacity="0.2"/>
<polygon points="577.57,730.5 577.57,716.2 584.55,710.5 584.55,730.5" fill="#e68c84" fill-opacity="0.2"/>
<polygon points="584.55,730.5 584.55,710.5 591.54,710.5 591.54,730.5" fill="#e68c84" fill-opacity="0.2"/>
<polygon points="591.54,730.5 591.54,710.5 598.52,730.4 598.52,730.5" fill="#e2e2de" fill-opacity="0.2"/>
<polygon points="598.52,730.5 598.52,730.4 605.51,758.9 605.51,730.5" fill="#8fe080" fill-opacity="0.2"/>
<polygon points="605.51,730.5 605.51,758.9 612.50,774.6 612.50,730.5" fill="#61da4b" fill-opacity="0.2"/>
<polygon points="612.50,730.5 612.50,774.6 619.48,786.7 619.48,730.5" fill="#40d526" fill-opacity="0.2"/>
<polygon points="619.48,730.5 619.48,786.7 626.47,788.1 626.47,730.5" fill="#3dd522" fill-opacity="0.2"/>
<polygon points="626.47,730.5 626.47,788.1 633.45,780.2 633.45,730.5" fill="#52d83a" fill-opacity="0.2"/>
<polygon points="633.45,730.5 633.45,780.2 640.44,800.2 640.44,730.5" fill="#36d41a" fill-opacity="0.2"/>
<polygon points="640.44,730.5 640.44,800.2 647.43,794.5 647.43,730.5" fill="#36d41a" fill-opacity="0.2"/>
<polygon points="647.43,730.5 647.43,794.5 654.41,787.4 654.41,730.5" fill="#3fd524" fill-opacity="0.2"/>
<polygon points="654.41,730.5 654.41,787.4 661.40,767.4 661.40,730.5" fill="#74dd61" fill-opacity="0.2"/>
<polygon points="661.40,730.5 661.40,767.4 668.38,750.3 668.38,730.5" fill="#ace3a2" fill-opacity="0.2"/>
<polygon points="668.38,730.5 668.38,750.3 675.37,738.2 675.37,730.5" fill="#cfe4ca" fill-opacity="0.2"/>
<polygon points="675.37,730.5 675.37,738.2 682.36,751.8 682.36,730.5" fill="#a7e39c" fill-opacity="0.2"/>
<polygon points="682.36,730.5 682.36,751.8 689.34,744.7 689.34,730.5" fill="#bfe6b9" fill-opacity="0.2"/>
<polygon points="689.34,730.5 689.34,744.7 696.33,738.2 696.33,730.5" fill="#cfe4ca" fill-opacity="0.2"/>
<polygon points="696.33,730.5 696.33,738.2 703.31,731.1 703.31,730.5" fill="#e1e2dc" fill-opacity="0.2"/>
<polygon points="703.31,730.5 703.31,731.1 710.30,726.1 710.30,730.5" fill="#e4d1cd" fill-opacity="0.2"/>
<polygon points="710.30,730.5 710.30,726.1 717.29,726.1 717.29,730.5" fill="#e4d1cd" fill-opacity="0.2"/>
<polygon points="717.29,730.5 717.29,726.1 724.27,729.0 724.27,730.5" fill="#e3dcd8" fill-opacity="0.2"/>
<polygon points="724.27,730.5 724.27,729.0 731.26,740.4 731.26,730.5" fill="#cae5c5" fill-opacity="0.2"/>
<polygon points="731.26,730.5 731.26,740.4 738.24,723.3 738.24,730.5" fill="#e6c5c1" fill-opacity="0.2"/>
<polygon points="738.24,730.5 738.24,723.3 745.23,731.1 745.23,730.5" fill="#e1e2dc" fill-opacity="0.2"/>
<polygon points="745.23,730.5 745.23,731.1 752.22,727.6 752.22,730.5" fill="#e3d6d2" fill-opacity="0.2"/>
<polygon points="752.22,730.5 752.22,727.6 759.20,740.4 759.20,730.5" fill="#cae5c5" fill-opacity="0.2"/>
<polygon points="759.20,730.5 759.20,740.4 766.19,747.5 766.19,730.5" fill="#b6e5ad" fill-opacity="0.2"/>
<polygon points="766.19,730.5 766.19,747.5 773.17,746.8 773.17,730.5" fill="#b8e5b0" fill-opacity="0.2"/>
<polygon points="773.17,730.5 773.17,746.8 780.16,764.6 780.16,730.5" fill="#7cde6a" fill-opacity="0.2"/>
<polygon points="780.16,730.5 780.16,764.6 787.15,771.7 787.15,730.5" fill="#69db54" fill-opacity="0.2"/>
<polygon points="787.15,730.5 787.15,771.7 794.13,787.4 794.13,730.5" fill="#3fd524" fill-opacity="0.2"/>
<polygon points="794.13,730.5 794.13,787.4 801.12,773.1 801.12,730.5" fill="#65db4f" fill-opacity="0.2"/>
<polygon points="801.12,730.5 801.12,773.1 808.10,771.7 808.10,730.5" fill="#69db54" fill-opacity="0.2"/>
<polygon points="808.10,730.5 808.10,771.7 815.09,771.0 815.09,730.5" fill="#6bdb56" fill-opacity="0.2"/>
<polygon points="815.09,730.5 815.09,771.0 822.08,777.4 822.08,730.5" fill="#59d942" fill-opacity="0.2"/>
<polygon points="822.08,730.5 822.08,777.4 829.06,770.3 829.06,730.5" fill="#6ddc58" fill-opacity="0.2"/>
<polygon points="829.06,730.5 829.06,770.3 836.05,756.0 836.05,730.5" fill="#99e18b" fill-opacity="0.2"/>
<polygon points="836.05,730.5 836.05,756.0 843.03,741.8 843.03,730.5" fill="#c7e5c1" fill-opacity="0.2"/>
<polygon points="843.03,730.5 843.03,741.8 850.02,724.7 850.02,730.5" fill="#e5cbc7" fill-opacity="0.2"/>
<polygon points="850.02,730.5 850.02,724.7 857.01,717.6 857.01,730.5" fill="#e6aca6" fill-opacity="0.2"/>
<polygon points="857.01,730.5 857.01,717.6 863.99,715.5 863.99,730.5" fill="#e6a29c" fill-opacity="0.2"/>
<polygon points="863.99,730.5 863.99,715.5 870.98,716.2 870.98,730.5" fill="#e6a69f" fill-opacity="0.2"/>
<polygon points="870.98,730.5 870.98,716.2 877.96,712.6 877.96,730.5" fill="#e6968e" fill-opacity="0.2"/>
<polygon points="877.96,730.5 877.96,712.6 884.95,716.2 884.95,730.5" fill="#e6a69f" fill-opacity="0.2"/>
<polygon points="884.95,730.5 884.95,716.2 891.94,731.8 891.94,730.5" fill="#dfe2db" fill-opacity="0.2"/>
<polygon points="891.94,730.5 891.94,731.8 898.92,743.2 898.92,730.5" fill="#c3e6be" fill-opacity="0.2"/>
<polygon points="898.92,730.5 898.92,743.2 905.91,754.6 905.91,730.5" fill="#9de291" fill-opacity="0.2"/>
<polygon points="905.91,730.5 905.91,754.6 912.89,757.5 912.89,730.5" fill="#94e186" fill-opacity="0.2"/>
<polygon points="912.89,730.5 912.89,757.5 919.88,766.0 919.88,730.5" fill="#78dd65" fill-opacity="0.2"/>
<polygon points="919.88,730.5 919.88,766.0 926.87,761.7 926.87,730.5" fill="#85df74" fill-opacity="0.2"/>
<polygon points="926.87,730.5 926.87,761.7 933.85,780.2 933.85,730.5" fill="#52d83a" fill-opacity="0.2"/>
<polygon points="933.85,730.5 933.85,780.2 940.84,719.0 940.84,730.5" fill="#e6b2ad" fill-opacity="0.2"/>
<polygon points="940.84,730.5 940.84,719.0 947.82,720.4 947.82,730.5" fill="#e6b9b4" fill-opacity="0.2"/>
<polygon points="947.82,730.5 947.82,720.4 954.81,717.6 954.81,730.5" fill="#e6aca6" fill-opacity="0.2"/>
<polygon points="954.81,730.5 954.81,717.6 961.80,710.5 961.80,730.5" fill="#e68c84" fill-opacity="0.2"/>
<polygon points="961.80,730.5 961.80,710.5 968.78,705.5 968.78,730.5" fill="#e5786e" fill-opacity="0.2"/>
<polygon points="968.78,730.5 968.78,705.5 975.77,701.9 975.77,730.5" fill="#e46a5e" fill-opacity="0.2"/>
<polygon points="975.77,730.5 975.77,701.9 982.75,696.2 982.75,730.5" fill="#e35345" fill-opacity="0.2"/>
<polygon points="982.75,730.5 982.75,696.2 989.74,697.0 989.74,730.5" fill="#e35648" fill-opacity="0.2"/>
<polygon points="989.74,730.5 989.74,697.0 996.73,724.7 996.73,730.5" fill="#e5cbc7" fill-opacity="0.2"/>
<polygon points="996.73,730.5 996.73,724.7 1003.71,731.8 1003.71,730.5" fill="#dfe2db" fill-opacity="0.2"/>
<polygon points="1003.71,730.5 1003.71,731.8 1010.70,731.1 1010.70,730.5" fill="#e1e2dc" fill-opacity="0.2"/>
<polygon points="1010.70,730.5 1010.70,731.1 1017.68,719.0 1017.68,730.5" fill="#e6b2ad" fill-opacity="0.2"/>
<polygon points="1017.68,730.5 1017.68,719.0 1024.67,720.4 1024.67,730.5" fill="#e6b9b4" fill-opacity="0.2"/>
<polygon points="1024.67,730.5 1024.67,720.4 1031.66,712.6 1031.66,730.5" fill="#e6968e" fill-opacity="0.2"/>
<polygon points="1031.66,730.5 1031.66,712.6 1038.64,722.6 1038.64,730.5" fill="#e6c2be" fill-opacity="0.2"/>
<polygon points="1038.64,730.5 1038.64,722.6 1045.63,726.4 1045.63,730.5" fill="#e4d2ce" fill-opacity="0.2"/>
<polygon points="1045.63,730.5 1045.63,726.4 1052.61,724.0 1052.61,730.5" fill="#e5c8c4" fill-opacity="0.2"/>
<polygon points="1052.61,730.5 1052.61,724.0 1059.60,715.5 1059.60,730.5" fill="#e6a29c" fill-opacity="0.2"/>
<polygon points="1059.60,730.5 1059.60,715.5 1066.59,720.4 1066.59,730.5" fill="#e6b9b4" fill-opacity="0.2"/>
<polygon points="1066.59,730.5 1066.59,720.4 1073.57,713.3 1073.57,730.5" fill="#e69992" fill-opacity="0.2"/>
<polygon points="1073.57,730.5 1073.57,713.3 1080.56,712.6 1080.56,730.5" fill="#e6968e" fill-opacity="0.2"/>
<polygon points="1080.56,730.5 1080.56,712.6 1087.54,716.9 1087.54,730.5" fill="#e6a9a3" fill-opacity="0.2"/>
<polygon points="1087.54,730.5 1087.54,716.9 1094.53,710.5 1094.53,730.5" fill="#e68c84" fill-opacity="0.2"/>
<polygon points="1094.53,730.5 1094.53,710.5 1101.52,705.5 1101.52,730.5" fill="#e5786e" fill-opacity="0.2"/>
<polygon points="1101.52,730.5 1101.52,705.5 1108.50,705.5 1108.50,730.5" fill="#e5786e" fill-opacity="0.2"/>
<polygon points="1108.50,730.5 1108.50,705.5 1115.49,701.9 1115.49,730.5" fill="#e46a5e" fill-opacity="0.2"/>
<polygon points="1115.49,730.5 1115.49,701.9 1122.47,699.1 1122.47,730.5" fill="#e45e52" fill-opacity="0.2"/>
<polygon points="1122.47,730.5 1122.47,699.1 1129.46,704.1 1129.46,730.5" fill="#e57268" fill-opacity="0.2"/>
<polygon points="11.70,730.5 11.70,722.6 18.69,716.2 18.69,730.5" fill="#e6a69f" fill-opacity="0.2"/>
<polygon points="18.69,730.5 18.69,716.2 25.67,706.9 25.67,730.5" fill="#e57e74" fill-opacity="0.2"/>
<polygon points="25.67,730.5 25.67,706.9 32.66,707.6 32.66,730.5" fill="#e58177" fill-opacity="0.2"/>
<polygon points="32.66,730.5 32.66,707.6 39.64,707.6 39.64,730.5" fill="#e58177" fill-opacity="0.2"/>
<polygon points="39.64,730.5 39.64,707.6 46.63,710.5 46.63,730.5" fill="#e68c84" fill-opacity="0.2"/>
<polygon points="46.63,730.5 46.63,710.5 53.62,714.0 53.62,730.5" fill="#e69c95" fill-opacity="0.2"/>
<polygon points="53.62,730.5 53.62,714.0 60.60,725.4 60.60,730.5" fill="#e5ceca" fill-opacity="0.2"/>
<polygon points="60.60,730.5 60.60,725.4 67.59,736.1 67.59,730.5" fill="#d5e4d0" fill-opacity="0.2"/>
<polygon points="67.59,730.5 67.59,736.1 74.57,735.0 74.57,730.5" fill="#d7e3d3" fill-opacity="0.2"/>
<polygon points="74.57,730.5 74.57,735.0 81.56,731.8 81.56,730.5" fill="#dfe2db" fill-opacity="0.2"/>
<polygon points="81.56,730.5 81.56,731.8 88.55,736.1 88.55,730.5" fill="#d5e4d0" fill-opacity="0.2"/>
<polygon points="88.55,730.5 88.55,736.1 95.53,741.8 95.53,730.5" fill="#c7e5c1" fill-opacity="0.2"/>
<polygon points="95.53,730.5 95.53,741.8 102.52,740.4 102.52,730.5" fill="#cae5c5" fill-opacity="0.2"/>
<polygon points="102.52,730.5 102.52,740.4 109.50,743.2 109.50,730.5" fill="#c3e6be" fill-opacity="0.2"/>
<polygon points="109.50,730.5 109.50,758.9 116.49,756.0 116.49,730.5" fill="#99e18b" fill-opacity="0.2"/>
<polygon points="116.49,730.5 116.49,756.0 123.48,759.6 123.48,730.5" fill="#8ce07d" fill-opacity="0.2"/>
<polygon points="123.48,730.5 123.48,759.6 130.46,762.4 130.46,730.5" fill="#83df72" fill-opacity="0.2"/>
<polygon points="130.46,730.5 130.46,762.4 137.45,766.7 137.45,730.5" fill="#76dd63" fill-opacity="0.2"/>
<polygon points="137.45,730.5 137.45,766.7 144.43,768.9 144.43,730.5" fill="#70dc5d" fill-opacity="0.2"/>
<polygon points="144.43,730.5 144.43,768.9 151.42,773.1 151.42,730.5" fill="#65db4f" fill-opacity="0.2"/>
<polygon points="151.42,730.5 151.42,773.1 158.41,776.0 158.41,730.5" fill="#5dd947" fill-opacity="0.2"/>
<polygon points="158.41,730.5 158.41,776.0 165.39,784.5 165.39,730.5" fill="#46d62c" fill-opacity="0.2"/>
<polygon points="165.39,730.5 165.39,784.5 172.38,780.2 172.38,730.5" fill="#52d83a" fill-opacity="0.2"/>
<polygon points="172.38,730.5 172.38,780.2 179.36,778.8 179.36,730.5" fill="#56d83e" fill-opacity="0.2"/>
<polygon points="179.36,730.5 179.36,778.8 186.35,783.8 186.35,730.5" fill="#48d72f" fill-opacity="0.2"/>
<polygon points="186.35,730.5 186.35,783.8 193.34,781.7 193.34,730.5" fill="#4ed735" fill-opacity="0.2"/>
<polygon points="193.34,730.5 193.34,781.7 200.32,778.8 200.32,730.5" fill="#56d83e" fill-opacity="0.2"/>
<polygon points="200.32,730.5 200.32,778.8 207.31,774.6 207.31,730.5" fill="#61da4b" fill-opacity="0.2"/>
<polygon points="207.31,730.5 207.31,774.6 214.29,775.3 214.29,730.5" fill="#5fda49" fill-opacity="0.2"/>
<polygon points="214.29,730.5 214.29,775.3 221.28,773.1 221.28,730.5" fill="#65db4f" fill-opacity="0.2"/>
<polygon points="221.28,730.5 221.28,773.1 228.27,753.2 228.27,730.5" fill="#a2e297" fill-opacity="0.2"/>
<polygon points="228.27,730.5 228.27,753.2 235.25,743.2 235.25,730.5" fill="#c3e6be" fill-opacity="0.2"/>
<polygon points="235.25,730.5 235.25,743.2 242.24,737.5 242.24,730.5" fill="#d1e4cc" fill-opacity="0.2"/>
<polygon points="242.24,730.5 242.24,737.5 249.22,730.4 249.22,730.5" fill="#e2e2de" fill-opacity="0.2"/>
<polygon points="249.22,730.5 249.22,730.4 256.21,728.3 256.21,730.5" fill="#e3d9d5" fill-opacity="0.2"/>
<polygon points="256.21,730.5 256.21,728.3 263.20,731.8 263.20,730.5" fill="#dfe2db" fill-opacity="0.2"/>
<polygon points="263.20,730.5 263.20,731.8 270.18,732.5 270.18,730.5" fill="#dde3d9" fill-opacity="0.2"/>
<polygon points="270.18,730.5 270.18,732.5 277.17,733.3 277.17,730.5" fill="#dbe3d7" fill-opacity="0.2"/>
<polygon points="277.17,730.5 277.17,733.3 284.15,735.4 284.15,730.5" fill="#d6e3d2" fill-opacity="0.2"/>
<polygon points="284.15,730.5 284.15,735.4 291.14,726.1 291.14,730.5" fill="#e4d1cd" fill-opacity="0.2"/>
<polygon points="291.14,730.5 291.14,726.1 298.13,731.8 298.13,730.5" fill="#dfe2db" fill-opacity="0.2"/>
<polygon points="298.13,730.5 298.13,731.8 305.11,727.6 305.11,730.5" fill="#e3d6d2" fill-opacity="0.2"/>
<polygon points="305.11,730.5 305.11,727.6 312.10,726.1 312.10,730.5" fill="#e4d1cd" fill-opacity="0.2"/>
<polygon points="312.10,730.5 312.10,726.1 319.08,717.6 319.08,730.5" fill="#e6aca6" fill-opacity="0.2"/>
<polygon points="319.08,730.5 319.08,717.6 326.07,710.5 326.07,730.5" fill="#e68c84" fill-opacity="0.2"/>
<polygon points="326.07,730.5 326.07,710.5 333.06,723.3 333.06,730.5" fill="#e6c5c1" fill-opacity="0.2"/>
<polygon points="333.06,730.5 333.06,723.3 340.04,730.4 340.04,730.5" fill="#e2e2de" fill-opacity="0.2"/>
<polygon points="340.04,730.5 340.04,730.4 347.03,757.5 347.03,730.5" fill="#94e186" fill-opacity="0.2"/>
<polygon points="347.03,730.5 347.03,757.5 354.01,776.7 354.01,730.5" fill="#5bd945" fill-opacity="0.2"/>
<polygon points="354.01,730.5 354.01,776.7 361.00,793.1 361.00,730.5" fill="#36d41a" fill-opacity="0.2"/>
<polygon points="361.00,730.5 361.00,793.1 367.99,795.9 367.99,730.5" fill="#36d41a" fill-opacity="0.2"/>
<polygon points="367.99,730.5 367.99,795.9 374.97,788.8 374.97,730.5" fill="#3bd51f" fill-opacity="0.2"/>
<polygon points="374.97,730.5 374.97,788.8 381.96,799.5 381.96,730.5" fill="#36d41a" fill-opacity="0.2"/>
<polygon points="381.96,730.5 381.96,799.5 388.94,799.5 388.94,730.5" fill="#36d41a" fill-opacity="0.2"/>
<polygon points="388.94,730.5 388.94,799.5 395.93,799.5 395.93,730.5" fill="#36d41a" fill-opacity="0.2"/>
<polygon points="395.93,730.5 395.93,799.5 402.92,790.2 402.92,730.5" fill="#37d41b" fill-opacity="0.2"/>
<polygon points="402.92,730.5 402.92,790.2 409.90,794.5 409.90,730.5" fill="#36d41a" fill-opacity="0.2"/>
<polygon points="409.90,730.5 409.90,794.5 416.89,787.4 416.89,730.5" fill="#3fd524" fill-opacity="0.2"/>
<polygon points="416.89,730.5 416.89,787.4 423.87,777.4 423.87,730.5" fill="#59d942" fill-opacity="0.2"/>
<polygon points="423.87,730.5 423.87,777.4 430.86,774.6 430.86,730.5" fill="#61da4b" fill-opacity="0.2"/>
<polygon points="430.86,730.5 430.86,774.6 437.85,773.1 437.85,730.5" fill="#65db4f" fill-opacity="0.2"/>
<polygon points="437.85,730.5 437.85,773.1 444.83,770.3 444.83,730.5" fill="#6ddc58" fill-opacity="0.2"/>
<polygon points="444.83,730.5 444.83,770.3 451.82,763.9 451.82,730.5" fill="#7ede6c" fill-opacity="0.2"/>
<polygon points="451.82,730.5 451.82,763.9 458.80,778.8 458.80,730.5" fill="#56d83e" fill-opacity="0.2"/>
<polygon points="458.80,730.5 458.80,778.8 465.79,787.4 465.79,730.5" fill="#3fd524" fill-opacity="0.2"/>
<polygon points="465.79,730.5 465.79,787.4 472.78,783.1 472.78,730.5" fill="#4ad731" fill-opacity="0.2"/>
<polygon points="472.78,730.5 472.78,783.1 479.76,783.1 479.76,730.5" fill="#4ad731" fill-opacity="0.2"/>
<polygon points="479.76,730.5 479.76,783.1 486.75,801.6 486.75,730.5" fill="#36d41a" fill-opacity="0.2"/>
<polygon points="486.75,730.5 486.75,801.6 493.73,805.9 493.73,730.5" fill="#36d41a" fill-opacity="0.2"/>
<polygon points="493.73,730.5 493.73,805.9 500.72,803.0 500.72,730.5" fill="#36d41a" fill-opacity="0.2"/>
<polygon points="500.72,730.5 500.72,803.0 507.71,810.9 507.71,730.5" fill="#36d41a" fill-opacity="0.2"/>
<polygon points="507.71,730.5 507.71,810.9 514.69,807.3 514.69,730.5" fill="#36d41a" fill-opacity="0.2"/>
<polygon points="514.69,730.5 514.69,807.3 521.68,801.6 521.68,730.5" fill="#36d41a" fill-opacity="0.2"/>
<polygon points="521.68,730.5 521.68,801.6 528.66,796.6 528.66,730.5" fill="#36d41a" fill-opacity="0.2"/>
<polygon points="528.66,730.5 528.66,796.6 535.65,799.5 535.65,730.5" fill="#36d41a" fill-opacity="0.2"/>
<polygon points="535.65,730.5 535.65,799.5 542.64,783.1 542.64,730.5" fill="#4ad731" fill-opacity="0.2"/>
<polygon points="542.64,730.5 542.64,783.1 549.62,767.4 549.62,730.5" fill="#74dd61" fill-opacity="0.2"/>
<polygon points="549.62,730.5 549.62,767.4 556.61,759.6 556.61,730.5" fill="#8ce07d" fill-opacity="0.2"/>
<polygon points="556.61,730.5 556.61,759.6 563.59,740.4 563.59,730.5" fill="#cae5c5" fill-opacity="0.2"/>
<polygon points="563.59,730.5 563.59,740.4 570.58,718.3 570.58,730.5" fill="#e6afaa" fill-opacity="0.2"/>
<polygon points="570.58,730.5 570.58,718.3 577.57,716.9 577.57,730.5" fill="#e6a9a3" fill-opacity="0.2"/>
<polygon points="577.57,730.5 577.57,716.9 584.55,719.0 584.55,730.5" fill="#e6b2ad" fill-opacity="0.2"/>
<polygon points="584.55,730.5 584.55,719.0 591.54,723.3 591.54,730.5" fill="#e6c5c1" fill-opacity="0.2"/>
<polygon points="591.54,730.5 591.54,723.3 598.52,753.2 598.52,730.5" fill="#a2e297" fill-opacity="0.2"/>
<polygon points="598.52,730.5 598.52,753.2 605.51,795.9 605.51,730.5" fill="#36d41a" fill-opacity="0.2"/>
<polygon points="605.51,730.5 605.51,795.9 612.50,804.5 612.50,730.5" fill="#36d41a" fill-opacity="0.2"/>
<polygon points="612.50,730.5 612.50,804.5 619.48,807.3 619.48,730.5" fill="#36d41a" fill-opacity="0.2"/>
<polygon points="619.48,730.5 619.48,807.3 626.47,805.9 626.47,730.5" fill="#36d41a" fill-opacity="0.2"/>
<polygon points="626.47,730.5 626.47,805.9 633.45,807.3 633.45,730.5" fill="#36d41a" fill-opacity="0.2"/>
<polygon points="633.45,730.5 633.45,807.3 640.44,803.0 640.44,730.5" fill="#36d41a" fill-opacity="0.2"/>
<polygon points="640.44,730.5 640.44,803.0 647.43,795.9 647.43,730.5" fill="#36d41a" fill-opacity="0.2"/>
<polygon points="647.43,730.5 647.43,795.9 654.41,800.2 654.41,730.5" fill="#36d41a" fill-opacity="0.2"/>
<polygon points="654.41,730.5 654.41,800.2 661.40,794.5 661.40,730.5" fill="#36d41a" fill-opacity="0.2"/>
<polygon points="661.40,730.5 661.40,794.5 668.38,787.4 668.38,730.5" fill="#3fd524" fill-opacity="0.2"/>
<polygon points="668.38,730.5 668.38,787.4 675.37,780.2 675.37,730.5" fill="#52d83a" fill-opacity="0.2"/>
<polygon points="675.37,730.5 675.37,780.2 682.36,773.1 682.36,730.5" fill="#65db4f" fill-opacity="0.2"/>
<polygon points="682.36,730.5 682.36,773.1 689.34,756.0 689.34,730.5" fill="#99e18b" fill-opacity="0.2"/>
<polygon points="689.34,730.5 689.34,756.0 696.33,740.4 696.33,730.5" fill="#cae5c5" fill-opacity="0.2"/>
<polygon points="696.33,730.5 696.33,740.4 703.31,734.7 703.31,730.5" fill="#d8e3d3" fill-opacity="0.2"/>
<polygon points="703.31,730.5 703.31,734.7 710.30,727.6 710.30,730.5" fill="#e3d6d2" fill-opacity="0.2"/>
<polygon points="710.30,730.5 710.30,727.6 717.29,727.6 717.29,730.5" fill="#e3d6d2" fill-opacity="0.2"/>
<polygon points="717.29,730.5 717.29,727.6 724.27,731.1 724.27,730.5" fill="#e1e2dc" fill-opacity="0.2"/>
<polygon points="724.27,730.5 724.27,731.1 731.26,751.1 731.26,730.5" fill="#a9e39f" fill-opacity="0.2"/>
<polygon points="731.26,730.5 731.26,751.1 738.24,746.8 738.24,730.5" fill="#b8e5b0" fill-opacity="0.2"/>
<polygon points="738.24,730.5 738.24,746.8 745.23,736.1 745.23,730.5" fill="#d5e4d0" fill-opacity="0.2"/>
<polygon points="745.23,730.5 745.23,736.1 752.22,747.5 752.22,730.5" fill="#b6e5ad" fill-opacity="0.2"/>
<polygon points="752.22,730.5 752.22,747.5 759.20,753.2 759.20,730.5" fill="#a2e297" fill-opacity="0.2"/>
<polygon points="759.20,730.5 759.20,753.2 766.19,781.7 766.19,730.5" fill="#4ed735" fill-opacity="0.2"/>
<polygon points="766.19,730.5 766.19,781.7 773.17,783.1 773.17,730.5" fill="#4ad731" fill-opacity="0.2"/>
<polygon points="773.17,730.5 773.17,783.1 780.16,790.2 780.16,730.5" fill="#37d41b" fill-opacity="0.2"/>
<polygon points="780.16,730.5 780.16,790.2 787.15,781.7 787.15,730.5" fill="#4ed735" fill-opacity="0.2"/>
<polygon points="787.15,730.5 787.15,781.7 794.13,795.9 794.13,730.5" fill="#36d41a" fill-opacity="0.2"/>
<polygon points="794.13,730.5 794.13,795.9 801.12,788.8 801.12,730.5" fill="#3bd51f" fill-opacity="0.2"/>
<polygon points="801.12,730.5 801.12,788.8 808.10,798.8 808.10,730.5" fill="#36d41a" fill-opacity="0.2"/>
<polygon points="808.10,730.5 808.10,798.8 815.09,784.5 815.09,730.5" fill="#46d62c" fill-opacity="0.2"/>
<polygon points="815.09,730.5 815.09,784.5 822.08,790.2 822.08,730.5" fill="#37d41b" fill-opacity="0.2"/>
<polygon points="822.08,730.5 822.08,790.2 829.06,798.8 829.06,730.5" fill="#36d41a" fill-opacity="0.2"/>
<polygon points="829.06,730.5 829.06,798.8 836.05,791.6 836.05,730.5" fill="#36d41a" fill-opacity="0.2"/>
<polygon points="836.05,730.5 836.05,791.6 843.03,770.3 843.03,730.5" fill="#6ddc58" fill-opacity="0.2"/>
<polygon points="843.03,730.5 843.03,770.3 850.02,764.6 850.02,730.5" fill="#7cde6a" fill-opacity="0.2"/>
<polygon points="850.02,730.5 850.02,764.6 857.01,751.8 857.01,730.5" fill="#a7e39c" fill-opacity="0.2"/>
<polygon points="857.01,730.5 857.01,751.8 863.99,736.1 863.99,730.5" fill="#d5e4d0" fill-opacity="0.2"/>
<polygon points="863.99,730.5 863.99,736.1 870.98,722.6 870.98,730.5" fill="#e6c2be" fill-opacity="0.2"/>
<polygon points="870.98,730.5 870.98,722.6 877.96,736.1 877.96,730.5" fill="#d5e4d0" fill-opacity="0.2"/>
<polygon points="877.96,730.5 877.96,736.1 884.95,751.8 884.95,730.5" fill="#a7e39c" fill-opacity="0.2"/>
<polygon points="884.95,730.5 884.95,751.8 891.94,774.6 891.94,730.5" fill="#61da4b" fill-opacity="0.2"/>
<polygon points="891.94,730.5 891.94,774.6 898.92,798.8 898.92,730.5" fill="#36d41a" fill-opacity="0.2"/>
<polygon points="898.92,730.5 898.92,798.8 905.91,794.5 905.91,730.5" fill="#36d41a" fill-opacity="0.2"/>
<polygon points="905.91,730.5 905.91,794.5 912.89,793.1 912.89,730.5" fill="#36d41a" fill-opacity="0.2"/>
<polygon points="912.89,730.5 912.89,793.1 919.88,793.1 919.88,730.5" fill="#36d41a" fill-opacity="0.2"/>
<polygon points="919.88,730.5 919.88,793.1 926.87,774.6 926.87,730.5" fill="#61da4b" fill-opacity="0.2"/>
<polygon points="926.87,730.5 926.87,774.6 933.85,784.5 933.85,730.5" fill="#46d62c" fill-opacity="0.2"/>
<polygon points="933.85,730.5 933.85,784.5 940.84,722.6 940.84,730.5" fill="#e6c2be" fill-opacity="0.2"/>
<polygon points="940.84,730.5 940.84,722.6 947.82,731.8 947.82,730.5" fill="#dfe2db" fill-opacity="0.2"/>
<polygon points="947.82,730.5 947.82,731.8 954.81,734.7 954.81,730.5" fill="#d8e3d3" fill-opacity="0.2"/>
<polygon points="954.81,730.5 954.81,734.7 961.80,716.2 961.80,730.5" fill="#e6a69f" fill-opacity="0.2"/>
<polygon points="961.80,730.5 961.80,716.2 968.78,708.3 968.78,730.5" fill="#e6837b" fill-opacity="0.2"/>
<polygon points="968.78,730.5 968.78,708.3 975.77,704.8 975.77,730.5" fill="#e5756b" fill-opacity="0.2"/>
<polygon points="975.77,730.5 975.77,704.8 982.75,699.1 982.75,730.5" fill="#e45e52" fill-opacity="0.2"/>
<polygon points="982.75,730.5 982.75,699.1 989.74,703.4 989.74,730.5" fill="#e56f65" fill-opacity="0.2"/>
<polygon points="989.74,730.5 989.74,703.4 996.73,733.3 996.73,730.5" fill="#dbe3d7" fill-opacity="0.2"/>
<polygon points="996.73,730.5 996.73,733.3 1003.71,737.5 1003.71,730.5" fill="#d1e4cc" fill-opacity="0.2"/>
<polygon points="1003.71,730.5 1003.71,737.5 1010.70,740.4 1010.70,730.5" fill="#cae5c5" fill-opacity="0.2"/>
<polygon points="1010.70,730.5 1010.70,740.4 1017.68,744.7 1017.68,730.5" fill="#bfe6b9" fill-opacity="0.2"/>
<polygon points="1017.68,730.5 1017.68,744.7 1024.67,736.1 1024.67,730.5" fill="#d5e4d0" fill-opacity="0.2"/>
<polygon points="1024.67,730.5 1024.67,736.1 1031.66,727.6 1031.66,730.5" fill="#e3d6d2" fill-opacity="0.2"/>
<polygon points="1031.66,730.5 1031.66,727.6 1038.64,741.8 1038.64,730.5" fill="#c7e5c1" fill-opacity="0.2"/>
<polygon points="1038.64,730.5 1038.64,741.8 1045.63,741.8 1045.63,730.5" fill="#c7e5c1" fill-opacity="0.2"/>
<polygon points="1045.63,730.5 1045.63,741.8 1052.61,731.8 1052.61,730.5" fill="#dfe2db" fill-opacity="0.2"/>
<polygon points="1052.61,730.5 1052.61,731.8 1059.60,725.4 1059.60,730.5" fill="#e5ceca" fill-opacity="0.2"/>
<polygon points="1059.60,730.5 1059.60,725.4 1066.59,721.2 1066.59,730.5" fill="#e6bcb8" fill-opacity="0.2"/>
<polygon points="1066.59,730.5 1066.59,721.2 1073.57,740.4 1073.57,730.5" fill="#cae5c5" fill-opacity="0.2"/>
<polygon points="1073.57,730.5 1073.57,740.4 1080.56,729.0 1080.56,730.5" fill="#e3dcd8" fill-opacity="0.2"/>
<polygon points="1080.56,730.5 1080.56,729.0 1087.54,729.0 1087.54,730.5" fill="#e3dcd8" fill-opacity="0.2"/>
<polygon points="1087.54,730.5 1087.54,729.0 1094.53,731.1 1094.53,730.5" fill="#e1e2dc" fill-opacity="0.2"/>
<polygon points="1094.53,730.5 1094.53,731.1 1101.52,733.3 1101.52,730.5" fill="#dbe3d7" fill-opacity="0.2"/>
<polygon points="1101.52,730.5 1101.52,733.3 1108.50,737.5 1108.50,730.5" fill="#d1e4cc" fill-opacity="0.2"/>
<polygon points="1108.50,730.5 1108.50,737.5 1115.49,736.8 1115.49,730.5" fill="#d3e4ce" fill-opacity="0.2"/>
<polygon points="1115.49,730.5 1115.49,736.8 1122.47,739.0 1122.47,730.5" fill="#cee5c8" fill-opacity="0.2"/>
<polygon points="1122.47,730.5 1122.47,739.0 1129.46,734.0 1129.46,730.5" fill="#dae3d5" fill-opacity="0.2"/>
</g>
<line x1="11" y1="730.5" x2="1129.5" y2="730.5" stroke="#ff9800" stroke-width="1"/>
<line x1="1129.5" y1="730.5" x2="1741" y2="730.5" stroke="#1d1d1d" stroke-width="1"/>
<g stroke-linecap="round" stroke-linejoin="round" stroke-width="2">
<line x1="11.7" y1="697.9" x2="18.7" y2="703.4" stroke="#e56f65"/>
<line x1="18.7" y1="703.4" x2="25.7" y2="701.9" stroke="#e46a5e"/>
<line x1="25.7" y1="701.9" x2="32.7" y2="694.5" stroke="#e34c3e"/>
<line x1="32.7" y1="694.5" x2="39.6" y2="695.5" stroke="#e35042"/>
<line x1="39.6" y1="695.5" x2="46.6" y2="698.8" stroke="#e45d51"/>
<line x1="46.6" y1="698.8" x2="53.6" y2="701.9" stroke="#e46a5e"/>
<line x1="53.6" y1="701.9" x2="60.6" y2="703.1" stroke="#e56e63"/>
<line x1="60.6" y1="703.1" x2="67.6" y2="710.5" stroke="#e68c84"/>
<line x1="67.6" y1="710.5" x2="74.6" y2="706.9" stroke="#e57e74"/>
<line x1="74.6" y1="706.9" x2="81.6" y2="710.5" stroke="#e68c84"/>
<line x1="81.6" y1="710.5" x2="88.5" y2="716.9" stroke="#e6a9a3"/>
<line x1="88.5" y1="716.9" x2="95.5" y2="710.2" stroke="#e68b83"/>
<line x1="95.5" y1="710.2" x2="102.5" y2="713.6" stroke="#e69a93"/>
<line x1="102.5" y1="713.6" x2="109.5" y2="758.9" stroke="#8fe080"/>
<line x1="109.5" y1="739.0" x2="116.5" y2="740.4" stroke="#cae5c5"/>
<line x1="116.5" y1="740.4" x2="123.5" y2="739.0" stroke="#cee5c8"/>
<line x1="123.5" y1="739.0" x2="130.5" y2="735.4" stroke="#d6e3d2"/>
<line x1="130.5" y1="735.4" x2="137.4" y2="731.8" stroke="#dfe2db"/>
<line x1="137.4" y1="731.8" x2="144.4" y2="736.1" stroke="#d5e4d0"/>
<line x1="144.4" y1="736.1" x2="151.4" y2="763.2" stroke="#80de6f"/>
<line x1="151.4" y1="763.2" x2="158.4" y2="764.6" stroke="#7cde6a"/>
<line x1="158.4" y1="764.6" x2="165.4" y2="744.7" stroke="#bfe6b9"/>
<line x1="165.4" y1="744.7" x2="172.4" y2="741.1" stroke="#c9e5c3"/>
<line x1="172.4" y1="741.1" x2="179.4" y2="744.7" stroke="#bfe6b9"/>
<line x1="179.4" y1="744.7" x2="186.3" y2="748.9" stroke="#b1e4a8"/>
<line x1="186.3" y1="748.9" x2="193.3" y2="755.3" stroke="#9be18e"/>
<line x1="193.3" y1="755.3" x2="200.3" y2="761.0" stroke="#88df77"/>
<line x1="200.3" y1="761.0" x2="207.3" y2="735.4" stroke="#d6e3d2"/>
<line x1="207.3" y1="735.4" x2="214.3" y2="740.4" stroke="#cae5c5"/>
<line x1="214.3" y1="740.4" x2="221.3" y2="730.4" stroke="#e2e2de"/>
<line x1="221.3" y1="730.4" x2="228.3" y2="724.7" stroke="#e5cbc7"/>
<line x1="228.3" y1="724.7" x2="235.3" y2="716.9" stroke="#e6a9a3"/>
<line x1="235.3" y1="716.9" x2="242.2" y2="718.3" stroke="#e6afaa"/>
<line x1="242.2" y1="718.3" x2="249.2" y2="715.5" stroke="#e6a29c"/>
<line x1="249.2" y1="715.5" x2="256.2" y2="724.7" stroke="#e5cbc7"/>
<line x1="256.2" y1="724.7" x2="263.2" y2="726.1" stroke="#e4d1cd"/>
<line x1="263.2" y1="726.1" x2="270.2" y2="717.6" stroke="#e6aca6"/>
<line x1="270.2" y1="717.6" x2="277.2" y2="711.2" stroke="#e68f87"/>
<line x1="277.2" y1="711.2" x2="284.2" y2="709.1" stroke="#e6867e"/>
<line x1="284.2" y1="709.1" x2="291.1" y2="711.9" stroke="#e6928b"/>
<line x1="291.1" y1="711.9" x2="298.1" y2="708.3" stroke="#e6837b"/>
<line x1="298.1" y1="708.3" x2="305.1" y2="706.2" stroke="#e57b71"/>
<line x1="305.1" y1="706.2" x2="312.1" y2="706.9" stroke="#e57e74"/>
<line x1="312.1" y1="706.9" x2="319.1" y2="698.8" stroke="#e45d51"/>
<line x1="319.1" y1="698.8" x2="326.1" y2="698.8" stroke="#e45d51"/>
<line x1="326.1" y1="698.8" x2="333.1" y2="704.8" stroke="#e5756b"/>
<line x1="333.1" y1="704.8" x2="340.0" y2="713.3" stroke="#e69992"/>
<line x1="340.0" y1="713.3" x2="347.0" y2="726.1" stroke="#e4d1cd"/>
<line x1="347.0" y1="726.1" x2="354.0" y2="751.1" stroke="#a9e39f"/>
<line x1="354.0" y1="751.1" x2="361.0" y2="762.4" stroke="#83df72"/>
<line x1="361.0" y1="762.4" x2="368.0" y2="767.4" stroke="#74dd61"/>
<line x1="368.0" y1="767.4" x2="375.0" y2="776.7" stroke="#5bd945"/>
<line x1="375.0" y1="776.7" x2="382.0" y2="781.7" stroke="#4ed735"/>
<line x1="382.0" y1="781.7" x2="388.9" y2="785.9" stroke="#42d628"/>
<line x1="388.9" y1="785.9" x2="395.9" y2="783.1" stroke="#4ad731"/>
<line x1="395.9" y1="783.1" x2="402.9" y2="766.7" stroke="#76dd63"/>
<line x1="402.9" y1="766.7" x2="409.9" y2="766.0" stroke="#78dd65"/>
<line x1="409.9" y1="766.0" x2="416.9" y2="756.0" stroke="#99e18b"/>
<line x1="416.9" y1="756.0" x2="423.9" y2="755.3" stroke="#9be18e"/>
<line x1="423.9" y1="755.3" x2="430.9" y2="756.0" stroke="#99e18b"/>
<line x1="430.9" y1="756.0" x2="437.8" y2="750.3" stroke="#ace3a2"/>
<line x1="437.8" y1="750.3" x2="444.8" y2="739.0" stroke="#cee5c8"/>
<line x1="444.8" y1="739.0" x2="451.8" y2="731.1" stroke="#e1e2dc"/>
<line x1="451.8" y1="731.1" x2="458.8" y2="752.5" stroke="#a5e399"/>
<line x1="458.8" y1="752.5" x2="465.8" y2="756.8" stroke="#96e188"/>
<line x1="465.8" y1="756.8" x2="472.8" y2="762.4" stroke="#83df72"/>
<line x1="472.8" y1="762.4" x2="479.8" y2="756.0" stroke="#99e18b"/>
<line x1="479.8" y1="756.0" x2="486.7" y2="758.9" stroke="#8fe080"/>
<line x1="486.7" y1="758.9" x2="493.7" y2="753.9" stroke="#a0e294"/>
<line x1="493.7" y1="753.9" x2="500.7" y2="763.2" stroke="#80de6f"/>
<line x1="500.7" y1="763.2" x2="507.7" y2="758.9" stroke="#8fe080"/>
<line x1="507.7" y1="758.9" x2="514.7" y2="734.0" stroke="#dae3d5"/>
<line x1="514.7" y1="734.0" x2="521.7" y2="741.8" stroke="#c7e5c1"/>
<line x1="521.7" y1="741.8" x2="528.7" y2="730.7" stroke="#e2e2dd"/>
<line x1="528.7" y1="730.7" x2="535.6" y2="725.4" stroke="#e5ceca"/>
<line x1="535.6" y1="725.4" x2="542.6" y2="729.0" stroke="#e3dcd8"/>
<line x1="542.6" y1="729.0" x2="549.6" y2="721.2" stroke="#e6bcb8"/>
<line x1="549.6" y1="721.2" x2="556.6" y2="722.6" stroke="#e6c2be"/>
<line x1="556.6" y1="722.6" x2="563.6" y2="719.7" stroke="#e6b6b1"/>
<line x1="563.6" y1="719.7" x2="570.6" y2="716.2" stroke="#e6a69f"/>
<line x1="570.6" y1="716.2" x2="577.6" y2="711.2" stroke="#e68f87"/>
<line x1="577.6" y1="711.2" x2="584.6" y2="706.9" stroke="#e57e74"/>
<line x1="584.6" y1="706.9" x2="591.5" y2="702.6" stroke="#e46d62"/>
<line x1="591.5" y1="702.6" x2="598.5" y2="714.0" stroke="#e69c95"/>
<line x1="598.5" y1="714.0" x2="605.5" y2="721.9" stroke="#e6bfbb"/>
<line x1="605.5" y1="721.9" x2="612.5" y2="719.7" stroke="#e6b6b1"/>
<line x1="612.5" y1="719.7" x2="619.5" y2="731.1" stroke="#e1e2dc"/>
<line x1="619.5" y1="731.1" x2="626.5" y2="753.2" stroke="#a2e297"/>
<line x1="626.5" y1="753.2" x2="633.5" y2="771.7" stroke="#69db54"/>
<line x1="633.5" y1="771.7" x2="640.4" y2="771.0" stroke="#6bdb56"/>
<line x1="640.4" y1="771.0" x2="647.4" y2="775.3" stroke="#5fda49"/>
<line x1="647.4" y1="775.3" x2="654.4" y2="761.7" stroke="#85df74"/>
<line x1="654.4" y1="761.7" x2="661.4" y2="743.2" stroke="#c3e6be"/>
<line x1="661.4" y1="743.2" x2="668.4" y2="724.7" stroke="#e5cbc7"/>
<line x1="668.4" y1="724.7" x2="675.4" y2="719.7" stroke="#e6b6b1"/>
<line x1="675.4" y1="719.7" x2="682.4" y2="720.4" stroke="#e6b9b4"/>
<line x1="682.4" y1="720.4" x2="689.3" y2="724.7" stroke="#e5cbc7"/>
<line x1="689.3" y1="724.7" x2="696.3" y2="728.3" stroke="#e3d9d5"/>
<line x1="696.3" y1="728.3" x2="703.3" y2="721.9" stroke="#e6bfbb"/>
<line x1="703.3" y1="721.9" x2="710.3" y2="723.3" stroke="#e6c5c1"/>
<line x1="710.3" y1="723.3" x2="717.3" y2="711.2" stroke="#e68f87"/>
<line x1="717.3" y1="711.2" x2="724.3" y2="708.3" stroke="#e6837b"/>
<line x1="724.3" y1="708.3" x2="731.3" y2="706.9" stroke="#e57e74"/>
<line x1="731.3" y1="706.9" x2="738.2" y2="706.9" stroke="#e57e74"/>
<line x1="738.2" y1="706.9" x2="745.2" y2="706.2" stroke="#e57b71"/>
<line x1="745.2" y1="706.2" x2="752.2" y2="710.5" stroke="#e68c84"/>
<line x1="752.2" y1="710.5" x2="759.2" y2="705.5" stroke="#e5786e"/>
<line x1="759.2" y1="705.5" x2="766.2" y2="703.4" stroke="#e56f65"/>
<line x1="766.2" y1="703.4" x2="773.2" y2="719.0" stroke="#e6b2ad"/>
<line x1="773.2" y1="719.0" x2="780.2" y2="740.4" stroke="#cae5c5"/>
<line x1="780.2" y1="740.4" x2="787.1" y2="768.9" stroke="#70dc5d"/>
<line x1="787.1" y1="768.9" x2="794.1" y2="767.4" stroke="#74dd61"/>
<line x1="794.1" y1="767.4" x2="801.1" y2="769.6" stroke="#6fdc5a"/>
<line x1="801.1" y1="769.6" x2="808.1" y2="763.2" stroke="#80de6f"/>
<line x1="808.1" y1="763.2" x2="815.1" y2="756.0" stroke="#99e18b"/>
<line x1="815.1" y1="756.0" x2="822.1" y2="747.5" stroke="#b6e5ad"/>
<line x1="822.1" y1="747.5" x2="829.1" y2="739.0" stroke="#cee5c8"/>
<line x1="829.1" y1="739.0" x2="836.0" y2="719.7" stroke="#e6b6b1"/>
<line x1="836.0" y1="719.7" x2="843.0" y2="712.6" stroke="#e6968e"/>
<line x1="843.0" y1="712.6" x2="850.0" y2="714.7" stroke="#e69f99"/>
<line x1="850.0" y1="714.7" x2="857.0" y2="714.0" stroke="#e69c95"/>
<line x1="857.0" y1="714.0" x2="864.0" y2="712.6" stroke="#e6968e"/>
<line x1="864.0" y1="712.6" x2="871.0" y2="711.9" stroke="#e6928b"/>
<line x1="871.0" y1="711.9" x2="878.0" y2="708.8" stroke="#e6857c"/>
<line x1="878.0" y1="708.8" x2="885.0" y2="702.6" stroke="#e46d62"/>
<line x1="885.0" y1="702.6" x2="891.9" y2="695.5" stroke="#e35042"/>
<line x1="891.9" y1="695.5" x2="898.9" y2="696.2" stroke="#e35345"/>
<line x1="898.9" y1="696.2" x2="905.9" y2="690.5" stroke="#e23c2c"/>
<line x1="905.9" y1="690.5" x2="912.9" y2="691.3" stroke="#e23f2f"/>
<line x1="912.9" y1="691.3" x2="919.9" y2="700.5" stroke="#e46458"/>
<line x1="919.9" y1="700.5" x2="926.9" y2="710.5" stroke="#e68c84"/>
<line x1="926.9" y1="710.5" x2="933.9" y2="716.2" stroke="#e6a69f"/>
<line x1="933.9" y1="716.2" x2="940.8" y2="716.9" stroke="#e6a9a3"/>
<line x1="940.8" y1="716.9" x2="947.8" y2="714.7" stroke="#e69f99"/>
<line x1="947.8" y1="714.7" x2="954.8" y2="709.1" stroke="#e6867e"/>
<line x1="954.8" y1="709.1" x2="961.8" y2="704.8" stroke="#e5756b"/>
<line x1="961.8" y1="704.8" x2="968.8" y2="703.4" stroke="#e56f65"/>
<line x1="968.8" y1="703.4" x2="975.8" y2="697.0" stroke="#e35648"/>
<line x1="975.8" y1="697.0" x2="982.8" y2="694.1" stroke="#e34a3c"/>
<line x1="982.8" y1="694.1" x2="989.7" y2="696.2" stroke="#e35345"/>
<line x1="989.7" y1="696.2" x2="996.7" y2="699.1" stroke="#e45e52"/>
<line x1="996.7" y1="699.1" x2="1003.7" y2="693.4" stroke="#e34839"/>
<line x1="1003.7" y1="693.4" x2="1010.7" y2="682.7" stroke="#e22c1b"/>
<line x1="1010.7" y1="682.7" x2="1017.7" y2="684.8" stroke="#e2301f"/>
<line x1="1017.7" y1="684.8" x2="1024.7" y2="689.1" stroke="#e23929"/>
<line x1="1024.7" y1="689.1" x2="1031.7" y2="691.3" stroke="#e23f2f"/>
<line x1="1031.7" y1="691.3" x2="1038.6" y2="686.3" stroke="#e23323"/>
<line x1="1038.6" y1="686.3" x2="1045.6" y2="689.4" stroke="#e23a2a"/>
<line x1="1045.6" y1="689.4" x2="1052.6" y2="683.3" stroke="#e22d1c"/>
<line x1="1052.6" y1="683.3" x2="1059.6" y2="680.6" stroke="#e22716"/>
<line x1="1059.6" y1="680.6" x2="1066.6" y2="689.1" stroke="#e23929"/>
<line x1="1066.6" y1="689.1" x2="1073.6" y2="704.8" stroke="#e5756b"/>
<line x1="1073.6" y1="704.8" x2="1080.6" y2="705.5" stroke="#e5786e"/>
<line x1="1080.6" y1="705.5" x2="1087.5" y2="704.1" stroke="#e57268"/>
<line x1="1087.5" y1="704.1" x2="1094.5" y2="706.9" stroke="#e57e74"/>
<line x1="1094.5" y1="706.9" x2="1101.5" y2="704.8" stroke="#e5756b"/>
<line x1="1101.5" y1="704.8" x2="1108.5" y2="699.8" stroke="#e46155"/>
<line x1="1108.5" y1="699.8" x2="1115.5" y2="698.4" stroke="#e45c4f"/>
<line x1="1115.5" y1="698.4" x2="1122.5" y2="697.7" stroke="#e3594c"/>
<line x1="1122.5" y1="697.7" x2="1129.5" y2="692.7" stroke="#e24536"/>
<line x1="11.7" y1="705.5" x2="18.7" y2="707.6" stroke="#e58177"/>
<line x1="18.7" y1="707.6" x2="25.7" y2="705.5" stroke="#e5786e"/>
<line x1="25.7" y1="705.5" x2="32.7" y2="707.3" stroke="#e57f76"/>
<line x1="32.7" y1="707.3" x2="39.6" y2="705.5" stroke="#e5786e"/>
<line x1="39.6" y1="705.5" x2="46.6" y2="703.4" stroke="#e56f65"/>
<line x1="46.6" y1="703.4" x2="53.6" y2="708.3" stroke="#e6837b"/>
<line x1="53.6" y1="708.3" x2="60.6" y2="723.3" stroke="#e6c5c1"/>
<line x1="60.6" y1="723.3" x2="67.6" y2="734.7" stroke="#d8e3d3"/>
<line x1="67.6" y1="734.7" x2="74.6" y2="729.0" stroke="#e3dcd8"/>
<line x1="74.6" y1="729.0" x2="81.6" y2="729.0" stroke="#e3dcd8"/>
<line x1="81.6" y1="729.0" x2="88.5" y2="724.7" stroke="#e5cbc7"/>
<line x1="88.5" y1="724.7" x2="95.5" y2="724.0" stroke="#e5c8c4"/>
<line x1="95.5" y1="724.0" x2="102.5" y2="727.6" stroke="#e3d6d2"/>
<line x1="102.5" y1="727.6" x2="109.5" y2="739.0" stroke="#cee5c8"/>
<line x1="109.5" y1="743.2" x2="116.5" y2="743.2" stroke="#c3e6be"/>
<line x1="116.5" y1="743.2" x2="123.5" y2="739.7" stroke="#cce5c7"/>
<line x1="123.5" y1="739.7" x2="130.5" y2="741.8" stroke="#c7e5c1"/>
<line x1="130.5" y1="741.8" x2="137.4" y2="748.9" stroke="#b1e4a8"/>
<line x1="137.4" y1="748.9" x2="144.4" y2="757.5" stroke="#94e186"/>
<line x1="144.4" y1="757.5" x2="151.4" y2="763.2" stroke="#80de6f"/>
<line x1="151.4" y1="763.2" x2="158.4" y2="775.3" stroke="#5fda49"/>
<line x1="158.4" y1="775.3" x2="165.4" y2="768.1" stroke="#72dc5f"/>
<line x1="165.4" y1="768.1" x2="172.4" y2="772.4" stroke="#67db52"/>
<line x1="172.4" y1="772.4" x2="179.4" y2="777.4" stroke="#59d942"/>
<line x1="179.4" y1="777.4" x2="186.3" y2="781.7" stroke="#4ed735"/>
<line x1="186.3" y1="781.7" x2="193.3" y2="780.2" stroke="#52d83a"/>
<line x1="193.3" y1="780.2" x2="200.3" y2="776.0" stroke="#5dd947"/>
<line x1="200.3" y1="776.0" x2="207.3" y2="766.0" stroke="#78dd65"/>
<line x1="207.3" y1="766.0" x2="214.3" y2="767.4" stroke="#74dd61"/>
<line x1="214.3" y1="767.4" x2="221.3" y2="766.0" stroke="#78dd65"/>
<line x1="221.3" y1="766.0" x2="228.3" y2="750.3" stroke="#ace3a2"/>
<line x1="228.3" y1="750.3" x2="235.3" y2="736.1" stroke="#d5e4d0"/>
<line x1="235.3" y1="736.1" x2="242.2" y2="731.8" stroke="#dfe2db"/>
<line x1="242.2" y1="731.8" x2="249.2" y2="728.3" stroke="#e3d9d5"/>
<line x1="249.2" y1="728.3" x2="256.2" y2="727.6" stroke="#e3d6d2"/>
<line x1="256.2" y1="727.6" x2="263.2" y2="729.0" stroke="#e3dcd8"/>
<line x1="263.2" y1="729.0" x2="270.2" y2="723.3" stroke="#e6c5c1"/>
<line x1="270.2" y1="723.3" x2="277.2" y2="716.2" stroke="#e6a69f"/>
<line x1="277.2" y1="716.2" x2="284.2" y2="717.6" stroke="#e6aca6"/>
<line x1="284.2" y1="717.6" x2="291.1" y2="714.0" stroke="#e69c95"/>
<line x1="291.1" y1="714.0" x2="298.1" y2="722.6" stroke="#e6c2be"/>
<line x1="298.1" y1="722.6" x2="305.1" y2="726.9" stroke="#e4d3cf"/>
<line x1="305.1" y1="726.9" x2="312.1" y2="714.0" stroke="#e69c95"/>
<line x1="312.1" y1="714.0" x2="319.1" y2="711.2" stroke="#e68f87"/>
<line x1="319.1" y1="711.2" x2="326.1" y2="709.8" stroke="#e68981"/>
<line x1="326.1" y1="709.8" x2="333.1" y2="711.2" stroke="#e68f87"/>
<line x1="333.1" y1="711.2" x2="340.0" y2="720.4" stroke="#e6b9b4"/>
<line x1="340.0" y1="720.4" x2="347.0" y2="751.8" stroke="#a7e39c"/>
<line x1="347.0" y1="751.8" x2="354.0" y2="766.7" stroke="#76dd63"/>
<line x1="354.0" y1="766.7" x2="361.0" y2="783.1" stroke="#4ad731"/>
<line x1="361.0" y1="783.1" x2="368.0" y2="781.7" stroke="#4ed735"/>
<line x1="368.0" y1="781.7" x2="375.0" y2="783.1" stroke="#4ad731"/>
<line x1="375.0" y1="783.1" x2="382.0" y2="783.8" stroke="#48d72f"/>
<line x1="382.0" y1="783.8" x2="388.9" y2="793.1" stroke="#36d41a"/>
<line x1="388.9" y1="793.1" x2="395.9" y2="795.9" stroke="#36d41a"/>
<line x1="395.9" y1="795.9" x2="402.9" y2="787.4" stroke="#3fd524"/>
<line x1="402.9" y1="787.4" x2="409.9" y2="781.7" stroke="#4ed735"/>
<line x1="409.9" y1="781.7" x2="416.9" y2="758.9" stroke="#8fe080"/>
<line x1="416.9" y1="758.9" x2="423.9" y2="764.6" stroke="#7cde6a"/>
<line x1="423.9" y1="764.6" x2="430.9" y2="767.4" stroke="#74dd61"/>
<line x1="430.9" y1="767.4" x2="437.8" y2="772.4" stroke="#67db52"/>
<line x1="437.8" y1="772.4" x2="444.8" y2="766.0" stroke="#78dd65"/>
<line x1="444.8" y1="766.0" x2="451.8" y2="759.6" stroke="#8ce07d"/>
<line x1="451.8" y1="759.6" x2="458.8" y2="768.9" stroke="#70dc5d"/>
<line x1="458.8" y1="768.9" x2="465.8" y2="762.4" stroke="#83df72"/>
<line x1="465.8" y1="762.4" x2="472.8" y2="763.2" stroke="#80de6f"/>
<line x1="472.8" y1="763.2" x2="479.8" y2="781.7" stroke="#4ed735"/>
<line x1="479.8" y1="781.7" x2="486.7" y2="778.8" stroke="#56d83e"/>
<line x1="486.7" y1="778.8" x2="493.7" y2="770.3" stroke="#6ddc58"/>
<line x1="493.7" y1="770.3" x2="500.7" y2="785.9" stroke="#42d628"/>
<line x1="500.7" y1="785.9" x2="507.7" y2="788.8" stroke="#3bd51f"/>
<line x1="507.7" y1="788.8" x2="514.7" y2="767.4" stroke="#74dd61"/>
<line x1="514.7" y1="767.4" x2="521.7" y2="760.3" stroke="#8adf7a"/>
<line x1="521.7" y1="760.3" x2="528.7" y2="768.9" stroke="#70dc5d"/>
<line x1="528.7" y1="768.9" x2="535.6" y2="751.8" stroke="#a7e39c"/>
<line x1="535.6" y1="751.8" x2="542.6" y2="751.1" stroke="#a9e39f"/>
<line x1="542.6" y1="751.1" x2="549.6" y2="729.0" stroke="#e3dcd8"/>
<line x1="549.6" y1="729.0" x2="556.6" y2="724.7" stroke="#e5cbc7"/>
<line x1="556.6" y1="724.7" x2="563.6" y2="721.9" stroke="#e6bfbb"/>
<line x1="563.6" y1="721.9" x2="570.6" y2="717.6" stroke="#e6aca6"/>
<line x1="570.6" y1="717.6" x2="577.6" y2="716.2" stroke="#e6a69f"/>
<line x1="577.6" y1="716.2" x2="584.6" y2="710.5" stroke="#e68c84"/>
<line x1="584.6" y1="710.5" x2="591.5" y2="710.5" stroke="#e68c84"/>
<line x1="591.5" y1="710.5" x2="598.5" y2="730.4" stroke="#e2e2de"/>
<line x1="598.5" y1="730.4" x2="605.5" y2="758.9" stroke="#8fe080"/>
<line x1="605.5" y1="758.9" x2="612.5" y2="774.6" stroke="#61da4b"/>
<line x1="612.5" y1="774.6" x2="619.5" y2="786.7" stroke="#40d526"/>
<line x1="619.5" y1="786.7" x2="626.5" y2="788.1" stroke="#3dd522"/>
<line x1="626.5" y1="788.1" x2="633.5" y2="780.2" stroke="#52d83a"/>
<line x1="633.5" y1="780.2" x2="640.4" y2="800.2" stroke="#36d41a"/>
<line x1="640.4" y1="800.2" x2="647.4" y2="794.5" stroke="#36d41a"/>
<line x1="647.4" y1="794.5" x2="654.4" y2="787.4" stroke="#3fd524"/>
<line x1="654.4" y1="787.4" x2="661.4" y2="767.4" stroke="#74dd61"/>
<line x1="661.4" y1="767.4" x2="668.4" y2="750.3" stroke="#ace3a2"/>
<line x1="668.4" y1="750.3" x2="675.4" y2="738.2" stroke="#cfe4ca"/>
<line x1="675.4" y1="738.2" x2="682.4" y2="751.8" stroke="#a7e39c"/>
<line x1="682.4" y1="751.8" x2="689.3" y2="744.7" stroke="#bfe6b9"/>
<line x1="689.3" y1="744.7" x2="696.3" y2="738.2" stroke="#cfe4ca"/>
<line x1="696.3" y1="738.2" x2="703.3" y2="731.1" stroke="#e1e2dc"/>
<line x1="703.3" y1="731.1" x2="710.3" y2="726.1" stroke="#e4d1cd"/>
<line x1="710.3" y1="726.1" x2="717.3" y2="726.1" stroke="#e4d1cd"/>
<line x1="717.3" y1="726.1" x2="724.3" y2="729.0" stroke="#e3dcd8"/>
<line x1="724.3" y1="729.0" x2="731.3" y2="740.4" stroke="#cae5c5"/>
<line x1="731.3" y1="740.4" x2="738.2" y2="723.3" stroke="#e6c5c1"/>
<line x1="738.2" y1="723.3" x2="745.2" y2="731.1" stroke="#e1e2dc"/>
<line x1="745.2" y1="731.1" x2="752.2" y2="727.6" stroke="#e3d6d2"/>
<line x1="752.2" y1="727.6" x2="759.2" y2="740.4" stroke="#cae5c5"/>
<line x1="759.2" y1="740.4" x2="766.2" y2="747.5" stroke="#b6e5ad"/>
<line x1="766.2" y1="747.5" x2="773.2" y2="746.8" stroke="#b8e5b0"/>
<line x1="773.2" y1="746.8" x2="780.2" y2="764.6" stroke="#7cde6a"/>
<line x1="780.2" y1="764.6" x2="787.1" y2="771.7" stroke="#69db54"/>
<line x1="787.1" y1="771.7" x2="794.1" y2="787.4" stroke="#3fd524"/>
<line x1="794.1" y1="787.4" x2="801.1" y2="773.1" stroke="#65db4f"/>
<line x1="801.1" y1="773.1" x2="808.1" y2="771.7" stroke="#69db54"/>
<line x1="808.1" y1="771.7" x2="815.1" y2="771.0" stroke="#6bdb56"/>
<line x1="815.1" y1="771.0" x2="822.1" y2="777.4" stroke="#59d942"/>
<line x1="822.1" y1="777.4" x2="829.1" y2="770.3" stroke="#6ddc58"/>
<line x1="829.1" y1="770.3" x2="836.0" y2="756.0" stroke="#99e18b"/>
<line x1="836.0" y1="756.0" x2="843.0" y2="741.8" stroke="#c7e5c1"/>
<line x1="843.0" y1="741.8" x2="850.0" y2="724.7" stroke="#e5cbc7"/>
<line x1="850.0" y1="724.7" x2="857.0" y2="717.6" stroke="#e6aca6"/>
<line x1="857.0" y1="717.6" x2="864.0" y2="715.5" stroke="#e6a29c"/>
<line x1="864.0" y1="715.5" x2="871.0" y2="716.2" stroke="#e6a69f"/>
<line x1="871.0" y1="716.2" x2="878.0" y2="712.6" stroke="#e6968e"/>
<line x1="878.0" y1="712.6" x2="885.0" y2="716.2" stroke="#e6a69f"/>
<line x1="885.0" y1="716.2" x2="891.9" y2="731.8" stroke="#dfe2db"/>
<line x1="891.9" y1="731.8" x2="898.9" y2="743.2" stroke="#c3e6be"/>
<line x1="898.9" y1="743.2" x2="905.9" y2="754.6" stroke="#9de291"/>
<line x1="905.9" y1="754.6" x2="912.9" y2="757.5" stroke="#94e186"/>
<line x1="912.9" y1="757.5" x2="919.9" y2="766.0" stroke="#78dd65"/>
<line x1="919.9" y1="766.0" x2="926.9" y2="761.7" stroke="#85df74"/>
<line x1="926.9" y1="761.7" x2="933.9" y2="780.2" stroke="#52d83a"/>
<line x1="933.9" y1="780.2" x2="940.8" y2="719.0" stroke="#e6b2ad"/>
<line x1="940.8" y1="719.0" x2="947.8" y2="720.4" stroke="#e6b9b4"/>
<line x1="947.8" y1="720.4" x2="954.8" y2="717.6" stroke="#e6aca6"/>
<line x1="954.8" y1="717.6" x2="961.8" y2="710.5" stroke="#e68c84"/>
<line x1="961.8" y1="710.5" x2="968.8" y2="705.5" stroke="#e5786e"/>
<line x1="968.8" y1="705.5" x2="975.8" y2="701.9" stroke="#e46a5e"/>
<line x1="975.8" y1="701.9" x2="982.8" y2="696.2" stroke="#e35345"/>
<line x1="982.8" y1="696.2" x2="989.7" y2="697.0" stroke="#e35648"/>
<line x1="989.7" y1="697.0" x2="996.7" y2="724.7" stroke="#e5cbc7"/>
<line x1="996.7" y1="724.7" x2="1003.7" y2="731.8" stroke="#dfe2db"/>
<line x1="1003.7" y1="731.8" x2="1010.7" y2="731.1" stroke="#e1e2dc"/>
<line x1="1010.7" y1="731.1" x2="1017.7" y2="719.0" stroke="#e6b2ad"/>
<line x1="1017.7" y1="719.0" x2="1024.7" y2="720.4" stroke="#e6b9b4"/>
<line x1="1024.7" y1="720.4" x2="1031.7" y2="712.6" stroke="#e6968e"/>
<line x1="1031.7" y1="712.6" x2="1038.6" y2="722.6" stroke="#e6c2be"/>
<line x1="1038.6" y1="722.6" x2="1045.6" y2="726.4" stroke="#e4d2ce"/>
<line x1="1045.6" y1="726.4" x2="1052.6" y2="724.0" stroke="#e5c8c4"/>
<line x1="1052.6" y1="724.0" x2="1059.6" y2="715.5" stroke="#e6a29c"/>
<line x1="1059.6" y1="715.5" x2="1066.6" y2="720.4" stroke="#e6b9b4"/>
<line x1="1066.6" y1="720.4" x2="1073.6" y2="713.3" stroke="#e69992"/>
<line x1="1073.6" y1="713.3" x2="1080.6" y2="712.6" stroke="#e6968e"/>
<line x1="1080.6" y1="712.6" x2="1087.5" y2="716.9" stroke="#e6a9a3"/>
<line x1="1087.5" y1="716.9" x2="1094.5" y2="710.5" stroke="#e68c84"/>
<line x1="1094.5" y1="710.5" x2="1101.5" y2="705.5" stroke="#e5786e"/>
<line x1="1101.5" y1="705.5" x2="1108.5" y2="705.5" stroke="#e5786e"/>
<line x1="1108.5" y1="705.5" x2="1115.5" y2="701.9" stroke="#e46a5e"/>
<line x1="1115.5" y1="701.9" x2="1122.5" y2="699.1" stroke="#e45e52"/>
<line x1="1122.5" y1="699.1" x2="1129.5" y2="704.1" stroke="#e57268"/>
<line x1="11.7" y1="722.6" x2="18.7" y2="716.2" stroke="#e6a69f"/>
<line x1="18.7" y1="716.2" x2="25.7" y2="706.9" stroke="#e57e74"/>
<line x1="25.7" y1="706.9" x2="32.7" y2="707.6" stroke="#e58177"/>
<line x1="32.7" y1="707.6" x2="39.6" y2="707.6" stroke="#e58177"/>
<line x1="39.6" y1="707.6" x2="46.6" y2="710.5" stroke="#e68c84"/>
<line x1="46.6" y1="710.5" x2="53.6" y2="714.0" stroke="#e69c95"/>
<line x1="53.6" y1="714.0" x2="60.6" y2="725.4" stroke="#e5ceca"/>
<line x1="60.6" y1="725.4" x2="67.6" y2="736.1" stroke="#d5e4d0"/>
<line x1="67.6" y1="736.1" x2="74.6" y2="735.0" stroke="#d7e3d3"/>
<line x1="74.6" y1="735.0" x2="81.6" y2="731.8" stroke="#dfe2db"/>
<line x1="81.6" y1="731.8" x2="88.5" y2="736.1" stroke="#d5e4d0"/>
<line x1="88.5" y1="736.1" x2="95.5" y2="741.8" stroke="#c7e5c1"/>
<line x1="95.5" y1="741.8" x2="102.5" y2="740.4" stroke="#cae5c5"/>
<line x1="102.5" y1="740.4" x2="109.5" y2="743.2" stroke="#c3e6be"/>
<line x1="109.5" y1="758.9" x2="116.5" y2="756.0" stroke="#99e18b"/>
<line x1="116.5" y1="756.0" x2="123.5" y2="759.6" stroke="#8ce07d"/>
<line x1="123.5" y1="759.6" x2="130.5" y2="762.4" stroke="#83df72"/>
<line x1="130.5" y1="762.4" x2="137.4" y2="766.7" stroke="#76dd63"/>
<line x1="137.4" y1="766.7" x2="144.4" y2="768.9" stroke="#70dc5d"/>
<line x1="144.4" y1="768.9" x2="151.4" y2="773.1" stroke="#65db4f"/>
<line x1="151.4" y1="773.1" x2="158.4" y2="776.0" stroke="#5dd947"/>
<line x1="158.4" y1="776.0" x2="165.4" y2="784.5" stroke="#46d62c"/>
<line x1="165.4" y1="784.5" x2="172.4" y2="780.2" stroke="#52d83a"/>
<line x1="172.4" y1="780.2" x2="179.4" y2="778.8" stroke="#56d83e"/>
<line x1="179.4" y1="778.8" x2="186.3" y2="783.8" stroke="#48d72f"/>
<line x1="186.3" y1="783.8" x2="193.3" y2="781.7" stroke="#4ed735"/>
<line x1="193.3" y1="781.7" x2="200.3" y2="778.8" stroke="#56d83e"/>
<line x1="200.3" y1="778.8" x2="207.3" y2="774.6" stroke="#61da4b"/>
<line x1="207.3" y1="774.6" x2="214.3" y2="775.3" stroke="#5fda49"/>
<line x1="214.3" y1="775.3" x2="221.3" y2="773.1" stroke="#65db4f"/>
<line x1="221.3" y1="773.1" x2="228.3" y2="753.2" stroke="#a2e297"/>
<line x1="228.3" y1="753.2" x2="235.3" y2="743.2" stroke="#c3e6be"/>
<line x1="235.3" y1="743.2" x2="242.2" y2="737.5" stroke="#d1e4cc"/>
<line x1="242.2" y1="737.5" x2="249.2" y2="730.4" stroke="#e2e2de"/>
<line x1="249.2" y1="730.4" x2="256.2" y2="728.3" stroke="#e3d9d5"/>
<line x1="256.2" y1="728.3" x2="263.2" y2="731.8" stroke="#dfe2db"/>
<line x1="263.2" y1="731.8" x2="270.2" y2="732.5" stroke="#dde3d9"/>
<line x1="270.2" y1="732.5" x2="277.2" y2="733.3" stroke="#dbe3d7"/>
<line x1="277.2" y1="733.3" x2="284.2" y2="735.4" stroke="#d6e3d2"/>
<line x1="284.2" y1="735.4" x2="291.1" y2="726.1" stroke="#e4d1cd"/>
<line x1="291.1" y1="726.1" x2="298.1" y2="731.8" stroke="#dfe2db"/>
<line x1="298.1" y1="731.8" x2="305.1" y2="727.6" stroke="#e3d6d2"/>
<line x1="305.1" y1="727.6" x2="312.1" y2="726.1" stroke="#e4d1cd"/>
<line x1="312.1" y1="726.1" x2="319.1" y2="717.6" stroke="#e6aca6"/>
<line x1="319.1" y1="717.6" x2="326.1" y2="710.5" stroke="#e68c84"/>
<line x1="326.1" y1="710.5" x2="333.1" y2="723.3" stroke="#e6c5c1"/>
<line x1="333.1" y1="723.3" x2="340.0" y2="730.4" stroke="#e2e2de"/>
<line x1="340.0" y1="730.4" x2="347.0" y2="757.5" stroke="#94e186"/>
<line x1="347.0" y1="757.5" x2="354.0" y2="776.7" stroke="#5bd945"/>
<line x1="354.0" y1="776.7" x2="361.0" y2="793.1" stroke="#36d41a"/>
<line x1="361.0" y1="793.1" x2="368.0" y2="795.9" stroke="#36d41a"/>
<line x1="368.0" y1="795.9" x2="375.0" y2="788.8" stroke="#3bd51f"/>
<line x1="375.0" y1="788.8" x2="382.0" y2="799.5" stroke="#36d41a"/>
<line x1="382.0" y1="799.5" x2="388.9" y2="799.5" stroke="#36d41a"/>
<line x1="388.9" y1="799.5" x2="395.9" y2="799.5" stroke="#36d41a"/>
<line x1="395.9" y1="799.5" x2="402.9" y2="790.2" stroke="#37d41b"/>
<line x1="402.9" y1="790.2" x2="409.9" y2="794.5" stroke="#36d41a"/>
<line x1="409.9" y1="794.5" x2="416.9" y2="787.4" stroke="#3fd524"/>
<line x1="416.9" y1="787.4" x2="423.9" y2="777.4" stroke="#59d942"/>
<line x1="423.9" y1="777.4" x2="430.9" y2="774.6" stroke="#61da4b"/>
<line x1="430.9" y1="774.6" x2="437.8" y2="773.1" stroke="#65db4f"/>
<line x1="437.8" y1="773.1" x2="444.8" y2="770.3" stroke="#6ddc58"/>
<line x1="444.8" y1="770.3" x2="451.8" y2="763.9" stroke="#7ede6c"/>
<line x1="451.8" y1="763.9" x2="458.8" y2="778.8" stroke="#56d83e"/>
<line x1="458.8" y1="778.8" x2="465.8" y2="787.4" stroke="#3fd524"/>
<line x1="465.8" y1="787.4" x2="472.8" y2="783.1" stroke="#4ad731"/>
<line x1="472.8" y1="783.1" x2="479.8" y2="783.1" stroke="#4ad731"/>
<line x1="479.8" y1="783.1" x2="486.7" y2="801.6" stroke="#36d41a"/>
<line x1="486.7" y1="801.6" x2="493.7" y2="805.9" stroke="#36d41a"/>
<line x1="493.7" y1="805.9" x2="500.7" y2="803.0" stroke="#36d41a"/>
<line x1="500.7" y1="803.0" x2="507.7" y2="810.9" stroke="#36d41a"/>
<line x1="507.7" y1="810.9" x2="514.7" y2="807.3" stroke="#36d41a"/>
<line x1="514.7" y1="807.3" x2="521.7" y2="801.6" stroke="#36d41a"/>
<line x1="521.7" y1="801.6" x2="528.7" y2="796.6" stroke="#36d41a"/>
<line x1="528.7" y1="796.6" x2="535.6" y2="799.5" stroke="#36d41a"/>
<line x1="535.6" y1="799.5" x2="542.6" y2="783.1" stroke="#4ad731"/>
<line x1="542.6" y1="783.1" x2="549.6" y2="767.4" stroke="#74dd61"/>
<line x1="549.6" y1="767.4" x2="556.6" y2="759.6" stroke="#8ce07d"/>
<line x1="556.6" y1="759.6" x2="563.6" y2="740.4" stroke="#cae5c5"/>
<line x1="563.6" y1="740.4" x2="570.6" y2="718.3" stroke="#e6afaa"/>
<line x1="570.6" y1="718.3" x2="577.6" y2="716.9" stroke="#e6a9a3"/>
<line x1="577.6" y1="716.9" x2="584.6" y2="719.0" stroke="#e6b2ad"/>
<line x1="584.6" y1="719.0" x2="591.5" y2="723.3" stroke="#e6c5c1"/>
<line x1="591.5" y1="723.3" x2="598.5" y2="753.2" stroke="#a2e297"/>
<line x1="598.5" y1="753.2" x2="605.5" y2="795.9" stroke="#36d41a"/>
<line x1="605.5" y1="795.9" x2="612.5" y2="804.5" stroke="#36d41a"/>
<line x1="612.5" y1="804.5" x2="619.5" y2="807.3" stroke="#36d41a"/>
<line x1="619.5" y1="807.3" x2="626.5" y2="805.9" stroke="#36d41a"/>
<line x1="626.5" y1="805.9" x2="633.5" y2="807.3" stroke="#36d41a"/>
<line x1="633.5" y1="807.3" x2="640.4" y2="803.0" stroke="#36d41a"/>
<line x1="640.4" y1="803.0" x2="647.4" y2="795.9" stroke="#36d41a"/>
<line x1="647.4" y1="795.9" x2="654.4" y2="800.2" stroke="#36d41a"/>
<line x1="654.4" y1="800.2" x2="661.4" y2="794.5" stroke="#36d41a"/>
<line x1="661.4" y1="794.5" x2="668.4" y2="787.4" stroke="#3fd524"/>
<line x1="668.4" y1="787.4" x2="675.4" y2="780.2" stroke="#52d83a"/>
<line x1="675.4" y1="780.2" x2="682.4" y2="773.1" stroke="#65db4f"/>
<line x1="682.4" y1="773.1" x2="689.3" y2="756.0" stroke="#99e18b"/>
<line x1="689.3" y1="756.0" x2="696.3" y2="740.4" stroke="#cae5c5"/>
<line x1="696.3" y1="740.4" x2="703.3" y2="734.7" stroke="#d8e3d3"/>
<line x1="703.3" y1="734.7" x2="710.3" y2="727.6" stroke="#e3d6d2"/>
<line x1="710.3" y1="727.6" x2="717.3" y2="727.6" stroke="#e3d6d2"/>
<line x1="717.3" y1="727.6" x2="724.3" y2="731.1" stroke="#e1e2dc"/>
<line x1="724.3" y1="731.1" x2="731.3" y2="751.1" stroke="#a9e39f"/>
<line x1="731.3" y1="751.1" x2="738.2" y2="746.8" stroke="#b8e5b0"/>
<line x1="738.2" y1="746.8" x2="745.2" y2="736.1" stroke="#d5e4d0"/>
<line x1="745.2" y1="736.1" x2="752.2" y2="747.5" stroke="#b6e5ad"/>
<line x1="752.2" y1="747.5" x2="759.2" y2="753.2" stroke="#a2e297"/>
<line x1="759.2" y1="753.2" x2="766.2" y2="781.7" stroke="#4ed735"/>
<line x1="766.2" y1="781.7" x2="773.2" y2="783.1" stroke="#4ad731"/>
<line x1="773.2" y1="783.1" x2="780.2" y2="790.2" stroke="#37d41b"/>
<line x1="780.2" y1="790.2" x2="787.1" y2="781.7" stroke="#4ed735"/>
<line x1="787.1" y1="781.7" x2="794.1" y2="795.9" stroke="#36d41a"/>
<line x1="794.1" y1="795.9" x2="801.1" y2="788.8" stroke="#3bd51f"/>
<line x1="801.1" y1="788.8" x2="808.1" y2="798.8" stroke="#36d41a"/>
<line x1="808.1" y1="798.8" x2="815.1" y2="784.5" stroke="#46d62c"/>
<line x1="815.1" y1="784.5" x2="822.1" y2="790.2" stroke="#37d41b"/>
<line x1="822.1" y1="790.2" x2="829.1" y2="798.8" stroke="#36d41a"/>
<line x1="829.1" y1="798.8" x2="836.0" y2="791.6" stroke="#36d41a"/>
<line x1="836.0" y1="791.6" x2="843.0" y2="770.3" stroke="#6ddc58"/>
<line x1="843.0" y1="770.3" x2="850.0" y2="764.6" stroke="#7cde6a"/>
<line x1="850.0" y1="764.6" x2="857.0" y2="751.8" stroke="#a7e39c"/>
<line x1="857.0" y1="751.8" x2="864.0" y2="736.1" stroke="#d5e4d0"/>
<line x1="864.0" y1="736.1" x2="871.0" y2="722.6" stroke="#e6c2be"/>
<line x1="871.0" y1="722.6" x2="878.0" y2="736.1" stroke="#d5e4d0"/>
<line x1="878.0" y1="736.1" x2="885.0" y2="751.8" stroke="#a7e39c"/>
<line x1="885.0" y1="751.8" x2="891.9" y2="774.6" stroke="#61da4b"/>
<line x1="891.9" y1="774.6" x2="898.9" y2="798.8" stroke="#36d41a"/>
<line x1="898.9" y1="798.8" x2="905.9" y2="794.5" stroke="#36d41a"/>
<line x1="905.9" y1="794.5" x2="912.9" y2="793.1" stroke="#36d41a"/>
<line x1="912.9" y1="793.1" x2="919.9" y2="793.1" stroke="#36d41a"/>
<line x1="919.9" y1="793.1" x2="926.9" y2="774.6" stroke="#61da4b"/>
<line x1="926.9" y1="774.6" x2="933.9" y2="784.5" stroke="#46d62c"/>
<line x1="933.9" y1="784.5" x2="940.8" y2="722.6" stroke="#e6c2be"/>
<line x1="940.8" y1="722.6" x2="947.8" y2="731.8" stroke="#dfe2db"/>
<line x1="947.8" y1="731.8" x2="954.8" y2="734.7" stroke="#d8e3d3"/>
<line x1="954.8" y1="734.7" x2="961.8" y2="716.2" stroke="#e6a69f"/>
<line x1="961.8" y1="716.2" x2="968.8" y2="708.3" stroke="#e6837b"/>
<line x1="968.8" y1="708.3" x2="975.8" y2="704.8" stroke="#e5756b"/>
<line x1="975.8" y1="704.8" x2="982.8" y2="699.1" stroke="#e45e52"/>
<line x1="982.8" y1="699.1" x2="989.7" y2="703.4" stroke="#e56f65"/>
<line x1="989.7" y1="703.4" x2="996.7" y2="733.3" stroke="#dbe3d7"/>
<line x1="996.7" y1="733.3" x2="1003.7" y2="737.5" stroke="#d1e4cc"/>
<line x1="1003.7" y1="737.5" x2="1010.7" y2="740.4" stroke="#cae5c5"/>
<line x1="1010.7" y1="740.4" x2="1017.7" y2="744.7" stroke="#bfe6b9"/>
<line x1="1017.7" y1="744.7" x2="1024.7" y2="736.1" stroke="#d5e4d0"/>
<line x1="1024.7" y1="736.1" x2="1031.7" y2="727.6" stroke="#e3d6d2"/>
<line x1="1031.7" y1="727.6" x2="1038.6" y2="741.8" stroke="#c7e5c1"/>
<line x1="1038.6" y1="741.8" x2="1045.6" y2="741.8" stroke="#c7e5c1"/>
<line x1="1045.6" y1="741.8" x2="1052.6" y2="731.8" stroke="#dfe2db"/>
<line x1="1052.6" y1="731.8" x2="1059.6" y2="725.4" stroke="#e5ceca"/>
<line x1="1059.6" y1="725.4" x2="1066.6" y2="721.2" stroke="#e6bcb8"/>
<line x1="1066.6" y1="721.2" x2="1073.6" y2="740.4" stroke="#cae5c5"/>
<line x1="1073.6" y1="740.4" x2="1080.6" y2="729.0" stroke="#e3dcd8"/>
<line x1="1080.6" y1="729.0" x2="1087.5" y2="729.0" stroke="#e3dcd8"/>
<line x1="1087.5" y1="729.0" x2="1094.5" y2="731.1" stroke="#e1e2dc"/>
<line x1="1094.5" y1="731.1" x2="1101.5" y2="733.3" stroke="#dbe3d7"/>
<line x1="1101.5" y1="733.3" x2="1108.5" y2="737.5" stroke="#d1e4cc"/>
<line x1="1108.5" y1="737.5" x2="1115.5" y2="736.8" stroke="#d3e4ce"/>
<line x1="1115.5" y1="736.8" x2="1122.5" y2="739.0" stroke="#cee5c8"/>
<line x1="1122.5" y1="739.0" x2="1129.5" y2="734.0" stroke="#dae3d5"/>
</g>
<text x="9.8" y="19" fill="#d9d9d9" font-size="12" font-weight="bold" text-anchor="start" font-family="'Liberation Sans', Arial, sans-serif"  textLength="377.8" lengthAdjust="spacingAndGlyphs">brucegibbs created with TradingView.com, Feb 04, 2026 11:53 UTC+11</text>
<text x="17.9" y="46" fill="#c0c0c0" font-size="12" font-weight="normal" text-anchor="start" font-family="'Liberation Sans', Arial, sans-serif"  textLength="183.7" lengthAdjust="spacingAndGlyphs">SPDR Gold Shares · 1h · NYSE Arca</text>
<text x="209.3" y="46" fill="#c0c0c0" font-size="12" font-weight="normal" text-anchor="start" font-family="'Liberation Sans', Arial, sans-serif" >O</text>
<text x="217.5" y="46" fill="#089981" font-size="12" font-weight="normal" text-anchor="start" font-family="'Liberation Sans', Arial, sans-serif" >453.88</text>
<text x="260.6" y="46" fill="#c0c0c0" font-size="12" font-weight="normal" text-anchor="start" font-family="'Liberation Sans', Arial, sans-serif" >H</text>
<text x="268.1" y="46" fill="#089981" font-size="12" font-weight="normal" text-anchor="start" font-family="'Liberation Sans', Arial, sans-serif" >455.59</text>
<text x="311.3" y="46" fill="#c0c0c0" font-size="12" font-weight="normal" text-anchor="start" font-family="'Liberation Sans', Arial, sans-serif" >L</text>
<text x="317.2" y="46" fill="#089981" font-size="12" font-weight="normal" text-anchor="start" font-family="'Liberation Sans', Arial, sans-serif" >453.34</text>
<text x="360.4" y="46" fill="#c0c0c0" font-size="12" font-weight="normal" text-anchor="start" font-family="'Liberation Sans', Arial, sans-serif" >C</text>
<text x="367.9" y="46" fill="#089981" font-size="12" font-weight="normal" text-anchor="start" font-family="'Liberation Sans', Arial, sans-serif" >454.26</text>
<text x="410.4" y="46" fill="#089981" font-size="12" font-weight="normal" text-anchor="start" font-family="'Liberation Sans', Arial, sans-serif"  textLength="79.1" lengthAdjust="spacingAndGlyphs">+0.28 (+0.06%)</text>
<text x="497.1" y="46" fill="#089981" font-size="12" font-weight="normal" text-anchor="start" font-family="'Liberation Sans', Arial, sans-serif"  textLength="84.3" lengthAdjust="spacingAndGlyphs">+27.16 (+6.36%)</text>
<text x="18.2" y="362.5" fill="#c0c0c0" font-size="12" font-weight="normal" text-anchor="start" font-family="'Liberation Sans', Arial, sans-serif"  textLength="120.8" lengthAdjust="spacingAndGlyphs">Time-layered Liquidity</text>
<text x="146.5" y="362.5" fill="#d64a3a" font-size="12" font-weight="normal" text-anchor="start" font-family="'Liberation Sans', Arial, sans-serif" >0.8851</text>
<text x="190" y="362.5" fill="#d43c2e" font-size="12" font-weight="normal" text-anchor="start" font-family="'Liberation Sans', Arial, sans-serif" >0.9607</text>
<text x="233" y="362.5" fill="#d43c2e" font-size="12" font-weight="normal" text-anchor="start" font-family="'Liberation Sans', Arial, sans-serif" >0.7696</text>
<text x="276" y="362.5" fill="#e6a29a" font-size="12" font-weight="normal" text-anchor="start" font-family="'Liberation Sans', Arial, sans-serif" >0.7186</text>
<text x="319" y="362.5" fill="#d9695d" font-size="12" font-weight="normal" text-anchor="start" font-family="'Liberation Sans', Arial, sans-serif" >0.8116</text>
<text x="362.4" y="362.5" fill="#c0c0c0" font-size="12" font-weight="normal" text-anchor="start" font-family="'Liberation Sans', Arial, sans-serif"  textLength="7.4" lengthAdjust="spacingAndGlyphs">Ø</text>
<text x="18.3" y="480" fill="#c0c0c0" font-size="12" font-weight="normal" text-anchor="start" font-family="'Liberation Sans', Arial, sans-serif"  textLength="105" lengthAdjust="spacingAndGlyphs">Liquidity Sentiment</text>
<text x="18.4" y="683.7" fill="#c0c0c0" font-size="12" font-weight="normal" text-anchor="start" font-family="'Liberation Sans', Arial, sans-serif"  textLength="77.9" lengthAdjust="spacingAndGlyphs">Irreg. Liq. MTF</text>
<text x="104.7" y="683.7" fill="#e05a50" font-size="12" font-weight="normal" text-anchor="start" font-family="'Liberation Sans', Arial, sans-serif" >0.2846</text>
<text x="147.4" y="683.7" fill="#e0908a" font-size="12" font-weight="normal" text-anchor="start" font-family="'Liberation Sans', Arial, sans-serif" >0.1972</text>
<text x="190.9" y="683.7" fill="#dce6dc" font-size="12" font-weight="normal" text-anchor="start" font-family="'Liberation Sans', Arial, sans-serif" >−0.0303</text>
<text x="239.8" y="683.7" fill="#f5a000" font-size="12" font-weight="normal" text-anchor="start" font-family="'Liberation Sans', Arial, sans-serif" >0.0000</text>
<text x="1750" y="101.8" fill="#c4c4c4" font-size="12" font-weight="normal" text-anchor="start" font-family="'Liberation Sans', Arial, sans-serif" >500.00</text>
<text x="1750" y="143.8" fill="#c4c4c4" font-size="12" font-weight="normal" text-anchor="start" font-family="'Liberation Sans', Arial, sans-serif" >480.00</text>
<text x="1750" y="225.8" fill="#c4c4c4" font-size="12" font-weight="normal" text-anchor="start" font-family="'Liberation Sans', Arial, sans-serif" >440.00</text>
<text x="1750" y="266.8" fill="#c4c4c4" font-size="12" font-weight="normal" text-anchor="start" font-family="'Liberation Sans', Arial, sans-serif" >420.00</text>
<text x="1750" y="308.8" fill="#c4c4c4" font-size="12" font-weight="normal" text-anchor="start" font-family="'Liberation Sans', Arial, sans-serif" >400.00</text>
<text x="1750" y="360.8" fill="#c4c4c4" font-size="12" font-weight="normal" text-anchor="start" font-family="'Liberation Sans', Arial, sans-serif" >1.0000</text>
<text x="1750" y="407.8" fill="#c4c4c4" font-size="12" font-weight="normal" text-anchor="start" font-family="'Liberation Sans', Arial, sans-serif" >0.5000</text>
<text x="1750" y="454.8" fill="#c4c4c4" font-size="12" font-weight="normal" text-anchor="start" font-family="'Liberation Sans', Arial, sans-serif" >0.0000</text>
<text x="1750" y="494.8" fill="#c4c4c4" font-size="12" font-weight="normal" text-anchor="start" font-family="'Liberation Sans', Arial, sans-serif" >−80,000.00</text>
<text x="1750" y="532.8" fill="#c4c4c4" font-size="12" font-weight="normal" text-anchor="start" font-family="'Liberation Sans', Arial, sans-serif" >−120,000.00</text>
<text x="1750" y="571.8" fill="#c4c4c4" font-size="12" font-weight="normal" text-anchor="start" font-family="'Liberation Sans', Arial, sans-serif" >−160,000.00</text>
<text x="1750" y="609.8" fill="#c4c4c4" font-size="12" font-weight="normal" text-anchor="start" font-family="'Liberation Sans', Arial, sans-serif" >−200,000.00</text>
<text x="1750" y="647.8" fill="#c4c4c4" font-size="12" font-weight="normal" text-anchor="start" font-family="'Liberation Sans', Arial, sans-serif" >−240,000.00</text>
<text x="1750" y="734.8" fill="#c4c4c4" font-size="12" font-weight="normal" text-anchor="start" font-family="'Liberation Sans', Arial, sans-serif" >0.0000</text>
<text x="1750" y="801.8" fill="#c4c4c4" font-size="12" font-weight="normal" text-anchor="start" font-family="'Liberation Sans', Arial, sans-serif" >−0.5000</text>
<rect x="1745" y="30.8" width="76.2" height="26.6" rx="4.5" ry="4.5" fill="#0f0f0f" stroke="#363636" stroke-width="1.3"/>
<text x="1753.7" y="49.2" fill="#d4d4d4" font-size="12" font-weight="bold" text-anchor="start" font-family="'Liberation Sans', Arial, sans-serif"  textLength="21" lengthAdjust="spacingAndGlyphs">USD</text>
<rect x="1710" y="167" width="31" height="17" rx="2" fill="#2962ff"/>
<text x="1725.5" y="179.8" fill="#ffffff" font-size="12" font-weight="normal" text-anchor="middle" font-family="'Liberation Sans', Arial, sans-serif" >Post</text>
<rect x="1742" y="167" width="49" height="17" rx="2" fill="#2962ff"/>
<text x="1767" y="179.8" fill="#ffffff" font-size="12" font-weight="normal" text-anchor="middle" font-family="'Liberation Sans', Arial, sans-serif" >459.59</text>
<rect x="1742" y="184" width="49" height="17" rx="2" fill="#089981"/>
<text x="1767" y="197" fill="#ffffff" font-size="12" font-weight="normal" text-anchor="middle" font-family="'Liberation Sans', Arial, sans-serif" >454.26</text>
<defs><clipPath id="ctax"><rect x="11" y="826" width="1730" height="26"/></clipPath></defs>
<g clip-path="url(#ctax)">
<text x="11.7" y="843" fill="#c4c4c4" font-size="12" font-weight="normal" text-anchor="middle" font-family="'Liberation Sans', Arial, sans-serif" >2026</text>
<text x="109.5" y="843" fill="#c4c4c4" font-size="12" font-weight="normal" text-anchor="middle" font-family="'Liberation Sans', Arial, sans-serif" >6</text>
<text x="207.3" y="843" fill="#c4c4c4" font-size="12" font-weight="normal" text-anchor="middle" font-family="'Liberation Sans', Arial, sans-serif" >8</text>
<text x="305.1" y="843" fill="#c4c4c4" font-size="12" font-weight="normal" text-anchor="middle" font-family="'Liberation Sans', Arial, sans-serif" >10</text>
<text x="402.9" y="843" fill="#c4c4c4" font-size="12" font-weight="normal" text-anchor="middle" font-family="'Liberation Sans', Arial, sans-serif" >14</text>
<text x="500.7" y="843" fill="#c4c4c4" font-size="12" font-weight="normal" text-anchor="middle" font-family="'Liberation Sans', Arial, sans-serif" >16</text>
<text x="598.5" y="843" fill="#c4c4c4" font-size="12" font-weight="normal" text-anchor="middle" font-family="'Liberation Sans', Arial, sans-serif" >21</text>
<text x="696.3" y="843" fill="#c4c4c4" font-size="12" font-weight="normal" text-anchor="middle" font-family="'Liberation Sans', Arial, sans-serif" >23</text>
<text x="794.1" y="843" fill="#c4c4c4" font-size="12" font-weight="normal" text-anchor="middle" font-family="'Liberation Sans', Arial, sans-serif" >27</text>
<text x="891.9" y="843" fill="#c4c4c4" font-size="12" font-weight="normal" text-anchor="middle" font-family="'Liberation Sans', Arial, sans-serif" >29</text>
<text x="1038.6" y="843" fill="#c4c4c4" font-size="12" font-weight="normal" text-anchor="middle" font-family="'Liberation Sans', Arial, sans-serif" >Feb</text>
<text x="1136.4" y="843" fill="#c4c4c4" font-size="12" font-weight="normal" text-anchor="middle" font-family="'Liberation Sans', Arial, sans-serif" >5</text>
<text x="1234.2" y="843" fill="#c4c4c4" font-size="12" font-weight="normal" text-anchor="middle" font-family="'Liberation Sans', Arial, sans-serif" >7</text>
<text x="1332.1" y="843" fill="#c4c4c4" font-size="12" font-weight="normal" text-anchor="middle" font-family="'Liberation Sans', Arial, sans-serif" >11</text>
<text x="1429.9" y="843" fill="#c4c4c4" font-size="12" font-weight="normal" text-anchor="middle" font-family="'Liberation Sans', Arial, sans-serif" >13</text>
<text x="1527.7" y="843" fill="#c4c4c4" font-size="12" font-weight="normal" text-anchor="middle" font-family="'Liberation Sans', Arial, sans-serif" >18</text>
<text x="1625.5" y="843" fill="#c4c4c4" font-size="12" font-weight="normal" text-anchor="middle" font-family="'Liberation Sans', Arial, sans-serif" >20</text>
<text x="1723.3" y="843" fill="#c4c4c4" font-size="12" font-weight="normal" text-anchor="middle" font-family="'Liberation Sans', Arial, sans-serif" >24</text>
</g>
<g fill="#d9d9d9">
<path d="M11.9 874.8 H23.6 V890 H17.3 V880.7 H11.9 Z"/>
<circle cx="29" cy="877.8" r="2.9"/>
<path d="M33.4 874.8 H41.8 L36.4 890 H29 Z"/>
</g>
<text x="49.1" y="890" fill="#e0e0e0" font-size="21" font-weight="bold" text-anchor="start" font-family="'Liberation Sans', Arial, sans-serif"  textLength="120.7" lengthAdjust="spacingAndGlyphs">TradingView</text>
</svg>
</body></html>
